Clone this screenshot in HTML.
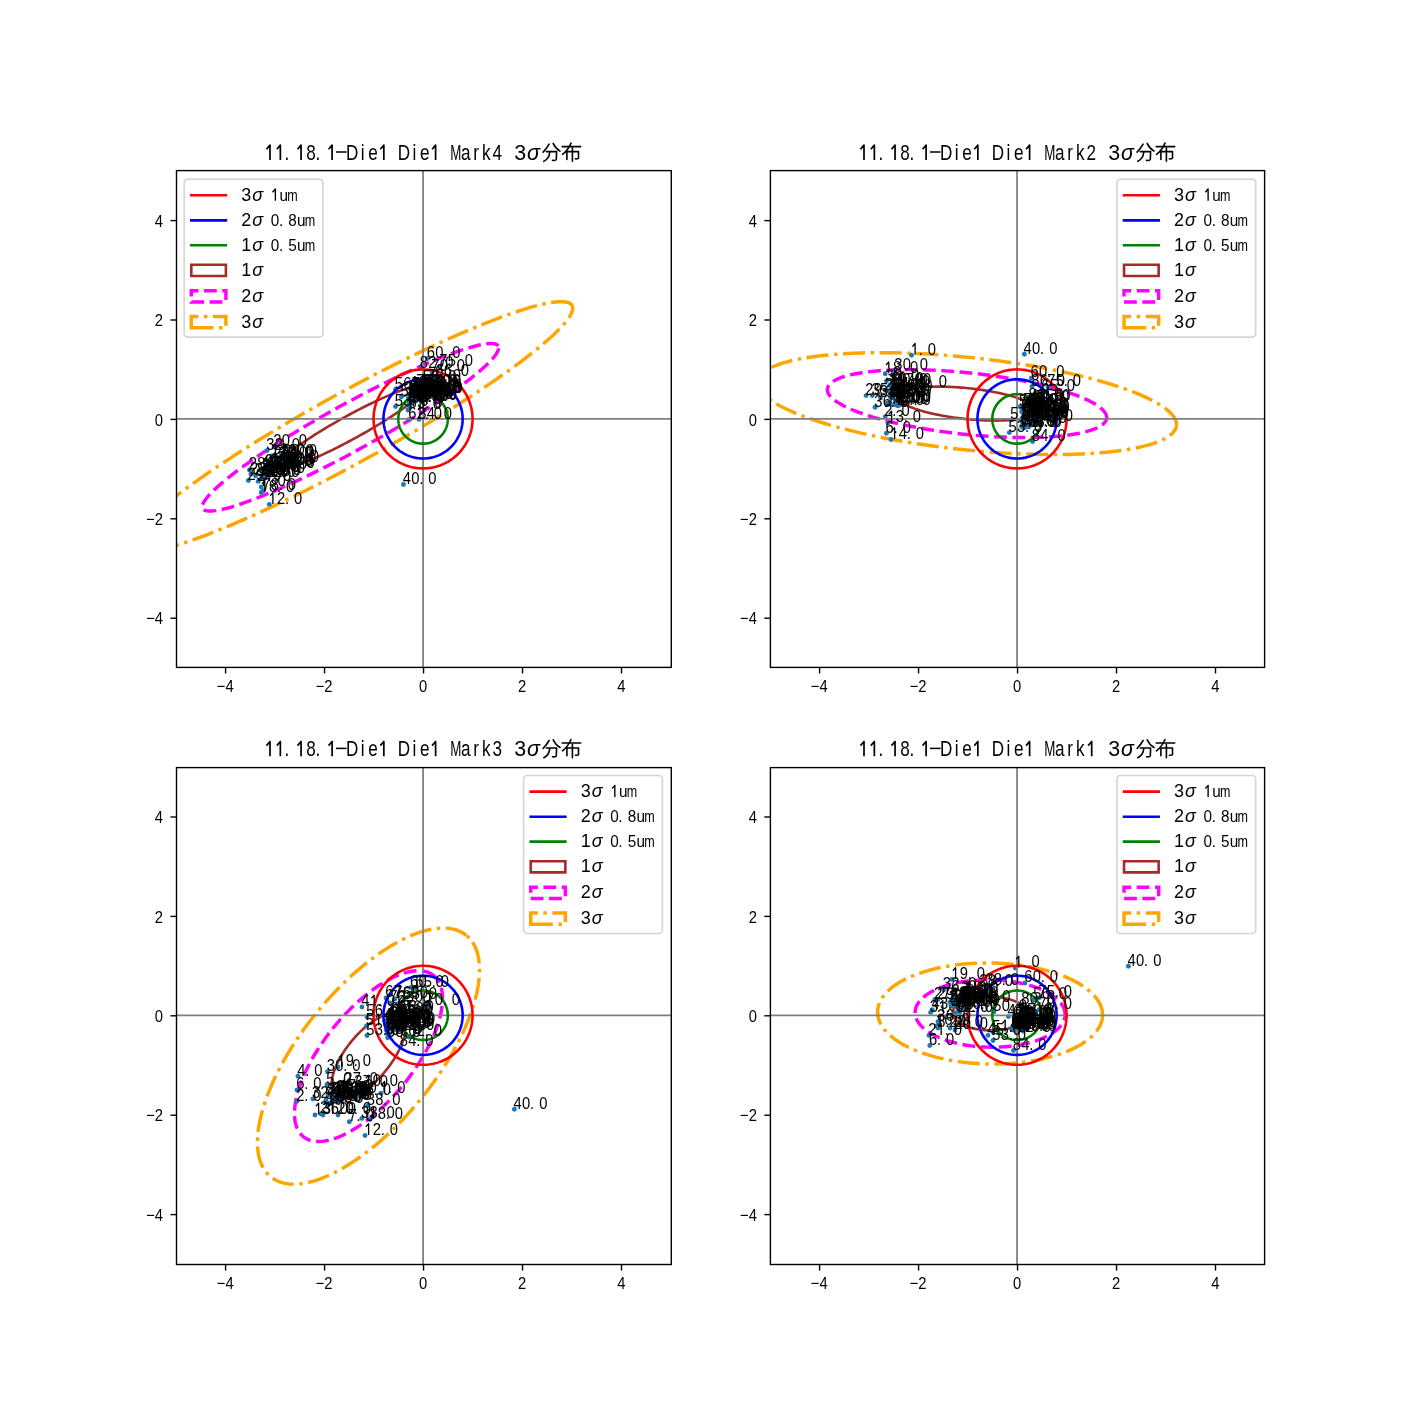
<!DOCTYPE html><html><head><meta charset="utf-8"><style>html,body{margin:0;padding:0;background:#fff;}svg{display:block;will-change:transform}</style></head><body>
<svg width="1405" height="1420" viewBox="0 0 1405 1420">
<rect width="1405" height="1420" fill="#fff"/>
<defs>
<clipPath id="c0"><rect x="176.5" y="170.6" width="494.8" height="496.8"/></clipPath>
<clipPath id="c1"><rect x="770.4" y="170.6" width="494.2" height="496.8"/></clipPath>
<clipPath id="c2"><rect x="176.5" y="767.6" width="494.8" height="496.9"/></clipPath>
<clipPath id="c3"><rect x="770.4" y="767.6" width="494.2" height="496.9"/></clipPath>
</defs>
<g clip-path="url(#c0)">
<path d="M424.37 386.69 L424.13 386.36 L423.8 386.07 L423.38 385.84 L422.87 385.66 L422.27 385.52 L421.59 385.44 L420.81 385.41 L419.96 385.44 L419.02 385.51 L417.99 385.63 L416.88 385.8 L415.69 386.03 L414.43 386.3 L413.08 386.63 L411.66 387 L410.16 387.43 L408.59 387.9 L406.95 388.42 L405.24 388.99 L403.47 389.6 L401.63 390.26 L399.72 390.96 L397.76 391.71 L395.74 392.51 L393.67 393.34 L391.54 394.22 L389.36 395.13 L387.14 396.09 L384.87 397.08 L382.55 398.11 L380.2 399.18 L377.82 400.28 L375.4 401.42 L372.95 402.58 L370.47 403.78 L367.97 405 L365.44 406.25 L362.9 407.53 L360.35 408.83 L357.78 410.15 L355.2 411.49 L352.62 412.86 L350.03 414.24 L347.45 415.64 L344.86 417.05 L342.29 418.47 L339.72 419.91 L337.17 421.35 L334.64 422.8 L332.12 424.26 L329.63 425.71 L327.16 427.18 L324.72 428.64 L322.31 430.1 L319.94 431.56 L317.6 433.01 L315.3 434.45 L313.05 435.89 L310.84 437.31 L308.68 438.73 L306.57 440.13 L304.52 441.51 L302.52 442.88 L300.58 444.22 L298.7 445.55 L296.88 446.86 L295.13 448.14 L293.45 449.39 L291.83 450.62 L290.29 451.82 L288.82 452.99 L287.42 454.13 L286.1 455.24 L284.87 456.31 L283.71 457.34 L282.63 458.34 L281.63 459.31 L280.72 460.23 L279.89 461.11 L279.15 461.96 L278.5 462.76 L277.94 463.51 L277.46 464.23 L277.07 464.89 L276.77 465.51 L276.56 466.09 L276.44 466.62 L276.41 467.1 L276.48 467.53 L276.63 467.91 L276.87 468.24 L277.2 468.53 L277.62 468.76 L278.13 468.94 L278.73 469.08 L279.41 469.16 L280.19 469.19 L281.04 469.16 L281.98 469.09 L283.01 468.97 L284.12 468.8 L285.31 468.57 L286.57 468.3 L287.92 467.97 L289.34 467.6 L290.84 467.17 L292.41 466.7 L294.05 466.18 L295.76 465.61 L297.53 465 L299.37 464.34 L301.28 463.64 L303.24 462.89 L305.26 462.09 L307.33 461.26 L309.46 460.38 L311.64 459.47 L313.86 458.51 L316.13 457.52 L318.45 456.49 L320.8 455.42 L323.18 454.32 L325.6 453.18 L328.05 452.02 L330.53 450.82 L333.03 449.6 L335.56 448.35 L338.1 447.07 L340.65 445.77 L343.22 444.45 L345.8 443.11 L348.38 441.74 L350.97 440.36 L353.55 438.96 L356.14 437.55 L358.71 436.13 L361.28 434.69 L363.83 433.25 L366.36 431.8 L368.88 430.34 L371.37 428.89 L373.84 427.42 L376.28 425.96 L378.69 424.5 L381.06 423.04 L383.4 421.59 L385.7 420.15 L387.95 418.71 L390.16 417.29 L392.32 415.87 L394.43 414.47 L396.48 413.09 L398.48 411.72 L400.42 410.38 L402.3 409.05 L404.12 407.74 L405.87 406.46 L407.55 405.21 L409.17 403.98 L410.71 402.78 L412.18 401.61 L413.58 400.47 L414.9 399.36 L416.13 398.29 L417.29 397.26 L418.37 396.26 L419.37 395.29 L420.28 394.37 L421.11 393.49 L421.85 392.64 L422.5 391.84 L423.06 391.09 L423.54 390.37 L423.93 389.71 L424.23 389.09 L424.44 388.51 L424.56 387.98 L424.59 387.5 L424.52 387.07 L424.37 386.69Z" fill="none" stroke="#a52a2a" stroke-width="2.59"/>
<path d="M498.25 346.08 L497.76 345.41 L497.1 344.84 L496.26 344.38 L495.24 344.01 L494.04 343.75 L492.67 343.59 L491.13 343.53 L489.41 343.57 L487.53 343.72 L485.48 343.96 L483.26 344.31 L480.89 344.76 L478.35 345.31 L475.66 345.96 L472.81 346.71 L469.82 347.55 L466.68 348.5 L463.4 349.54 L459.98 350.67 L456.43 351.9 L452.75 353.22 L448.95 354.63 L445.02 356.13 L440.98 357.71 L436.83 359.38 L432.58 361.14 L428.22 362.97 L423.77 364.88 L419.23 366.87 L414.61 368.93 L409.91 371.06 L405.14 373.26 L400.29 375.53 L395.39 377.86 L390.44 380.25 L385.43 382.7 L380.39 385.2 L375.3 387.75 L370.19 390.36 L365.05 393 L359.9 395.69 L354.73 398.42 L349.56 401.18 L344.39 403.97 L339.23 406.79 L334.08 409.64 L328.95 412.51 L323.85 415.4 L318.77 418.3 L313.74 421.21 L308.76 424.13 L303.82 427.05 L298.94 429.98 L294.12 432.9 L289.37 435.81 L284.7 438.71 L280.11 441.6 L275.6 444.48 L271.18 447.33 L266.86 450.15 L262.65 452.95 L258.54 455.72 L254.54 458.45 L250.66 461.15 L246.9 463.8 L243.26 466.41 L239.76 468.97 L236.39 471.48 L233.16 473.94 L230.07 476.34 L227.13 478.68 L224.35 480.96 L221.71 483.17 L219.23 485.32 L216.91 487.39 L214.76 489.39 L212.77 491.31 L210.94 493.16 L209.29 494.93 L207.81 496.61 L206.5 498.21 L205.37 499.73 L204.42 501.15 L203.64 502.49 L203.04 503.73 L202.62 504.88 L202.39 505.94 L202.33 506.9 L202.45 507.76 L202.75 508.52 L203.24 509.19 L203.9 509.76 L204.74 510.22 L205.76 510.59 L206.96 510.85 L208.33 511.01 L209.87 511.07 L211.59 511.03 L213.47 510.88 L215.52 510.64 L217.74 510.29 L220.11 509.84 L222.65 509.29 L225.34 508.64 L228.19 507.89 L231.18 507.05 L234.32 506.1 L237.6 505.06 L241.02 503.93 L244.57 502.7 L248.25 501.38 L252.05 499.97 L255.98 498.47 L260.02 496.89 L264.17 495.22 L268.42 493.46 L272.78 491.63 L277.23 489.72 L281.77 487.73 L286.39 485.67 L291.09 483.54 L295.86 481.34 L300.71 479.07 L305.61 476.74 L310.56 474.35 L315.57 471.9 L320.61 469.4 L325.7 466.85 L330.81 464.24 L335.95 461.6 L341.1 458.91 L346.27 456.18 L351.44 453.42 L356.61 450.63 L361.77 447.81 L366.92 444.96 L372.05 442.09 L377.15 439.2 L382.23 436.3 L387.26 433.39 L392.24 430.47 L397.18 427.55 L402.06 424.62 L406.88 421.7 L411.63 418.79 L416.3 415.89 L420.89 413 L425.4 410.12 L429.82 407.27 L434.14 404.45 L438.35 401.65 L442.46 398.88 L446.46 396.15 L450.34 393.45 L454.1 390.8 L457.74 388.19 L461.24 385.63 L464.61 383.12 L467.84 380.66 L470.93 378.26 L473.87 375.92 L476.65 373.64 L479.29 371.43 L481.77 369.28 L484.09 367.21 L486.24 365.21 L488.23 363.29 L490.06 361.44 L491.71 359.67 L493.19 357.99 L494.5 356.39 L495.63 354.87 L496.58 353.45 L497.36 352.11 L497.96 350.87 L498.38 349.72 L498.61 348.66 L498.67 347.7 L498.55 346.84 L498.25 346.08Z" fill="none" stroke="#ff00ff" stroke-width="3.46" stroke-dasharray="12.79 5.53"/>
<path d="M572.12 305.46 L571.39 304.47 L570.4 303.62 L569.14 302.92 L567.61 302.37 L565.81 301.97 L563.76 301.73 L561.44 301.64 L558.87 301.71 L556.05 301.92 L552.97 302.29 L549.65 302.81 L546.08 303.49 L542.28 304.31 L538.24 305.29 L533.97 306.41 L529.48 307.68 L524.77 309.09 L519.85 310.65 L514.73 312.36 L509.4 314.2 L503.88 316.18 L498.17 318.29 L492.29 320.54 L486.23 322.92 L480 325.42 L473.62 328.05 L467.08 330.8 L460.41 333.67 L453.6 336.65 L446.66 339.74 L439.61 342.94 L432.45 346.25 L425.19 349.65 L417.84 353.14 L410.41 356.73 L402.9 360.4 L395.33 364.15 L387.71 367.98 L380.04 371.88 L372.33 375.85 L364.6 379.88 L356.85 383.97 L349.09 388.12 L341.34 392.31 L333.59 396.54 L325.87 400.81 L318.17 405.12 L310.52 409.45 L302.91 413.8 L295.36 418.17 L287.88 422.54 L280.48 426.93 L273.16 431.32 L265.93 435.7 L258.81 440.07 L251.8 444.42 L244.91 448.76 L238.15 453.06 L231.53 457.34 L225.05 461.58 L218.72 465.78 L212.55 469.93 L206.56 474.03 L200.73 478.07 L195.09 482.05 L189.64 485.97 L184.39 489.81 L179.34 493.57 L174.49 497.26 L169.86 500.86 L165.45 504.37 L161.27 507.79 L157.31 511.11 L153.6 514.32 L150.12 517.43 L146.88 520.43 L143.9 523.32 L141.16 526.09 L138.68 528.74 L136.46 531.27 L134.5 533.67 L132.81 535.94 L131.37 538.08 L130.21 540.08 L129.31 541.94 L128.69 543.67 L128.33 545.25 L128.24 546.69 L128.43 547.99 L128.88 549.14 L129.61 550.13 L130.6 550.98 L131.86 551.68 L133.39 552.23 L135.19 552.63 L137.24 552.87 L139.56 552.96 L142.13 552.89 L144.95 552.68 L148.03 552.31 L151.35 551.79 L154.92 551.11 L158.72 550.29 L162.76 549.31 L167.03 548.19 L171.52 546.92 L176.23 545.51 L181.15 543.95 L186.27 542.24 L191.6 540.4 L197.12 538.42 L202.83 536.31 L208.71 534.06 L214.77 531.68 L221 529.18 L227.38 526.55 L233.92 523.8 L240.59 520.93 L247.4 517.95 L254.34 514.86 L261.39 511.66 L268.55 508.35 L275.81 504.95 L283.16 501.46 L290.59 497.87 L298.1 494.2 L305.67 490.45 L313.29 486.62 L320.96 482.72 L328.67 478.75 L336.4 474.72 L344.15 470.63 L351.91 466.48 L359.66 462.29 L367.41 458.06 L375.13 453.79 L382.83 449.48 L390.48 445.15 L398.09 440.8 L405.64 436.43 L413.12 432.06 L420.52 427.67 L427.84 423.28 L435.07 418.9 L442.19 414.53 L449.2 410.18 L456.09 405.84 L462.85 401.54 L469.47 397.26 L475.95 393.02 L482.28 388.82 L488.45 384.67 L494.44 380.57 L500.27 376.53 L505.91 372.55 L511.36 368.63 L516.61 364.79 L521.66 361.03 L526.51 357.34 L531.14 353.74 L535.55 350.23 L539.73 346.81 L543.69 343.49 L547.4 340.28 L550.88 337.17 L554.12 334.17 L557.1 331.28 L559.84 328.51 L562.32 325.86 L564.54 323.33 L566.5 320.93 L568.19 318.66 L569.63 316.52 L570.79 314.52 L571.69 312.66 L572.31 310.93 L572.67 309.35 L572.76 307.91 L572.57 306.61 L572.12 305.46Z" fill="none" stroke="#ffa500" stroke-width="3.46" stroke-dasharray="22.13 5.53 3.46 5.53"/>
<circle cx="403.45" cy="484.55" r="2.45" fill="#1f77b4"/>
<circle cx="417.95" cy="394.3" r="2.45" fill="#1f77b4"/>
<circle cx="418.65" cy="395.65" r="2.45" fill="#1f77b4"/>
<circle cx="421.56" cy="397.18" r="2.45" fill="#1f77b4"/>
<circle cx="408.89" cy="404.46" r="2.45" fill="#1f77b4"/>
<circle cx="427.82" cy="393.8" r="2.45" fill="#1f77b4"/>
<circle cx="410.12" cy="388.62" r="2.45" fill="#1f77b4"/>
<circle cx="412.28" cy="392.74" r="2.45" fill="#1f77b4"/>
<circle cx="415.27" cy="400.19" r="2.45" fill="#1f77b4"/>
<circle cx="417.22" cy="396.3" r="2.45" fill="#1f77b4"/>
<circle cx="429.79" cy="393.98" r="2.45" fill="#1f77b4"/>
<circle cx="413.84" cy="390.88" r="2.45" fill="#1f77b4"/>
<circle cx="424.42" cy="386.49" r="2.45" fill="#1f77b4"/>
<circle cx="428.76" cy="393.05" r="2.45" fill="#1f77b4"/>
<circle cx="428.02" cy="386.44" r="2.45" fill="#1f77b4"/>
<circle cx="408.75" cy="400.78" r="2.45" fill="#1f77b4"/>
<circle cx="410.56" cy="395.35" r="2.45" fill="#1f77b4"/>
<circle cx="409.88" cy="393.85" r="2.45" fill="#1f77b4"/>
<circle cx="423.52" cy="382.23" r="2.45" fill="#1f77b4"/>
<circle cx="412.17" cy="402.88" r="2.45" fill="#1f77b4"/>
<circle cx="409.75" cy="397.75" r="2.45" fill="#1f77b4"/>
<circle cx="427.67" cy="393.99" r="2.45" fill="#1f77b4"/>
<circle cx="412.51" cy="393.99" r="2.45" fill="#1f77b4"/>
<circle cx="409.38" cy="408.76" r="2.45" fill="#1f77b4"/>
<circle cx="423.89" cy="386.22" r="2.45" fill="#1f77b4"/>
<circle cx="409.04" cy="401.79" r="2.45" fill="#1f77b4"/>
<circle cx="416.29" cy="393.65" r="2.45" fill="#1f77b4"/>
<circle cx="419.88" cy="399.43" r="2.45" fill="#1f77b4"/>
<circle cx="426.99" cy="393.85" r="2.45" fill="#1f77b4"/>
<circle cx="424.07" cy="400.26" r="2.45" fill="#1f77b4"/>
<circle cx="426" cy="389.72" r="2.45" fill="#1f77b4"/>
<circle cx="407.96" cy="409.95" r="2.45" fill="#1f77b4"/>
<circle cx="411.97" cy="402.15" r="2.45" fill="#1f77b4"/>
<circle cx="411.51" cy="402.13" r="2.45" fill="#1f77b4"/>
<circle cx="418.7" cy="398.31" r="2.45" fill="#1f77b4"/>
<circle cx="427.97" cy="381.49" r="2.45" fill="#1f77b4"/>
<circle cx="417.23" cy="386.28" r="2.45" fill="#1f77b4"/>
<circle cx="418.22" cy="386.57" r="2.45" fill="#1f77b4"/>
<circle cx="428.09" cy="387.87" r="2.45" fill="#1f77b4"/>
<circle cx="412.27" cy="389.56" r="2.45" fill="#1f77b4"/>
<circle cx="423.83" cy="399.11" r="2.45" fill="#1f77b4"/>
<circle cx="416" cy="401.11" r="2.45" fill="#1f77b4"/>
<circle cx="408.48" cy="397.81" r="2.45" fill="#1f77b4"/>
<circle cx="423.81" cy="391.34" r="2.45" fill="#1f77b4"/>
<circle cx="416.38" cy="397.46" r="2.45" fill="#1f77b4"/>
<circle cx="427.5" cy="358.5" r="2.45" fill="#1f77b4"/>
<circle cx="395.5" cy="389.5" r="2.45" fill="#1f77b4"/>
<circle cx="395.5" cy="406.5" r="2.45" fill="#1f77b4"/>
<circle cx="401.4" cy="396.9" r="2.45" fill="#1f77b4"/>
<circle cx="409" cy="419.4" r="2.45" fill="#1f77b4"/>
<circle cx="419" cy="419.4" r="2.45" fill="#1f77b4"/>
<circle cx="440" cy="366.3" r="2.45" fill="#1f77b4"/>
<circle cx="420.5" cy="368.5" r="2.45" fill="#1f77b4"/>
<circle cx="432" cy="372" r="2.45" fill="#1f77b4"/>
<circle cx="436" cy="376" r="2.45" fill="#1f77b4"/>
<circle cx="274.11" cy="467.53" r="2.45" fill="#1f77b4"/>
<circle cx="262.99" cy="471.13" r="2.45" fill="#1f77b4"/>
<circle cx="278.2" cy="463.68" r="2.45" fill="#1f77b4"/>
<circle cx="267.63" cy="470.52" r="2.45" fill="#1f77b4"/>
<circle cx="265.77" cy="476.93" r="2.45" fill="#1f77b4"/>
<circle cx="271.19" cy="465.37" r="2.45" fill="#1f77b4"/>
<circle cx="264.02" cy="477.83" r="2.45" fill="#1f77b4"/>
<circle cx="287.49" cy="466.85" r="2.45" fill="#1f77b4"/>
<circle cx="265.81" cy="466.22" r="2.45" fill="#1f77b4"/>
<circle cx="280.6" cy="456.39" r="2.45" fill="#1f77b4"/>
<circle cx="271.67" cy="464.29" r="2.45" fill="#1f77b4"/>
<circle cx="271.84" cy="455.95" r="2.45" fill="#1f77b4"/>
<circle cx="285.84" cy="462.24" r="2.45" fill="#1f77b4"/>
<circle cx="280.12" cy="465.92" r="2.45" fill="#1f77b4"/>
<circle cx="272.15" cy="465.9" r="2.45" fill="#1f77b4"/>
<circle cx="262.58" cy="477.23" r="2.45" fill="#1f77b4"/>
<circle cx="267.02" cy="468.54" r="2.45" fill="#1f77b4"/>
<circle cx="266.14" cy="472.48" r="2.45" fill="#1f77b4"/>
<circle cx="263.09" cy="468.5" r="2.45" fill="#1f77b4"/>
<circle cx="264.46" cy="471.01" r="2.45" fill="#1f77b4"/>
<circle cx="271.95" cy="473.41" r="2.45" fill="#1f77b4"/>
<circle cx="266.6" cy="477.09" r="2.45" fill="#1f77b4"/>
<circle cx="281.75" cy="468.76" r="2.45" fill="#1f77b4"/>
<circle cx="281.5" cy="458.87" r="2.45" fill="#1f77b4"/>
<circle cx="267.55" cy="472.73" r="2.45" fill="#1f77b4"/>
<circle cx="274.31" cy="458.44" r="2.45" fill="#1f77b4"/>
<circle cx="283.12" cy="464.2" r="2.45" fill="#1f77b4"/>
<circle cx="274.26" cy="469.87" r="2.45" fill="#1f77b4"/>
<circle cx="283.94" cy="456.02" r="2.45" fill="#1f77b4"/>
<circle cx="268.14" cy="475.33" r="2.45" fill="#1f77b4"/>
<circle cx="279.75" cy="458.19" r="2.45" fill="#1f77b4"/>
<circle cx="280.81" cy="467.42" r="2.45" fill="#1f77b4"/>
<circle cx="269.3" cy="504.4" r="2.45" fill="#1f77b4"/>
<circle cx="248.4" cy="480.5" r="2.45" fill="#1f77b4"/>
<circle cx="250.9" cy="474.1" r="2.45" fill="#1f77b4"/>
<circle cx="255.6" cy="475.8" r="2.45" fill="#1f77b4"/>
<circle cx="258.2" cy="481.4" r="2.45" fill="#1f77b4"/>
<circle cx="261.2" cy="486.9" r="2.45" fill="#1f77b4"/>
<circle cx="261.2" cy="492.5" r="2.45" fill="#1f77b4"/>
<circle cx="267" cy="450.6" r="2.45" fill="#1f77b4"/>
<circle cx="274" cy="447" r="2.45" fill="#1f77b4"/>
<circle cx="249.5" cy="470" r="2.45" fill="#1f77b4"/>
<circle cx="263" cy="490.8" r="2.45" fill="#1f77b4"/>
<line x1="176.5" y1="418.9" x2="671.3" y2="418.9" stroke="#808080" stroke-width="1.8"/>
<line x1="423.05" y1="170.6" x2="423.05" y2="667.4" stroke="#808080" stroke-width="1.8"/>
<path d="M472.55 418.9 L472.52 417.17 L472.43 415.45 L472.28 413.73 L472.07 412.01 L471.8 410.3 L471.47 408.61 L471.08 406.92 L470.63 405.26 L470.13 403.6 L469.56 401.97 L468.95 400.36 L468.27 398.77 L467.54 397.2 L466.76 395.66 L465.92 394.15 L465.03 392.67 L464.09 391.22 L463.1 389.8 L462.06 388.42 L460.97 387.08 L459.84 385.78 L458.66 384.51 L457.44 383.29 L456.17 382.11 L454.87 380.98 L453.53 379.89 L452.15 378.85 L450.73 377.86 L449.28 376.92 L447.8 376.03 L446.29 375.19 L444.75 374.41 L443.18 373.68 L441.59 373 L439.98 372.39 L438.35 371.82 L436.69 371.32 L435.03 370.87 L433.34 370.48 L431.65 370.15 L429.94 369.88 L428.22 369.67 L426.5 369.52 L424.78 369.43 L423.05 369.4 L421.32 369.43 L419.6 369.52 L417.88 369.67 L416.16 369.88 L414.45 370.15 L412.76 370.48 L411.07 370.87 L409.41 371.32 L407.75 371.82 L406.12 372.39 L404.51 373 L402.92 373.68 L401.35 374.41 L399.81 375.19 L398.3 376.03 L396.82 376.92 L395.37 377.86 L393.95 378.85 L392.57 379.89 L391.23 380.98 L389.93 382.11 L388.66 383.29 L387.44 384.51 L386.26 385.78 L385.13 387.08 L384.04 388.42 L383 389.8 L382.01 391.22 L381.07 392.67 L380.18 394.15 L379.34 395.66 L378.56 397.2 L377.83 398.77 L377.15 400.36 L376.54 401.97 L375.97 403.6 L375.47 405.26 L375.02 406.92 L374.63 408.61 L374.3 410.3 L374.03 412.01 L373.82 413.73 L373.67 415.45 L373.58 417.17 L373.55 418.9 L373.58 420.63 L373.67 422.35 L373.82 424.07 L374.03 425.79 L374.3 427.5 L374.63 429.19 L375.02 430.88 L375.47 432.54 L375.97 434.2 L376.54 435.83 L377.15 437.44 L377.83 439.03 L378.56 440.6 L379.34 442.14 L380.18 443.65 L381.07 445.13 L382.01 446.58 L383 448 L384.04 449.38 L385.13 450.72 L386.26 452.02 L387.44 453.29 L388.66 454.51 L389.93 455.69 L391.23 456.82 L392.57 457.91 L393.95 458.95 L395.37 459.94 L396.82 460.88 L398.3 461.77 L399.81 462.61 L401.35 463.39 L402.92 464.12 L404.51 464.8 L406.12 465.41 L407.75 465.98 L409.41 466.48 L411.07 466.93 L412.76 467.32 L414.45 467.65 L416.16 467.92 L417.88 468.13 L419.6 468.28 L421.32 468.37 L423.05 468.4 L424.78 468.37 L426.5 468.28 L428.22 468.13 L429.94 467.92 L431.65 467.65 L433.34 467.32 L435.03 466.93 L436.69 466.48 L438.35 465.98 L439.98 465.41 L441.59 464.8 L443.18 464.12 L444.75 463.39 L446.29 462.61 L447.8 461.77 L449.28 460.88 L450.73 459.94 L452.15 458.95 L453.53 457.91 L454.87 456.82 L456.17 455.69 L457.44 454.51 L458.66 453.29 L459.84 452.02 L460.97 450.72 L462.06 449.38 L463.1 448 L464.09 446.58 L465.03 445.13 L465.92 443.65 L466.76 442.14 L467.54 440.6 L468.27 439.03 L468.95 437.44 L469.56 435.83 L470.13 434.2 L470.63 432.54 L471.08 430.88 L471.47 429.19 L471.8 427.5 L472.07 425.79 L472.28 424.07 L472.43 422.35 L472.52 420.63 L472.55 418.9" fill="none" stroke="#ff0000" stroke-width="2.59"/>
<path d="M462.65 418.9 L462.63 417.52 L462.55 416.14 L462.43 414.76 L462.26 413.39 L462.05 412.02 L461.78 410.67 L461.47 409.32 L461.12 407.98 L460.71 406.66 L460.26 405.36 L459.77 404.07 L459.23 402.79 L458.64 401.54 L458.01 400.31 L457.34 399.1 L456.63 397.92 L455.88 396.76 L455.09 395.62 L454.26 394.52 L453.39 393.45 L452.48 392.4 L451.54 391.39 L450.56 390.41 L449.55 389.47 L448.5 388.56 L447.43 387.69 L446.33 386.86 L445.19 386.07 L444.03 385.32 L442.85 384.61 L441.64 383.94 L440.41 383.31 L439.16 382.72 L437.88 382.18 L436.59 381.69 L435.29 381.24 L433.97 380.83 L432.63 380.48 L431.28 380.17 L429.93 379.9 L428.56 379.69 L427.19 379.52 L425.81 379.4 L424.43 379.32 L423.05 379.3 L421.67 379.32 L420.29 379.4 L418.91 379.52 L417.54 379.69 L416.17 379.9 L414.82 380.17 L413.47 380.48 L412.13 380.83 L410.81 381.24 L409.51 381.69 L408.22 382.18 L406.94 382.72 L405.69 383.31 L404.46 383.94 L403.25 384.61 L402.07 385.32 L400.91 386.07 L399.77 386.86 L398.67 387.69 L397.6 388.56 L396.55 389.47 L395.54 390.41 L394.56 391.39 L393.62 392.4 L392.71 393.45 L391.84 394.52 L391.01 395.62 L390.22 396.76 L389.47 397.92 L388.76 399.1 L388.09 400.31 L387.46 401.54 L386.87 402.79 L386.33 404.07 L385.84 405.36 L385.39 406.66 L384.98 407.98 L384.63 409.32 L384.32 410.67 L384.05 412.02 L383.84 413.39 L383.67 414.76 L383.55 416.14 L383.47 417.52 L383.45 418.9 L383.47 420.28 L383.55 421.66 L383.67 423.04 L383.84 424.41 L384.05 425.78 L384.32 427.13 L384.63 428.48 L384.98 429.82 L385.39 431.14 L385.84 432.44 L386.33 433.73 L386.87 435.01 L387.46 436.26 L388.09 437.49 L388.76 438.7 L389.47 439.88 L390.22 441.04 L391.01 442.18 L391.84 443.28 L392.71 444.35 L393.62 445.4 L394.56 446.41 L395.54 447.39 L396.55 448.33 L397.6 449.24 L398.67 450.11 L399.77 450.94 L400.91 451.73 L402.07 452.48 L403.25 453.19 L404.46 453.86 L405.69 454.49 L406.94 455.08 L408.22 455.62 L409.51 456.11 L410.81 456.56 L412.13 456.97 L413.47 457.32 L414.82 457.63 L416.17 457.9 L417.54 458.11 L418.91 458.28 L420.29 458.4 L421.67 458.48 L423.05 458.5 L424.43 458.48 L425.81 458.4 L427.19 458.28 L428.56 458.11 L429.93 457.9 L431.28 457.63 L432.63 457.32 L433.97 456.97 L435.29 456.56 L436.59 456.11 L437.88 455.62 L439.16 455.08 L440.41 454.49 L441.64 453.86 L442.85 453.19 L444.03 452.48 L445.19 451.73 L446.33 450.94 L447.43 450.11 L448.5 449.24 L449.55 448.33 L450.56 447.39 L451.54 446.41 L452.48 445.4 L453.39 444.35 L454.26 443.28 L455.09 442.18 L455.88 441.04 L456.63 439.88 L457.34 438.7 L458.01 437.49 L458.64 436.26 L459.23 435.01 L459.77 433.73 L460.26 432.44 L460.71 431.14 L461.12 429.82 L461.47 428.48 L461.78 427.13 L462.05 425.78 L462.26 424.41 L462.43 423.04 L462.55 421.66 L462.63 420.28 L462.65 418.9" fill="none" stroke="#0000ff" stroke-width="2.59"/>
<path d="M447.8 418.9 L447.78 418.04 L447.74 417.17 L447.66 416.31 L447.56 415.46 L447.42 414.6 L447.26 413.75 L447.06 412.91 L446.84 412.08 L446.59 411.25 L446.31 410.44 L446 409.63 L445.66 408.83 L445.3 408.05 L444.9 407.28 L444.48 406.52 L444.04 405.78 L443.57 405.06 L443.07 404.35 L442.55 403.66 L442.01 402.99 L441.44 402.34 L440.85 401.71 L440.24 401.1 L439.61 400.51 L438.96 399.94 L438.29 399.4 L437.6 398.88 L436.89 398.38 L436.17 397.91 L435.42 397.47 L434.67 397.05 L433.9 396.65 L433.12 396.29 L432.32 395.95 L431.51 395.64 L430.7 395.36 L429.87 395.11 L429.04 394.89 L428.2 394.69 L427.35 394.53 L426.49 394.39 L425.64 394.29 L424.78 394.21 L423.91 394.17 L423.05 394.15 L422.19 394.17 L421.32 394.21 L420.46 394.29 L419.61 394.39 L418.75 394.53 L417.9 394.69 L417.06 394.89 L416.23 395.11 L415.4 395.36 L414.59 395.64 L413.78 395.95 L412.98 396.29 L412.2 396.65 L411.43 397.05 L410.67 397.47 L409.93 397.91 L409.21 398.38 L408.5 398.88 L407.81 399.4 L407.14 399.94 L406.49 400.51 L405.86 401.1 L405.25 401.71 L404.66 402.34 L404.09 402.99 L403.55 403.66 L403.03 404.35 L402.53 405.06 L402.06 405.78 L401.62 406.52 L401.2 407.28 L400.8 408.05 L400.44 408.83 L400.1 409.63 L399.79 410.44 L399.51 411.25 L399.26 412.08 L399.04 412.91 L398.84 413.75 L398.68 414.6 L398.54 415.46 L398.44 416.31 L398.36 417.17 L398.32 418.04 L398.3 418.9 L398.32 419.76 L398.36 420.63 L398.44 421.49 L398.54 422.34 L398.68 423.2 L398.84 424.05 L399.04 424.89 L399.26 425.72 L399.51 426.55 L399.79 427.36 L400.1 428.17 L400.44 428.97 L400.8 429.75 L401.2 430.52 L401.62 431.27 L402.06 432.02 L402.53 432.74 L403.03 433.45 L403.55 434.14 L404.09 434.81 L404.66 435.46 L405.25 436.09 L405.86 436.7 L406.49 437.29 L407.14 437.86 L407.81 438.4 L408.5 438.92 L409.21 439.42 L409.93 439.89 L410.67 440.33 L411.43 440.75 L412.2 441.15 L412.98 441.51 L413.78 441.85 L414.59 442.16 L415.4 442.44 L416.23 442.69 L417.06 442.91 L417.9 443.11 L418.75 443.27 L419.61 443.41 L420.46 443.51 L421.32 443.59 L422.19 443.63 L423.05 443.65 L423.91 443.63 L424.78 443.59 L425.64 443.51 L426.49 443.41 L427.35 443.27 L428.2 443.11 L429.04 442.91 L429.87 442.69 L430.7 442.44 L431.51 442.16 L432.32 441.85 L433.12 441.51 L433.9 441.15 L434.67 440.75 L435.42 440.33 L436.17 439.89 L436.89 439.42 L437.6 438.92 L438.29 438.4 L438.96 437.86 L439.61 437.29 L440.24 436.7 L440.85 436.09 L441.44 435.46 L442.01 434.81 L442.55 434.14 L443.07 433.45 L443.57 432.74 L444.04 432.02 L444.48 431.27 L444.9 430.52 L445.3 429.75 L445.66 428.97 L446 428.17 L446.31 427.36 L446.59 426.55 L446.84 425.72 L447.06 424.89 L447.26 424.05 L447.42 423.2 L447.56 422.34 L447.66 421.49 L447.74 420.63 L447.78 419.76 L447.8 418.9" fill="none" stroke="#008000" stroke-width="2.59"/>
<text x="447.41 456.82 465.71 475.82" y="484.05" transform="scale(0.9,1)" font-family='"Liberation Sans", sans-serif' font-size="16.4" fill="#000">40.0</text>
<text x="463.51 481.81 491.93" y="393.8" transform="scale(0.9,1)" font-family='"Liberation Sans", sans-serif' font-size="16.4" fill="#000">4.0</text>
<path d="M427.39 385.6 L430.1 382.49 L430.1 393.8" fill="none" stroke="#000" stroke-width="1.31" stroke-linejoin="round"/>
<text x="464.3 473.71 482.59 492.71" y="395.15" transform="scale(0.9,1)" font-family='"Liberation Sans", sans-serif' font-size="16.4" fill="#000">42.0</text>
<text x="467.53 477.03 485.83 495.95" y="396.68" transform="scale(0.9,1)" font-family='"Liberation Sans", sans-serif' font-size="16.4" fill="#000">43.0</text>
<text x="453.45 462.95 471.75 481.87" y="403.96" transform="scale(0.9,1)" font-family='"Liberation Sans", sans-serif' font-size="16.4" fill="#000">44.0</text>
<text x="474.49 483.99 492.79 502.91" y="393.3" transform="scale(0.9,1)" font-family='"Liberation Sans", sans-serif' font-size="16.4" fill="#000">45.0</text>
<text x="454.82 464.24 473.12 483.24" y="388.12" transform="scale(0.9,1)" font-family='"Liberation Sans", sans-serif' font-size="16.4" fill="#000">46.0</text>
<text x="457.22 466.64 475.52 485.64" y="392.24" transform="scale(0.9,1)" font-family='"Liberation Sans", sans-serif' font-size="16.4" fill="#000">47.0</text>
<text x="460.54 470.04 478.84 488.96" y="399.69" transform="scale(0.9,1)" font-family='"Liberation Sans", sans-serif' font-size="16.4" fill="#000">48.0</text>
<text x="462.7 472.12 481 491.12" y="395.8" transform="scale(0.9,1)" font-family='"Liberation Sans", sans-serif' font-size="16.4" fill="#000">49.0</text>
<text x="476.67 486.09 494.97 505.09" y="393.48" transform="scale(0.9,1)" font-family='"Liberation Sans", sans-serif' font-size="16.4" fill="#000">50.0</text>
<text x="458.95 477.25 487.37" y="390.38" transform="scale(0.9,1)" font-family='"Liberation Sans", sans-serif' font-size="16.4" fill="#000">5.0</text>
<path d="M423.29 382.18 L426 379.06 L426 390.38" fill="none" stroke="#000" stroke-width="1.31" stroke-linejoin="round"/>
<text x="470.71 480.13 489.01 499.13" y="385.99" transform="scale(0.9,1)" font-family='"Liberation Sans", sans-serif' font-size="16.4" fill="#000">52.0</text>
<text x="475.53 485.03 493.83 503.95" y="392.55" transform="scale(0.9,1)" font-family='"Liberation Sans", sans-serif' font-size="16.4" fill="#000">53.0</text>
<text x="474.71 484.21 493.01 503.13" y="385.94" transform="scale(0.9,1)" font-family='"Liberation Sans", sans-serif' font-size="16.4" fill="#000">54.0</text>
<text x="453.29 462.79 471.59 481.71" y="400.28" transform="scale(0.9,1)" font-family='"Liberation Sans", sans-serif' font-size="16.4" fill="#000">55.0</text>
<text x="455.31 464.72 473.6 483.72" y="394.85" transform="scale(0.9,1)" font-family='"Liberation Sans", sans-serif' font-size="16.4" fill="#000">56.0</text>
<text x="454.55 463.97 472.85 482.97" y="393.35" transform="scale(0.9,1)" font-family='"Liberation Sans", sans-serif' font-size="16.4" fill="#000">57.0</text>
<text x="469.71 479.21 488.01 498.12" y="381.73" transform="scale(0.9,1)" font-family='"Liberation Sans", sans-serif' font-size="16.4" fill="#000">58.0</text>
<text x="457.1 466.52 475.4 485.52" y="402.38" transform="scale(0.9,1)" font-family='"Liberation Sans", sans-serif' font-size="16.4" fill="#000">59.0</text>
<text x="454.32 463.82 472.7 482.82" y="397.25" transform="scale(0.9,1)" font-family='"Liberation Sans", sans-serif' font-size="16.4" fill="#000">60.0</text>
<text x="474.23 492.61 502.73" y="393.49" transform="scale(0.9,1)" font-family='"Liberation Sans", sans-serif' font-size="16.4" fill="#000">6.0</text>
<path d="M437.11 385.29 L439.82 382.17 L439.82 393.49" fill="none" stroke="#000" stroke-width="1.31" stroke-linejoin="round"/>
<text x="457.39 466.89 475.77 485.89" y="393.49" transform="scale(0.9,1)" font-family='"Liberation Sans", sans-serif' font-size="16.4" fill="#000">62.0</text>
<text x="453.92 463.5 472.3 482.42" y="408.26" transform="scale(0.9,1)" font-family='"Liberation Sans", sans-serif' font-size="16.4" fill="#000">63.0</text>
<text x="470.03 479.61 488.41 498.53" y="385.72" transform="scale(0.9,1)" font-family='"Liberation Sans", sans-serif' font-size="16.4" fill="#000">64.0</text>
<text x="453.54 463.12 471.92 482.04" y="401.29" transform="scale(0.9,1)" font-family='"Liberation Sans", sans-serif' font-size="16.4" fill="#000">65.0</text>
<text x="461.59 471.09 479.97 490.09" y="393.15" transform="scale(0.9,1)" font-family='"Liberation Sans", sans-serif' font-size="16.4" fill="#000">66.0</text>
<text x="465.58 475.08 483.96 494.08" y="398.93" transform="scale(0.9,1)" font-family='"Liberation Sans", sans-serif' font-size="16.4" fill="#000">67.0</text>
<text x="473.48 483.06 491.86 501.98" y="393.35" transform="scale(0.9,1)" font-family='"Liberation Sans", sans-serif' font-size="16.4" fill="#000">68.0</text>
<text x="470.24 479.74 488.62 498.74" y="399.76" transform="scale(0.9,1)" font-family='"Liberation Sans", sans-serif' font-size="16.4" fill="#000">69.0</text>
<text x="472.38 481.88 490.76 500.88" y="389.22" transform="scale(0.9,1)" font-family='"Liberation Sans", sans-serif' font-size="16.4" fill="#000">70.0</text>
<text x="452.34 470.72 480.84" y="409.45" transform="scale(0.9,1)" font-family='"Liberation Sans", sans-serif' font-size="16.4" fill="#000">7.0</text>
<path d="M417.41 401.25 L420.12 398.13 L420.12 409.45" fill="none" stroke="#000" stroke-width="1.31" stroke-linejoin="round"/>
<text x="456.79 466.29 475.17 485.29" y="401.65" transform="scale(0.9,1)" font-family='"Liberation Sans", sans-serif' font-size="16.4" fill="#000">72.0</text>
<text x="456.28 465.87 474.66 484.78" y="401.63" transform="scale(0.9,1)" font-family='"Liberation Sans", sans-serif' font-size="16.4" fill="#000">73.0</text>
<text x="464.26 473.85 482.64 492.76" y="397.81" transform="scale(0.9,1)" font-family='"Liberation Sans", sans-serif' font-size="16.4" fill="#000">74.0</text>
<text x="474.57 484.15 492.95 503.07" y="380.99" transform="scale(0.9,1)" font-family='"Liberation Sans", sans-serif' font-size="16.4" fill="#000">75.0</text>
<text x="462.64 472.14 481.02 491.14" y="385.78" transform="scale(0.9,1)" font-family='"Liberation Sans", sans-serif' font-size="16.4" fill="#000">76.0</text>
<text x="463.74 473.24 482.12 492.24" y="386.07" transform="scale(0.9,1)" font-family='"Liberation Sans", sans-serif' font-size="16.4" fill="#000">77.0</text>
<text x="474.71 484.29 493.09 503.21" y="387.37" transform="scale(0.9,1)" font-family='"Liberation Sans", sans-serif' font-size="16.4" fill="#000">78.0</text>
<text x="457.12 466.62 475.5 485.62" y="389.06" transform="scale(0.9,1)" font-family='"Liberation Sans", sans-serif' font-size="16.4" fill="#000">79.0</text>
<text x="470.05 479.47 488.35 498.47" y="398.61" transform="scale(0.9,1)" font-family='"Liberation Sans", sans-serif' font-size="16.4" fill="#000">80.0</text>
<text x="461.35 479.65 489.77" y="400.61" transform="scale(0.9,1)" font-family='"Liberation Sans", sans-serif' font-size="16.4" fill="#000">8.0</text>
<path d="M425.45 392.41 L428.15 389.3 L428.15 400.61" fill="none" stroke="#000" stroke-width="1.31" stroke-linejoin="round"/>
<text x="453 462.41 471.29 481.41" y="397.31" transform="scale(0.9,1)" font-family='"Liberation Sans", sans-serif' font-size="16.4" fill="#000">82.0</text>
<text x="470.03 479.53 488.33 498.45" y="390.84" transform="scale(0.9,1)" font-family='"Liberation Sans", sans-serif' font-size="16.4" fill="#000">83.0</text>
<text x="461.78 471.28 480.08 490.2" y="396.96" transform="scale(0.9,1)" font-family='"Liberation Sans", sans-serif' font-size="16.4" fill="#000">84.0</text>
<text x="474.05 483.55 492.43 502.55" y="358" transform="scale(0.9,1)" font-family='"Liberation Sans", sans-serif' font-size="16.4" fill="#000">60.0</text>
<text x="438.57 447.99 456.87 466.99" y="389" transform="scale(0.9,1)" font-family='"Liberation Sans", sans-serif' font-size="16.4" fill="#000">56.0</text>
<text x="438.57 448.07 456.87 466.99" y="406" transform="scale(0.9,1)" font-family='"Liberation Sans", sans-serif' font-size="16.4" fill="#000">53.0</text>
<text x="445.13 454.63 463.43 473.55" y="396.4" transform="scale(0.9,1)" font-family='"Liberation Sans", sans-serif' font-size="16.4" fill="#000">58.0</text>
<text x="453.49 462.99 471.87 481.99" y="418.9" transform="scale(0.9,1)" font-family='"Liberation Sans", sans-serif' font-size="16.4" fill="#000">62.0</text>
<text x="464.68 474.18 482.98 493.1" y="418.9" transform="scale(0.9,1)" font-family='"Liberation Sans", sans-serif' font-size="16.4" fill="#000">84.0</text>
<text x="487.94 497.52 506.32 516.44" y="365.8" transform="scale(0.9,1)" font-family='"Liberation Sans", sans-serif' font-size="16.4" fill="#000">75.0</text>
<text x="466.35 475.77 484.65 494.77" y="368" transform="scale(0.9,1)" font-family='"Liberation Sans", sans-serif' font-size="16.4" fill="#000">82.0</text>
<text x="479.05 488.55 497.43 507.55" y="371.5" transform="scale(0.9,1)" font-family='"Liberation Sans", sans-serif' font-size="16.4" fill="#000">70.0</text>
<text x="483.49 492.99 501.87 511.99" y="375.5" transform="scale(0.9,1)" font-family='"Liberation Sans", sans-serif' font-size="16.4" fill="#000">66.0</text>
<text x="312.5 322.62" y="467.03" transform="scale(0.9,1)" font-family='"Liberation Sans", sans-serif' font-size="16.4" fill="#000">.0</text>
<path d="M275.01 458.83 L277.71 455.72 L277.71 467.03" fill="none" stroke="#000" stroke-width="1.31" stroke-linejoin="round"/>
<text x="291.25 300.13 310.25" y="470.63" transform="scale(0.9,1)" font-family='"Liberation Sans", sans-serif' font-size="16.4" fill="#000">2.0</text>
<text x="308.24 317.04 327.16" y="463.18" transform="scale(0.9,1)" font-family='"Liberation Sans", sans-serif' font-size="16.4" fill="#000">3.0</text>
<text x="296.49 305.29 315.41" y="470.02" transform="scale(0.9,1)" font-family='"Liberation Sans", sans-serif' font-size="16.4" fill="#000">4.0</text>
<text x="294.43 303.23 313.35" y="476.43" transform="scale(0.9,1)" font-family='"Liberation Sans", sans-serif' font-size="16.4" fill="#000">5.0</text>
<text x="300.37 309.25 319.37" y="464.87" transform="scale(0.9,1)" font-family='"Liberation Sans", sans-serif' font-size="16.4" fill="#000">6.0</text>
<text x="292.41 301.29 311.41" y="477.33" transform="scale(0.9,1)" font-family='"Liberation Sans", sans-serif' font-size="16.4" fill="#000">7.0</text>
<text x="318.56 327.36 337.48" y="466.35" transform="scale(0.9,1)" font-family='"Liberation Sans", sans-serif' font-size="16.4" fill="#000">8.0</text>
<text x="294.39 303.27 313.39" y="465.72" transform="scale(0.9,1)" font-family='"Liberation Sans", sans-serif' font-size="16.4" fill="#000">9.0</text>
<text x="320.32 329.2 339.32" y="455.89" transform="scale(0.9,1)" font-family='"Liberation Sans", sans-serif' font-size="16.4" fill="#000">0.0</text>
<path d="M281.49 447.69 L284.2 444.58 L284.2 455.89" fill="none" stroke="#000" stroke-width="1.31" stroke-linejoin="round"/>
<text x="319.29 329.41" y="463.79" transform="scale(0.9,1)" font-family='"Liberation Sans", sans-serif' font-size="16.4" fill="#000">.0</text>
<path d="M272.57 455.59 L275.28 452.47 L275.28 463.79M281.12 455.59 L283.83 452.47 L283.83 463.79" fill="none" stroke="#000" stroke-width="1.31" stroke-linejoin="round"/>
<text x="310.59 319.47 329.59" y="455.45" transform="scale(0.9,1)" font-family='"Liberation Sans", sans-serif' font-size="16.4" fill="#000">2.0</text>
<path d="M272.74 447.25 L275.45 444.14 L275.45 455.45" fill="none" stroke="#000" stroke-width="1.31" stroke-linejoin="round"/>
<text x="326.23 335.03 345.15" y="461.74" transform="scale(0.9,1)" font-family='"Liberation Sans", sans-serif' font-size="16.4" fill="#000">3.0</text>
<path d="M286.74 453.54 L289.45 450.42 L289.45 461.74" fill="none" stroke="#000" stroke-width="1.31" stroke-linejoin="round"/>
<text x="319.87 328.67 338.79" y="465.42" transform="scale(0.9,1)" font-family='"Liberation Sans", sans-serif' font-size="16.4" fill="#000">4.0</text>
<path d="M281.01 457.22 L283.72 454.11 L283.72 465.42" fill="none" stroke="#000" stroke-width="1.31" stroke-linejoin="round"/>
<text x="311.02 319.82 329.94" y="465.4" transform="scale(0.9,1)" font-family='"Liberation Sans", sans-serif' font-size="16.4" fill="#000">5.0</text>
<path d="M273.05 457.2 L275.76 454.09 L275.76 465.4" fill="none" stroke="#000" stroke-width="1.31" stroke-linejoin="round"/>
<text x="300.3 309.18 319.3" y="476.73" transform="scale(0.9,1)" font-family='"Liberation Sans", sans-serif' font-size="16.4" fill="#000">6.0</text>
<path d="M263.48 468.53 L266.18 465.41 L266.18 476.73" fill="none" stroke="#000" stroke-width="1.31" stroke-linejoin="round"/>
<text x="305.24 314.12 324.24" y="468.04" transform="scale(0.9,1)" font-family='"Liberation Sans", sans-serif' font-size="16.4" fill="#000">7.0</text>
<path d="M267.92 459.84 L270.62 456.72 L270.62 468.04" fill="none" stroke="#000" stroke-width="1.31" stroke-linejoin="round"/>
<text x="304.34 313.13 323.25" y="471.98" transform="scale(0.9,1)" font-family='"Liberation Sans", sans-serif' font-size="16.4" fill="#000">8.0</text>
<path d="M267.03 463.78 L269.74 460.67 L269.74 471.98" fill="none" stroke="#000" stroke-width="1.31" stroke-linejoin="round"/>
<text x="300.87 309.75 319.87" y="468" transform="scale(0.9,1)" font-family='"Liberation Sans", sans-serif' font-size="16.4" fill="#000">9.0</text>
<path d="M263.99 459.8 L266.69 456.68 L266.69 468" fill="none" stroke="#000" stroke-width="1.31" stroke-linejoin="round"/>
<text x="292.89 302.39 311.27 321.39" y="470.51" transform="scale(0.9,1)" font-family='"Liberation Sans", sans-serif' font-size="16.4" fill="#000">20.0</text>
<text x="301.21 319.59 329.71" y="472.91" transform="scale(0.9,1)" font-family='"Liberation Sans", sans-serif' font-size="16.4" fill="#000">2.0</text>
<path d="M281.4 464.71 L284.1 461.59 L284.1 472.91" fill="none" stroke="#000" stroke-width="1.31" stroke-linejoin="round"/>
<text x="295.26 304.76 313.64 323.76" y="476.59" transform="scale(0.9,1)" font-family='"Liberation Sans", sans-serif' font-size="16.4" fill="#000">22.0</text>
<text x="312.11 321.69 330.49 340.61" y="468.26" transform="scale(0.9,1)" font-family='"Liberation Sans", sans-serif' font-size="16.4" fill="#000">23.0</text>
<text x="311.83 321.41 330.21 340.33" y="458.37" transform="scale(0.9,1)" font-family='"Liberation Sans", sans-serif' font-size="16.4" fill="#000">24.0</text>
<text x="296.32 305.9 314.7 324.82" y="472.23" transform="scale(0.9,1)" font-family='"Liberation Sans", sans-serif' font-size="16.4" fill="#000">25.0</text>
<text x="303.84 313.34 322.22 332.34" y="457.94" transform="scale(0.9,1)" font-family='"Liberation Sans", sans-serif' font-size="16.4" fill="#000">26.0</text>
<text x="313.63 323.13 332.01 342.13" y="463.7" transform="scale(0.9,1)" font-family='"Liberation Sans", sans-serif' font-size="16.4" fill="#000">27.0</text>
<text x="303.79 313.37 322.17 332.29" y="469.37" transform="scale(0.9,1)" font-family='"Liberation Sans", sans-serif' font-size="16.4" fill="#000">28.0</text>
<text x="314.54 324.04 332.92 343.04" y="455.52" transform="scale(0.9,1)" font-family='"Liberation Sans", sans-serif' font-size="16.4" fill="#000">29.0</text>
<text x="297.07 306.48 315.36 325.48" y="474.83" transform="scale(0.9,1)" font-family='"Liberation Sans", sans-serif' font-size="16.4" fill="#000">30.0</text>
<text x="309.96 328.26 338.37" y="457.69" transform="scale(0.9,1)" font-family='"Liberation Sans", sans-serif' font-size="16.4" fill="#000">3.0</text>
<path d="M289.19 449.49 L291.9 446.37 L291.9 457.69" fill="none" stroke="#000" stroke-width="1.31" stroke-linejoin="round"/>
<text x="311.14 320.56 329.44 339.56" y="466.92" transform="scale(0.9,1)" font-family='"Liberation Sans", sans-serif' font-size="16.4" fill="#000">32.0</text>
<text x="307.77 316.65 326.77" y="503.9" transform="scale(0.9,1)" font-family='"Liberation Sans", sans-serif' font-size="16.4" fill="#000">2.0</text>
<path d="M270.2 495.7 L272.9 492.58 L272.9 503.9" fill="none" stroke="#000" stroke-width="1.31" stroke-linejoin="round"/>
<text x="275.05 284.55 293.43 303.55" y="480" transform="scale(0.9,1)" font-family='"Liberation Sans", sans-serif' font-size="16.4" fill="#000">29.0</text>
<text x="277.82 287.41 296.21 306.32" y="473.6" transform="scale(0.9,1)" font-family='"Liberation Sans", sans-serif' font-size="16.4" fill="#000">23.0</text>
<text x="283.05 292.63 301.43 311.55" y="475.3" transform="scale(0.9,1)" font-family='"Liberation Sans", sans-serif' font-size="16.4" fill="#000">25.0</text>
<text x="285.94 295.44 304.32 314.44" y="480.9" transform="scale(0.9,1)" font-family='"Liberation Sans", sans-serif' font-size="16.4" fill="#000">27.0</text>
<text x="289.27 298.15 308.27" y="486.4" transform="scale(0.9,1)" font-family='"Liberation Sans", sans-serif' font-size="16.4" fill="#000">7.0</text>
<text x="298.85 307.65 317.77" y="492" transform="scale(0.9,1)" font-family='"Liberation Sans", sans-serif' font-size="16.4" fill="#000">8.0</text>
<path d="M262.1 483.8 L264.8 480.68 L264.8 492" fill="none" stroke="#000" stroke-width="1.31" stroke-linejoin="round"/>
<text x="295.8 305.21 314.09 324.21" y="450.1" transform="scale(0.9,1)" font-family='"Liberation Sans", sans-serif' font-size="16.4" fill="#000">32.0</text>
<text x="303.49 312.99 321.87 331.99" y="446.5" transform="scale(0.9,1)" font-family='"Liberation Sans", sans-serif' font-size="16.4" fill="#000">20.0</text>
<text x="276.27 285.85 294.65 304.77" y="469.5" transform="scale(0.9,1)" font-family='"Liberation Sans", sans-serif' font-size="16.4" fill="#000">28.0</text>
<text x="291.27 300.85 309.65 319.77" y="490.3" transform="scale(0.9,1)" font-family='"Liberation Sans", sans-serif' font-size="16.4" fill="#000">78.0</text>
</g>
<rect x="176.5" y="170.6" width="494.8" height="496.8" fill="none" stroke="#000" stroke-width="1.4"/>
<line x1="225.59" y1="667.4" x2="225.59" y2="673.45" stroke="#000" stroke-width="1.4"/>
<text x="246.31 256.14" y="692" transform="scale(0.88,1)" font-family='"Liberation Sans", sans-serif' font-size="16.8" fill="#000">−4</text>
<line x1="170.45" y1="618.2" x2="176.5" y2="618.2" stroke="#000" stroke-width="1.4"/>
<text x="166.15 175.98" y="624.4" transform="scale(0.88,1)" font-family='"Liberation Sans", sans-serif' font-size="16.8" fill="#000">−4</text>
<line x1="324.57" y1="667.4" x2="324.57" y2="673.45" stroke="#000" stroke-width="1.4"/>
<text x="358.79 368.53" y="692" transform="scale(0.88,1)" font-family='"Liberation Sans", sans-serif' font-size="16.8" fill="#000">−2</text>
<line x1="170.45" y1="518.8" x2="176.5" y2="518.8" stroke="#000" stroke-width="1.4"/>
<text x="166.15 175.89" y="525" transform="scale(0.88,1)" font-family='"Liberation Sans", sans-serif' font-size="16.8" fill="#000">−2</text>
<line x1="423.55" y1="667.4" x2="423.55" y2="673.45" stroke="#000" stroke-width="1.4"/>
<text x="476.26" y="692" transform="scale(0.88,1)" font-family='"Liberation Sans", sans-serif' font-size="16.8" fill="#000">0</text>
<line x1="170.45" y1="419.4" x2="176.5" y2="419.4" stroke="#000" stroke-width="1.4"/>
<text x="175.89" y="425.6" transform="scale(0.88,1)" font-family='"Liberation Sans", sans-serif' font-size="16.8" fill="#000">0</text>
<line x1="522.53" y1="667.4" x2="522.53" y2="673.45" stroke="#000" stroke-width="1.4"/>
<text x="588.74" y="692" transform="scale(0.88,1)" font-family='"Liberation Sans", sans-serif' font-size="16.8" fill="#000">2</text>
<line x1="170.45" y1="320" x2="176.5" y2="320" stroke="#000" stroke-width="1.4"/>
<text x="175.89" y="326.2" transform="scale(0.88,1)" font-family='"Liberation Sans", sans-serif' font-size="16.8" fill="#000">2</text>
<line x1="621.51" y1="667.4" x2="621.51" y2="673.45" stroke="#000" stroke-width="1.4"/>
<text x="701.3" y="692" transform="scale(0.88,1)" font-family='"Liberation Sans", sans-serif' font-size="16.8" fill="#000">4</text>
<line x1="170.45" y1="220.6" x2="176.5" y2="220.6" stroke="#000" stroke-width="1.4"/>
<text x="175.98" y="226.8" transform="scale(0.88,1)" font-family='"Liberation Sans", sans-serif' font-size="16.8" fill="#000">4</text>
<text x="355.57 382.83 394.38 432.44 451.05 460.46 497.13 515.74 525.15 576.36 591.55 602.56 615.71" y="159.9" transform="scale(0.8,1)" font-family='"Liberation Sans", sans-serif' font-size="21.4" fill="#000">.8.DieDieark4</text>
<text x="721.69" y="159.9" transform="scale(0.624,1)" font-family='"Liberation Sans", sans-serif' font-size="21.4" fill="#000">M</text>
<path d="M266.47 149.2 L270 145.13 L270 159.9M276.82 149.2 L280.35 145.13 L280.35 159.9M297.52 149.2 L301.05 145.13 L301.05 159.9M328.57 149.2 L332.1 145.13 L332.1 159.9M380.32 149.2 L383.85 145.13 L383.85 159.9M432.07 149.2 L435.6 145.13 L435.6 159.9" fill="none" stroke="#000" stroke-width="1.71" stroke-linejoin="round"/>
<line x1="336" y1="152" x2="346.6" y2="152" stroke="#000" stroke-width="1.5"/>
<text x="514.3" y="159.9" transform="scale(1,1)" font-family='"Liberation Sans", sans-serif' font-size="21.4" fill="#000">3</text>
<text x="526.9" y="159.9" transform="scale(1,1)" font-family='"Liberation Sans", sans-serif' font-size="21.4" font-style="italic" fill="#000">σ</text>
<g transform="translate(0,0)" fill="none" stroke="#000" stroke-width="1.6" stroke-linecap="round" stroke-linejoin="round">
<path d="M549.1 144.1 Q546.5 148.6 543.1 152.1"/>
<path d="M553.2 143.4 Q555.2 148.2 560.0 151.1"/>
<path d="M546.3 151.6 L556.6 151.6 L556.3 159.4 Q556 160.8 552.5 160.4"/>
<path d="M549.7 152.5 Q549.2 158.6 543.8 161.3"/>
<path d="M562.2 146.6 L580.7 146.6"/>
<path d="M571.0 143.1 Q567.8 150.5 562.5 154.4"/>
<path d="M566.9 151.6 L566.9 159.4"/>
<path d="M566.9 151.6 L578.5 151.6 L578.5 158.2 Q578 159.2 575.4 158.8"/>
<path d="M572.4 148.1 L572.4 161.3"/>
</g>
<rect x="184.2" y="179.1" width="138.7" height="158" rx="3.5" ry="3.5" fill="#fff" fill-opacity="0.8" stroke="#cccccc" stroke-opacity="0.8" stroke-width="1.73"/>
<line x1="191.3" y1="195.2" x2="225.9" y2="195.2" stroke="#ff0000" stroke-width="2.59" stroke-linecap="square"/>
<line x1="191.3" y1="220.4" x2="225.9" y2="220.4" stroke="#0000ff" stroke-width="2.59" stroke-linecap="square"/>
<line x1="191.3" y1="245.2" x2="225.9" y2="245.2" stroke="#008000" stroke-width="2.59" stroke-linecap="square"/>
<path d="M191.3 276 L225.9 276 L225.9 264.8 L191.3 264.8 Z" fill="none" stroke="#a52a2a" stroke-width="2.59"/>
<path d="M191.3 302 L225.9 302 L225.9 290.8 L191.3 290.8 Z" fill="none" stroke="#ff00ff" stroke-width="3.46" stroke-dasharray="12.79 5.53"/>
<path d="M191.3 327.75 L225.9 327.75 L225.9 316.55 L191.3 316.55 Z" fill="none" stroke="#ffa500" stroke-width="3.46" stroke-dasharray="22.13 5.53 3.46 5.53"/>
<text x="241.2" y="200.7" transform="scale(1,1)" font-family='"Liberation Sans", sans-serif' font-size="18" fill="#000">3</text>
<text x="252.2" y="200.7" transform="scale(1,1)" font-family='"Liberation Sans", sans-serif' font-size="18" font-style="italic" fill="#000">σ</text>
<text x="310.55" y="200.7" transform="scale(0.9,1)" font-family='"Liberation Sans", sans-serif' font-size="17" fill="#000">u</text>
<text x="389.24" y="200.7" transform="scale(0.738,1)" font-family='"Liberation Sans", sans-serif' font-size="17" fill="#000">m</text>
<path d="M272.56 192.2 L275.36 188.97 L275.36 200.7" fill="none" stroke="#000" stroke-width="1.36" stroke-linejoin="round"/>
<text x="241.2" y="225.9" transform="scale(1,1)" font-family='"Liberation Sans", sans-serif' font-size="18" fill="#000">2</text>
<text x="252.2" y="225.9" transform="scale(1,1)" font-family='"Liberation Sans", sans-serif' font-size="18" font-style="italic" fill="#000">σ</text>
<text x="300.82 309.9 320.35 329.99" y="225.9" transform="scale(0.9,1)" font-family='"Liberation Sans", sans-serif' font-size="17" fill="#000">0.8u</text>
<text x="412.95" y="225.9" transform="scale(0.738,1)" font-family='"Liberation Sans", sans-serif' font-size="17" fill="#000">m</text>
<text x="241.2" y="250.7" transform="scale(1,1)" font-family='"Liberation Sans", sans-serif' font-size="18" fill="#000">1</text>
<text x="252.2" y="250.7" transform="scale(1,1)" font-family='"Liberation Sans", sans-serif' font-size="18" font-style="italic" fill="#000">σ</text>
<text x="300.82 309.9 320.35 329.99" y="250.7" transform="scale(0.9,1)" font-family='"Liberation Sans", sans-serif' font-size="17" fill="#000">0.5u</text>
<text x="412.95" y="250.7" transform="scale(0.738,1)" font-family='"Liberation Sans", sans-serif' font-size="17" fill="#000">m</text>
<text x="241.2" y="275.9" transform="scale(1,1)" font-family='"Liberation Sans", sans-serif' font-size="18" fill="#000">1</text>
<text x="252.2" y="275.9" transform="scale(1,1)" font-family='"Liberation Sans", sans-serif' font-size="18" font-style="italic" fill="#000">σ</text>
<text x="241.2" y="301.9" transform="scale(1,1)" font-family='"Liberation Sans", sans-serif' font-size="18" fill="#000">2</text>
<text x="252.2" y="301.9" transform="scale(1,1)" font-family='"Liberation Sans", sans-serif' font-size="18" font-style="italic" fill="#000">σ</text>
<text x="241.2" y="327.65" transform="scale(1,1)" font-family='"Liberation Sans", sans-serif' font-size="18" fill="#000">3</text>
<text x="252.2" y="327.65" transform="scale(1,1)" font-family='"Liberation Sans", sans-serif' font-size="18" font-style="italic" fill="#000">σ</text>
<g clip-path="url(#c1)">
<path d="M1036.82 410.94 L1036.83 410.4 L1036.76 409.85 L1036.6 409.3 L1036.36 408.73 L1036.03 408.17 L1035.62 407.59 L1035.13 407.01 L1034.55 406.43 L1033.9 405.85 L1033.16 405.26 L1032.33 404.67 L1031.43 404.07 L1030.46 403.48 L1029.4 402.89 L1028.27 402.3 L1027.06 401.71 L1025.78 401.12 L1024.43 400.53 L1023.01 399.95 L1021.52 399.38 L1019.96 398.8 L1018.34 398.24 L1016.66 397.68 L1014.91 397.13 L1013.11 396.58 L1011.25 396.05 L1009.34 395.52 L1007.37 395.01 L1005.36 394.5 L1003.3 394.01 L1001.2 393.52 L999.05 393.05 L996.87 392.59 L994.65 392.15 L992.39 391.72 L990.11 391.3 L987.79 390.9 L985.45 390.51 L983.09 390.14 L980.71 389.79 L978.31 389.45 L975.9 389.14 L973.48 388.83 L971.05 388.55 L968.61 388.28 L966.17 388.04 L963.74 387.81 L961.3 387.6 L958.88 387.41 L956.46 387.24 L954.06 387.09 L951.67 386.96 L949.3 386.86 L946.96 386.77 L944.63 386.7 L942.34 386.65 L940.07 386.62 L937.84 386.62 L935.64 386.63 L933.49 386.67 L931.37 386.72 L929.29 386.8 L927.27 386.9 L925.29 387.01 L923.36 387.15 L921.48 387.31 L919.66 387.49 L917.9 387.68 L916.19 387.9 L914.55 388.13 L912.98 388.39 L911.46 388.66 L910.02 388.95 L908.65 389.26 L907.34 389.59 L906.11 389.93 L904.96 390.29 L903.88 390.67 L902.87 391.06 L901.95 391.47 L901.1 391.89 L900.33 392.32 L899.65 392.77 L899.04 393.24 L898.52 393.71 L898.09 394.2 L897.74 394.7 L897.47 395.21 L897.28 395.73 L897.18 396.26 L897.17 396.8 L897.24 397.35 L897.4 397.9 L897.64 398.47 L897.97 399.03 L898.38 399.61 L898.87 400.19 L899.45 400.77 L900.1 401.35 L900.84 401.94 L901.67 402.53 L902.57 403.13 L903.54 403.72 L904.6 404.31 L905.73 404.9 L906.94 405.49 L908.22 406.08 L909.57 406.67 L910.99 407.25 L912.48 407.82 L914.04 408.4 L915.66 408.96 L917.34 409.52 L919.09 410.07 L920.89 410.62 L922.75 411.15 L924.66 411.68 L926.63 412.19 L928.64 412.7 L930.7 413.19 L932.8 413.68 L934.95 414.15 L937.13 414.61 L939.35 415.05 L941.61 415.48 L943.89 415.9 L946.21 416.3 L948.55 416.69 L950.91 417.06 L953.29 417.41 L955.69 417.75 L958.1 418.06 L960.52 418.37 L962.95 418.65 L965.39 418.92 L967.83 419.16 L970.26 419.39 L972.7 419.6 L975.12 419.79 L977.54 419.96 L979.94 420.11 L982.33 420.24 L984.7 420.34 L987.04 420.43 L989.37 420.5 L991.66 420.55 L993.93 420.58 L996.16 420.58 L998.36 420.57 L1000.51 420.53 L1002.63 420.48 L1004.71 420.4 L1006.73 420.3 L1008.71 420.19 L1010.64 420.05 L1012.52 419.89 L1014.34 419.71 L1016.1 419.52 L1017.81 419.3 L1019.45 419.07 L1021.02 418.81 L1022.54 418.54 L1023.98 418.25 L1025.35 417.94 L1026.66 417.61 L1027.89 417.27 L1029.04 416.91 L1030.12 416.53 L1031.13 416.14 L1032.05 415.73 L1032.9 415.31 L1033.67 414.88 L1034.35 414.43 L1034.96 413.96 L1035.48 413.49 L1035.91 413 L1036.26 412.5 L1036.53 411.99 L1036.72 411.47 L1036.82 410.94Z" fill="none" stroke="#a52a2a" stroke-width="2.59"/>
<path d="M1106.63 418.28 L1106.66 417.2 L1106.52 416.1 L1106.2 414.99 L1105.72 413.87 L1105.07 412.73 L1104.25 411.59 L1103.26 410.43 L1102.11 409.26 L1100.79 408.09 L1099.31 406.91 L1097.67 405.73 L1095.87 404.55 L1093.91 403.36 L1091.8 402.18 L1089.53 400.99 L1087.12 399.81 L1084.56 398.64 L1081.86 397.47 L1079.01 396.31 L1076.03 395.15 L1072.92 394.01 L1069.68 392.88 L1066.31 391.76 L1062.82 390.66 L1059.22 389.57 L1055.5 388.5 L1051.68 387.44 L1047.75 386.41 L1043.72 385.4 L1039.6 384.41 L1035.4 383.44 L1031.1 382.5 L1026.73 381.59 L1022.29 380.7 L1017.78 379.84 L1013.21 379 L1008.58 378.2 L1003.9 377.43 L999.18 376.69 L994.42 375.98 L989.62 375.31 L984.8 374.67 L979.95 374.07 L975.09 373.5 L970.22 372.97 L965.34 372.48 L960.47 372.02 L955.61 371.6 L950.76 371.22 L945.92 370.89 L941.12 370.59 L936.34 370.33 L931.61 370.11 L926.91 369.93 L922.27 369.8 L917.68 369.7 L913.15 369.65 L908.68 369.64 L904.29 369.66 L899.97 369.73 L895.74 369.85 L891.59 370 L887.53 370.19 L883.57 370.43 L879.71 370.7 L875.96 371.02 L872.32 371.37 L868.79 371.76 L865.39 372.2 L862.11 372.67 L858.95 373.18 L855.93 373.72 L853.04 374.3 L850.29 374.92 L847.69 375.57 L845.22 376.26 L842.91 376.98 L840.75 377.73 L838.74 378.52 L836.89 379.33 L835.2 380.18 L833.67 381.05 L832.3 381.95 L831.09 382.88 L830.05 383.83 L829.18 384.8 L828.47 385.8 L827.93 386.82 L827.57 387.86 L827.37 388.92 L827.34 390 L827.48 391.1 L827.8 392.21 L828.28 393.33 L828.93 394.47 L829.75 395.61 L830.74 396.77 L831.89 397.94 L833.21 399.11 L834.69 400.29 L836.33 401.47 L838.13 402.65 L840.09 403.84 L842.2 405.02 L844.47 406.21 L846.88 407.39 L849.44 408.56 L852.14 409.73 L854.99 410.89 L857.97 412.05 L861.08 413.19 L864.32 414.32 L867.69 415.44 L871.18 416.54 L874.78 417.63 L878.5 418.7 L882.32 419.76 L886.25 420.79 L890.28 421.8 L894.4 422.79 L898.6 423.76 L902.9 424.7 L907.27 425.61 L911.71 426.5 L916.22 427.36 L920.79 428.2 L925.42 429 L930.1 429.77 L934.82 430.51 L939.58 431.22 L944.38 431.89 L949.2 432.53 L954.05 433.13 L958.91 433.7 L963.78 434.23 L968.66 434.72 L973.53 435.18 L978.39 435.6 L983.24 435.98 L988.08 436.31 L992.88 436.61 L997.66 436.87 L1002.39 437.09 L1007.09 437.27 L1011.73 437.4 L1016.32 437.5 L1020.85 437.55 L1025.32 437.56 L1029.71 437.54 L1034.03 437.47 L1038.26 437.35 L1042.41 437.2 L1046.47 437.01 L1050.43 436.77 L1054.29 436.5 L1058.04 436.18 L1061.68 435.83 L1065.21 435.44 L1068.61 435 L1071.89 434.53 L1075.05 434.02 L1078.07 433.48 L1080.96 432.9 L1083.71 432.28 L1086.31 431.63 L1088.78 430.94 L1091.09 430.22 L1093.25 429.47 L1095.26 428.68 L1097.11 427.87 L1098.8 427.02 L1100.33 426.15 L1101.7 425.25 L1102.91 424.32 L1103.95 423.37 L1104.82 422.4 L1105.53 421.4 L1106.07 420.38 L1106.43 419.34 L1106.63 418.28Z" fill="none" stroke="#ff00ff" stroke-width="3.46" stroke-dasharray="12.79 5.53"/>
<path d="M1176.45 425.61 L1176.49 424 L1176.27 422.35 L1175.8 420.69 L1175.08 419 L1174.1 417.3 L1172.87 415.58 L1171.39 413.84 L1169.66 412.1 L1167.69 410.34 L1165.47 408.57 L1163 406.8 L1160.3 405.02 L1157.37 403.24 L1154.2 401.47 L1150.8 399.69 L1147.18 397.92 L1143.34 396.16 L1139.28 394.4 L1135.02 392.66 L1130.55 390.93 L1125.88 389.21 L1121.02 387.52 L1115.97 385.84 L1110.74 384.18 L1105.33 382.55 L1099.75 380.95 L1094.02 379.37 L1088.12 377.82 L1082.09 376.3 L1075.91 374.82 L1069.59 373.37 L1063.16 371.95 L1056.6 370.58 L1049.94 369.25 L1043.17 367.95 L1036.32 366.7 L1029.37 365.5 L1022.36 364.34 L1015.27 363.23 L1008.13 362.17 L1000.93 361.16 L993.7 360.21 L986.43 359.3 L979.14 358.45 L971.83 357.65 L964.52 356.91 L957.21 356.23 L949.91 355.6 L942.63 355.04 L935.39 354.53 L928.18 354.08 L921.02 353.69 L913.91 353.37 L906.87 353.1 L899.9 352.89 L893.02 352.75 L886.22 352.67 L879.53 352.65 L872.93 352.7 L866.46 352.8 L860.11 352.97 L853.88 353.2 L847.8 353.49 L841.86 353.84 L836.07 354.25 L830.44 354.72 L824.98 355.26 L819.69 355.85 L814.58 356.5 L809.66 357.2 L804.93 357.97 L800.39 358.78 L796.06 359.66 L791.94 360.58 L788.03 361.56 L784.34 362.59 L780.87 363.67 L777.63 364.8 L774.61 365.98 L771.84 367.2 L769.3 368.47 L767 369.77 L764.94 371.12 L763.13 372.51 L761.57 373.94 L760.26 375.41 L759.21 376.9 L758.4 378.43 L757.85 380 L757.55 381.59 L757.51 383.2 L757.73 384.85 L758.2 386.51 L758.92 388.2 L759.9 389.9 L761.13 391.62 L762.61 393.36 L764.34 395.1 L766.31 396.86 L768.53 398.63 L771 400.4 L773.7 402.18 L776.63 403.96 L779.8 405.73 L783.2 407.51 L786.82 409.28 L790.66 411.04 L794.72 412.8 L798.98 414.54 L803.45 416.27 L808.12 417.99 L812.98 419.68 L818.03 421.36 L823.26 423.02 L828.67 424.65 L834.25 426.25 L839.98 427.83 L845.88 429.38 L851.91 430.9 L858.09 432.38 L864.41 433.83 L870.84 435.25 L877.4 436.62 L884.06 437.95 L890.83 439.25 L897.68 440.5 L904.63 441.7 L911.64 442.86 L918.73 443.97 L925.87 445.03 L933.07 446.04 L940.3 446.99 L947.57 447.9 L954.86 448.75 L962.17 449.55 L969.48 450.29 L976.79 450.97 L984.09 451.6 L991.37 452.16 L998.61 452.67 L1005.82 453.12 L1012.98 453.51 L1020.09 453.83 L1027.13 454.1 L1034.1 454.31 L1040.98 454.45 L1047.78 454.53 L1054.47 454.55 L1061.07 454.5 L1067.54 454.4 L1073.89 454.23 L1080.12 454 L1086.2 453.71 L1092.14 453.36 L1097.93 452.95 L1103.56 452.48 L1109.02 451.94 L1114.31 451.35 L1119.42 450.7 L1124.34 450 L1129.07 449.23 L1133.61 448.42 L1137.94 447.54 L1142.06 446.62 L1145.97 445.64 L1149.66 444.61 L1153.13 443.53 L1156.37 442.4 L1159.39 441.22 L1162.16 440 L1164.7 438.73 L1167 437.43 L1169.06 436.08 L1170.87 434.69 L1172.43 433.26 L1173.74 431.79 L1174.79 430.3 L1175.6 428.77 L1176.15 427.2 L1176.45 425.61Z" fill="none" stroke="#ffa500" stroke-width="3.46" stroke-dasharray="22.13 5.53 3.46 5.53"/>
<circle cx="1024.4" cy="354.3" r="2.45" fill="#1f77b4"/>
<circle cx="1022.21" cy="422.11" r="2.45" fill="#1f77b4"/>
<circle cx="1024.31" cy="423.77" r="2.45" fill="#1f77b4"/>
<circle cx="1030.05" cy="407.36" r="2.45" fill="#1f77b4"/>
<circle cx="1030.73" cy="401.46" r="2.45" fill="#1f77b4"/>
<circle cx="1025.83" cy="405.9" r="2.45" fill="#1f77b4"/>
<circle cx="1036.62" cy="412.36" r="2.45" fill="#1f77b4"/>
<circle cx="1029.87" cy="404.14" r="2.45" fill="#1f77b4"/>
<circle cx="1024.41" cy="427.91" r="2.45" fill="#1f77b4"/>
<circle cx="1027.52" cy="416.85" r="2.45" fill="#1f77b4"/>
<circle cx="1023.85" cy="405.83" r="2.45" fill="#1f77b4"/>
<circle cx="1036.12" cy="402.77" r="2.45" fill="#1f77b4"/>
<circle cx="1032.17" cy="416.57" r="2.45" fill="#1f77b4"/>
<circle cx="1022.52" cy="417.57" r="2.45" fill="#1f77b4"/>
<circle cx="1035.81" cy="418.87" r="2.45" fill="#1f77b4"/>
<circle cx="1029.11" cy="411.73" r="2.45" fill="#1f77b4"/>
<circle cx="1019.86" cy="406.71" r="2.45" fill="#1f77b4"/>
<circle cx="1027.35" cy="413.32" r="2.45" fill="#1f77b4"/>
<circle cx="1022.69" cy="419.74" r="2.45" fill="#1f77b4"/>
<circle cx="1021.93" cy="411.64" r="2.45" fill="#1f77b4"/>
<circle cx="1026.08" cy="418.8" r="2.45" fill="#1f77b4"/>
<circle cx="1021.35" cy="426.36" r="2.45" fill="#1f77b4"/>
<circle cx="1034.33" cy="414.59" r="2.45" fill="#1f77b4"/>
<circle cx="1028.62" cy="427.08" r="2.45" fill="#1f77b4"/>
<circle cx="1035.36" cy="409.48" r="2.45" fill="#1f77b4"/>
<circle cx="1037.41" cy="401.58" r="2.45" fill="#1f77b4"/>
<circle cx="1034.1" cy="409.85" r="2.45" fill="#1f77b4"/>
<circle cx="1024.11" cy="412.09" r="2.45" fill="#1f77b4"/>
<circle cx="1023.56" cy="413.68" r="2.45" fill="#1f77b4"/>
<circle cx="1033.39" cy="412.9" r="2.45" fill="#1f77b4"/>
<circle cx="1030.14" cy="419.51" r="2.45" fill="#1f77b4"/>
<circle cx="1036.09" cy="416.2" r="2.45" fill="#1f77b4"/>
<circle cx="1028.17" cy="416.26" r="2.45" fill="#1f77b4"/>
<circle cx="1029.63" cy="407.82" r="2.45" fill="#1f77b4"/>
<circle cx="1033.66" cy="423.21" r="2.45" fill="#1f77b4"/>
<circle cx="1030.92" cy="420.59" r="2.45" fill="#1f77b4"/>
<circle cx="1027.74" cy="426.36" r="2.45" fill="#1f77b4"/>
<circle cx="1022.78" cy="409.13" r="2.45" fill="#1f77b4"/>
<circle cx="1022.24" cy="427.28" r="2.45" fill="#1f77b4"/>
<circle cx="1028.99" cy="409.15" r="2.45" fill="#1f77b4"/>
<circle cx="1021.86" cy="411.4" r="2.45" fill="#1f77b4"/>
<circle cx="1029.41" cy="400.05" r="2.45" fill="#1f77b4"/>
<circle cx="1035.05" cy="417.87" r="2.45" fill="#1f77b4"/>
<circle cx="1031.4" cy="378" r="2.45" fill="#1f77b4"/>
<circle cx="1032" cy="386.5" r="2.45" fill="#1f77b4"/>
<circle cx="1032.6" cy="441.5" r="2.45" fill="#1f77b4"/>
<circle cx="1009.3" cy="432.6" r="2.45" fill="#1f77b4"/>
<circle cx="1011" cy="420" r="2.45" fill="#1f77b4"/>
<circle cx="1048" cy="387" r="2.45" fill="#1f77b4"/>
<circle cx="1042" cy="392" r="2.45" fill="#1f77b4"/>
<circle cx="1040" cy="422" r="2.45" fill="#1f77b4"/>
<circle cx="899.62" cy="405.17" r="2.45" fill="#1f77b4"/>
<circle cx="890.66" cy="391.8" r="2.45" fill="#1f77b4"/>
<circle cx="898.91" cy="393.05" r="2.45" fill="#1f77b4"/>
<circle cx="896.48" cy="402.57" r="2.45" fill="#1f77b4"/>
<circle cx="898.57" cy="396.71" r="2.45" fill="#1f77b4"/>
<circle cx="891.9" cy="398" r="2.45" fill="#1f77b4"/>
<circle cx="899.65" cy="392.43" r="2.45" fill="#1f77b4"/>
<circle cx="895.37" cy="403.45" r="2.45" fill="#1f77b4"/>
<circle cx="891.64" cy="394.39" r="2.45" fill="#1f77b4"/>
<circle cx="889.66" cy="385.49" r="2.45" fill="#1f77b4"/>
<circle cx="887.34" cy="403.29" r="2.45" fill="#1f77b4"/>
<circle cx="892.36" cy="397.41" r="2.45" fill="#1f77b4"/>
<circle cx="898.5" cy="396.9" r="2.45" fill="#1f77b4"/>
<circle cx="889.63" cy="391.69" r="2.45" fill="#1f77b4"/>
<circle cx="895.24" cy="404.83" r="2.45" fill="#1f77b4"/>
<circle cx="890.52" cy="403.96" r="2.45" fill="#1f77b4"/>
<circle cx="898.17" cy="385.03" r="2.45" fill="#1f77b4"/>
<circle cx="899.36" cy="392.01" r="2.45" fill="#1f77b4"/>
<circle cx="890.78" cy="384.42" r="2.45" fill="#1f77b4"/>
<circle cx="894.45" cy="385.77" r="2.45" fill="#1f77b4"/>
<circle cx="897.19" cy="401.61" r="2.45" fill="#1f77b4"/>
<circle cx="896.72" cy="394.54" r="2.45" fill="#1f77b4"/>
<circle cx="890.62" cy="397.49" r="2.45" fill="#1f77b4"/>
<circle cx="892.9" cy="389.08" r="2.45" fill="#1f77b4"/>
<circle cx="897.89" cy="402.25" r="2.45" fill="#1f77b4"/>
<circle cx="885.53" cy="390.49" r="2.45" fill="#1f77b4"/>
<circle cx="911.5" cy="355.3" r="2.45" fill="#1f77b4"/>
<circle cx="885.2" cy="373.7" r="2.45" fill="#1f77b4"/>
<circle cx="886.4" cy="381.1" r="2.45" fill="#1f77b4"/>
<circle cx="866.1" cy="395.6" r="2.45" fill="#1f77b4"/>
<circle cx="872.3" cy="395.6" r="2.45" fill="#1f77b4"/>
<circle cx="875.1" cy="407.3" r="2.45" fill="#1f77b4"/>
<circle cx="880.5" cy="397.9" r="2.45" fill="#1f77b4"/>
<circle cx="885.2" cy="416.7" r="2.45" fill="#1f77b4"/>
<circle cx="888" cy="423" r="2.45" fill="#1f77b4"/>
<circle cx="886.4" cy="433.2" r="2.45" fill="#1f77b4"/>
<circle cx="891" cy="439.5" r="2.45" fill="#1f77b4"/>
<circle cx="897.8" cy="405.8" r="2.45" fill="#1f77b4"/>
<circle cx="914" cy="387.8" r="2.45" fill="#1f77b4"/>
<circle cx="895" cy="370.5" r="2.45" fill="#1f77b4"/>
<line x1="770.4" y1="418.9" x2="1264.6" y2="418.9" stroke="#808080" stroke-width="1.8"/>
<line x1="1017.05" y1="170.6" x2="1017.05" y2="667.4" stroke="#808080" stroke-width="1.8"/>
<path d="M1066.55 418.9 L1066.52 417.17 L1066.43 415.45 L1066.28 413.73 L1066.07 412.01 L1065.8 410.3 L1065.47 408.61 L1065.08 406.92 L1064.63 405.26 L1064.13 403.6 L1063.56 401.97 L1062.95 400.36 L1062.27 398.77 L1061.54 397.2 L1060.76 395.66 L1059.92 394.15 L1059.03 392.67 L1058.09 391.22 L1057.1 389.8 L1056.06 388.42 L1054.97 387.08 L1053.84 385.78 L1052.66 384.51 L1051.44 383.29 L1050.17 382.11 L1048.87 380.98 L1047.53 379.89 L1046.15 378.85 L1044.73 377.86 L1043.28 376.92 L1041.8 376.03 L1040.29 375.19 L1038.75 374.41 L1037.18 373.68 L1035.59 373 L1033.98 372.39 L1032.35 371.82 L1030.69 371.32 L1029.03 370.87 L1027.34 370.48 L1025.65 370.15 L1023.94 369.88 L1022.22 369.67 L1020.5 369.52 L1018.78 369.43 L1017.05 369.4 L1015.32 369.43 L1013.6 369.52 L1011.88 369.67 L1010.16 369.88 L1008.45 370.15 L1006.76 370.48 L1005.07 370.87 L1003.41 371.32 L1001.75 371.82 L1000.12 372.39 L998.51 373 L996.92 373.68 L995.35 374.41 L993.81 375.19 L992.3 376.03 L990.82 376.92 L989.37 377.86 L987.95 378.85 L986.57 379.89 L985.23 380.98 L983.93 382.11 L982.66 383.29 L981.44 384.51 L980.26 385.78 L979.13 387.08 L978.04 388.42 L977 389.8 L976.01 391.22 L975.07 392.67 L974.18 394.15 L973.34 395.66 L972.56 397.2 L971.83 398.77 L971.15 400.36 L970.54 401.97 L969.97 403.6 L969.47 405.26 L969.02 406.92 L968.63 408.61 L968.3 410.3 L968.03 412.01 L967.82 413.73 L967.67 415.45 L967.58 417.17 L967.55 418.9 L967.58 420.63 L967.67 422.35 L967.82 424.07 L968.03 425.79 L968.3 427.5 L968.63 429.19 L969.02 430.88 L969.47 432.54 L969.97 434.2 L970.54 435.83 L971.15 437.44 L971.83 439.03 L972.56 440.6 L973.34 442.14 L974.18 443.65 L975.07 445.13 L976.01 446.58 L977 448 L978.04 449.38 L979.13 450.72 L980.26 452.02 L981.44 453.29 L982.66 454.51 L983.93 455.69 L985.23 456.82 L986.57 457.91 L987.95 458.95 L989.37 459.94 L990.82 460.88 L992.3 461.77 L993.81 462.61 L995.35 463.39 L996.92 464.12 L998.51 464.8 L1000.12 465.41 L1001.75 465.98 L1003.41 466.48 L1005.07 466.93 L1006.76 467.32 L1008.45 467.65 L1010.16 467.92 L1011.88 468.13 L1013.6 468.28 L1015.32 468.37 L1017.05 468.4 L1018.78 468.37 L1020.5 468.28 L1022.22 468.13 L1023.94 467.92 L1025.65 467.65 L1027.34 467.32 L1029.03 466.93 L1030.69 466.48 L1032.35 465.98 L1033.98 465.41 L1035.59 464.8 L1037.18 464.12 L1038.75 463.39 L1040.29 462.61 L1041.8 461.77 L1043.28 460.88 L1044.73 459.94 L1046.15 458.95 L1047.53 457.91 L1048.87 456.82 L1050.17 455.69 L1051.44 454.51 L1052.66 453.29 L1053.84 452.02 L1054.97 450.72 L1056.06 449.38 L1057.1 448 L1058.09 446.58 L1059.03 445.13 L1059.92 443.65 L1060.76 442.14 L1061.54 440.6 L1062.27 439.03 L1062.95 437.44 L1063.56 435.83 L1064.13 434.2 L1064.63 432.54 L1065.08 430.88 L1065.47 429.19 L1065.8 427.5 L1066.07 425.79 L1066.28 424.07 L1066.43 422.35 L1066.52 420.63 L1066.55 418.9" fill="none" stroke="#ff0000" stroke-width="2.59"/>
<path d="M1056.65 418.9 L1056.63 417.52 L1056.55 416.14 L1056.43 414.76 L1056.26 413.39 L1056.05 412.02 L1055.78 410.67 L1055.47 409.32 L1055.12 407.98 L1054.71 406.66 L1054.26 405.36 L1053.77 404.07 L1053.23 402.79 L1052.64 401.54 L1052.01 400.31 L1051.34 399.1 L1050.63 397.92 L1049.88 396.76 L1049.09 395.62 L1048.26 394.52 L1047.39 393.45 L1046.48 392.4 L1045.54 391.39 L1044.56 390.41 L1043.55 389.47 L1042.5 388.56 L1041.43 387.69 L1040.33 386.86 L1039.19 386.07 L1038.03 385.32 L1036.85 384.61 L1035.64 383.94 L1034.41 383.31 L1033.16 382.72 L1031.88 382.18 L1030.59 381.69 L1029.29 381.24 L1027.97 380.83 L1026.63 380.48 L1025.28 380.17 L1023.93 379.9 L1022.56 379.69 L1021.19 379.52 L1019.81 379.4 L1018.43 379.32 L1017.05 379.3 L1015.67 379.32 L1014.29 379.4 L1012.91 379.52 L1011.54 379.69 L1010.17 379.9 L1008.82 380.17 L1007.47 380.48 L1006.13 380.83 L1004.81 381.24 L1003.51 381.69 L1002.22 382.18 L1000.94 382.72 L999.69 383.31 L998.46 383.94 L997.25 384.61 L996.07 385.32 L994.91 386.07 L993.77 386.86 L992.67 387.69 L991.6 388.56 L990.55 389.47 L989.54 390.41 L988.56 391.39 L987.62 392.4 L986.71 393.45 L985.84 394.52 L985.01 395.62 L984.22 396.76 L983.47 397.92 L982.76 399.1 L982.09 400.31 L981.46 401.54 L980.87 402.79 L980.33 404.07 L979.84 405.36 L979.39 406.66 L978.98 407.98 L978.63 409.32 L978.32 410.67 L978.05 412.02 L977.84 413.39 L977.67 414.76 L977.55 416.14 L977.47 417.52 L977.45 418.9 L977.47 420.28 L977.55 421.66 L977.67 423.04 L977.84 424.41 L978.05 425.78 L978.32 427.13 L978.63 428.48 L978.98 429.82 L979.39 431.14 L979.84 432.44 L980.33 433.73 L980.87 435.01 L981.46 436.26 L982.09 437.49 L982.76 438.7 L983.47 439.88 L984.22 441.04 L985.01 442.18 L985.84 443.28 L986.71 444.35 L987.62 445.4 L988.56 446.41 L989.54 447.39 L990.55 448.33 L991.6 449.24 L992.67 450.11 L993.77 450.94 L994.91 451.73 L996.07 452.48 L997.25 453.19 L998.46 453.86 L999.69 454.49 L1000.94 455.08 L1002.22 455.62 L1003.51 456.11 L1004.81 456.56 L1006.13 456.97 L1007.47 457.32 L1008.82 457.63 L1010.17 457.9 L1011.54 458.11 L1012.91 458.28 L1014.29 458.4 L1015.67 458.48 L1017.05 458.5 L1018.43 458.48 L1019.81 458.4 L1021.19 458.28 L1022.56 458.11 L1023.93 457.9 L1025.28 457.63 L1026.63 457.32 L1027.97 456.97 L1029.29 456.56 L1030.59 456.11 L1031.88 455.62 L1033.16 455.08 L1034.41 454.49 L1035.64 453.86 L1036.85 453.19 L1038.03 452.48 L1039.19 451.73 L1040.33 450.94 L1041.43 450.11 L1042.5 449.24 L1043.55 448.33 L1044.56 447.39 L1045.54 446.41 L1046.48 445.4 L1047.39 444.35 L1048.26 443.28 L1049.09 442.18 L1049.88 441.04 L1050.63 439.88 L1051.34 438.7 L1052.01 437.49 L1052.64 436.26 L1053.23 435.01 L1053.77 433.73 L1054.26 432.44 L1054.71 431.14 L1055.12 429.82 L1055.47 428.48 L1055.78 427.13 L1056.05 425.78 L1056.26 424.41 L1056.43 423.04 L1056.55 421.66 L1056.63 420.28 L1056.65 418.9" fill="none" stroke="#0000ff" stroke-width="2.59"/>
<path d="M1041.8 418.9 L1041.78 418.04 L1041.74 417.17 L1041.66 416.31 L1041.56 415.46 L1041.42 414.6 L1041.26 413.75 L1041.06 412.91 L1040.84 412.08 L1040.59 411.25 L1040.31 410.44 L1040 409.63 L1039.66 408.83 L1039.3 408.05 L1038.9 407.28 L1038.48 406.52 L1038.04 405.78 L1037.57 405.06 L1037.07 404.35 L1036.55 403.66 L1036.01 402.99 L1035.44 402.34 L1034.85 401.71 L1034.24 401.1 L1033.61 400.51 L1032.96 399.94 L1032.29 399.4 L1031.6 398.88 L1030.89 398.38 L1030.17 397.91 L1029.42 397.47 L1028.67 397.05 L1027.9 396.65 L1027.12 396.29 L1026.32 395.95 L1025.51 395.64 L1024.7 395.36 L1023.87 395.11 L1023.04 394.89 L1022.2 394.69 L1021.35 394.53 L1020.49 394.39 L1019.64 394.29 L1018.78 394.21 L1017.91 394.17 L1017.05 394.15 L1016.19 394.17 L1015.32 394.21 L1014.46 394.29 L1013.61 394.39 L1012.75 394.53 L1011.9 394.69 L1011.06 394.89 L1010.23 395.11 L1009.4 395.36 L1008.59 395.64 L1007.78 395.95 L1006.98 396.29 L1006.2 396.65 L1005.43 397.05 L1004.67 397.47 L1003.93 397.91 L1003.21 398.38 L1002.5 398.88 L1001.81 399.4 L1001.14 399.94 L1000.49 400.51 L999.86 401.1 L999.25 401.71 L998.66 402.34 L998.09 402.99 L997.55 403.66 L997.03 404.35 L996.53 405.06 L996.06 405.78 L995.62 406.52 L995.2 407.28 L994.8 408.05 L994.44 408.83 L994.1 409.63 L993.79 410.44 L993.51 411.25 L993.26 412.08 L993.04 412.91 L992.84 413.75 L992.68 414.6 L992.54 415.46 L992.44 416.31 L992.36 417.17 L992.32 418.04 L992.3 418.9 L992.32 419.76 L992.36 420.63 L992.44 421.49 L992.54 422.34 L992.68 423.2 L992.84 424.05 L993.04 424.89 L993.26 425.72 L993.51 426.55 L993.79 427.36 L994.1 428.17 L994.44 428.97 L994.8 429.75 L995.2 430.52 L995.62 431.27 L996.06 432.02 L996.53 432.74 L997.03 433.45 L997.55 434.14 L998.09 434.81 L998.66 435.46 L999.25 436.09 L999.86 436.7 L1000.49 437.29 L1001.14 437.86 L1001.81 438.4 L1002.5 438.92 L1003.21 439.42 L1003.93 439.89 L1004.67 440.33 L1005.43 440.75 L1006.2 441.15 L1006.98 441.51 L1007.78 441.85 L1008.59 442.16 L1009.4 442.44 L1010.23 442.69 L1011.06 442.91 L1011.9 443.11 L1012.75 443.27 L1013.61 443.41 L1014.46 443.51 L1015.32 443.59 L1016.19 443.63 L1017.05 443.65 L1017.91 443.63 L1018.78 443.59 L1019.64 443.51 L1020.49 443.41 L1021.35 443.27 L1022.2 443.11 L1023.04 442.91 L1023.87 442.69 L1024.7 442.44 L1025.51 442.16 L1026.32 441.85 L1027.12 441.51 L1027.9 441.15 L1028.67 440.75 L1029.42 440.33 L1030.17 439.89 L1030.89 439.42 L1031.6 438.92 L1032.29 438.4 L1032.96 437.86 L1033.61 437.29 L1034.24 436.7 L1034.85 436.09 L1035.44 435.46 L1036.01 434.81 L1036.55 434.14 L1037.07 433.45 L1037.57 432.74 L1038.04 432.02 L1038.48 431.27 L1038.9 430.52 L1039.3 429.75 L1039.66 428.97 L1040 428.17 L1040.31 427.36 L1040.59 426.55 L1040.84 425.72 L1041.06 424.89 L1041.26 424.05 L1041.42 423.2 L1041.56 422.34 L1041.66 421.49 L1041.74 420.63 L1041.78 419.76 L1041.8 418.9" fill="none" stroke="#008000" stroke-width="2.59"/>
<text x="1137.35 1146.77 1155.65 1165.77" y="353.8" transform="scale(0.9,1)" font-family='"Liberation Sans", sans-serif' font-size="16.4" fill="#000">40.0</text>
<text x="1134.92 1153.22 1163.34" y="421.61" transform="scale(0.9,1)" font-family='"Liberation Sans", sans-serif' font-size="16.4" fill="#000">4.0</text>
<path d="M1031.66 413.41 L1034.37 410.29 L1034.37 421.61" fill="none" stroke="#000" stroke-width="1.31" stroke-linejoin="round"/>
<text x="1137.26 1146.67 1155.55 1165.67" y="423.27" transform="scale(0.9,1)" font-family='"Liberation Sans", sans-serif' font-size="16.4" fill="#000">42.0</text>
<text x="1143.63 1153.13 1161.93 1172.05" y="406.86" transform="scale(0.9,1)" font-family='"Liberation Sans", sans-serif' font-size="16.4" fill="#000">43.0</text>
<text x="1144.39 1153.89 1162.69 1172.81" y="400.96" transform="scale(0.9,1)" font-family='"Liberation Sans", sans-serif' font-size="16.4" fill="#000">44.0</text>
<text x="1138.94 1148.44 1157.23 1167.35" y="405.4" transform="scale(0.9,1)" font-family='"Liberation Sans", sans-serif' font-size="16.4" fill="#000">45.0</text>
<text x="1150.93 1160.35 1169.23 1179.35" y="411.86" transform="scale(0.9,1)" font-family='"Liberation Sans", sans-serif' font-size="16.4" fill="#000">46.0</text>
<text x="1143.43 1152.85 1161.73 1171.85" y="403.64" transform="scale(0.9,1)" font-family='"Liberation Sans", sans-serif' font-size="16.4" fill="#000">47.0</text>
<text x="1137.36 1146.86 1155.66 1165.78" y="427.41" transform="scale(0.9,1)" font-family='"Liberation Sans", sans-serif' font-size="16.4" fill="#000">48.0</text>
<text x="1140.82 1150.24 1159.12 1169.24" y="416.35" transform="scale(0.9,1)" font-family='"Liberation Sans", sans-serif' font-size="16.4" fill="#000">49.0</text>
<text x="1136.74 1146.16 1155.04 1165.16" y="405.33" transform="scale(0.9,1)" font-family='"Liberation Sans", sans-serif' font-size="16.4" fill="#000">50.0</text>
<text x="1150.38 1168.67 1178.79" y="402.27" transform="scale(0.9,1)" font-family='"Liberation Sans", sans-serif' font-size="16.4" fill="#000">5.0</text>
<path d="M1045.57 394.07 L1048.28 390.95 L1048.28 402.27" fill="none" stroke="#000" stroke-width="1.31" stroke-linejoin="round"/>
<text x="1145.99 1155.41 1164.29 1174.41" y="416.07" transform="scale(0.9,1)" font-family='"Liberation Sans", sans-serif' font-size="16.4" fill="#000">52.0</text>
<text x="1135.26 1144.76 1153.56 1163.68" y="417.07" transform="scale(0.9,1)" font-family='"Liberation Sans", sans-serif' font-size="16.4" fill="#000">53.0</text>
<text x="1150.03 1159.53 1168.33 1178.45" y="418.37" transform="scale(0.9,1)" font-family='"Liberation Sans", sans-serif' font-size="16.4" fill="#000">54.0</text>
<text x="1142.59 1152.09 1160.89 1171" y="411.23" transform="scale(0.9,1)" font-family='"Liberation Sans", sans-serif' font-size="16.4" fill="#000">55.0</text>
<text x="1132.3 1141.72 1150.6 1160.72" y="406.21" transform="scale(0.9,1)" font-family='"Liberation Sans", sans-serif' font-size="16.4" fill="#000">56.0</text>
<text x="1140.63 1150.05 1158.93 1169.05" y="412.82" transform="scale(0.9,1)" font-family='"Liberation Sans", sans-serif' font-size="16.4" fill="#000">57.0</text>
<text x="1135.45 1144.95 1153.75 1163.87" y="419.24" transform="scale(0.9,1)" font-family='"Liberation Sans", sans-serif' font-size="16.4" fill="#000">58.0</text>
<text x="1134.6 1144.02 1152.9 1163.02" y="411.14" transform="scale(0.9,1)" font-family='"Liberation Sans", sans-serif' font-size="16.4" fill="#000">59.0</text>
<text x="1139.13 1148.63 1157.51 1167.63" y="418.3" transform="scale(0.9,1)" font-family='"Liberation Sans", sans-serif' font-size="16.4" fill="#000">60.0</text>
<text x="1133.88 1152.26 1162.38" y="425.86" transform="scale(0.9,1)" font-family='"Liberation Sans", sans-serif' font-size="16.4" fill="#000">6.0</text>
<path d="M1030.79 417.66 L1033.5 414.54 L1033.5 425.86" fill="none" stroke="#000" stroke-width="1.31" stroke-linejoin="round"/>
<text x="1148.3 1157.8 1166.68 1176.8" y="414.09" transform="scale(0.9,1)" font-family='"Liberation Sans", sans-serif' font-size="16.4" fill="#000">62.0</text>
<text x="1141.96 1151.54 1160.34 1170.46" y="426.58" transform="scale(0.9,1)" font-family='"Liberation Sans", sans-serif' font-size="16.4" fill="#000">63.0</text>
<text x="1149.45 1159.03 1167.83 1177.95" y="408.98" transform="scale(0.9,1)" font-family='"Liberation Sans", sans-serif' font-size="16.4" fill="#000">64.0</text>
<text x="1151.73 1161.31 1170.11 1180.23" y="401.08" transform="scale(0.9,1)" font-family='"Liberation Sans", sans-serif' font-size="16.4" fill="#000">65.0</text>
<text x="1148.05 1157.55 1166.43 1176.55" y="409.35" transform="scale(0.9,1)" font-family='"Liberation Sans", sans-serif' font-size="16.4" fill="#000">66.0</text>
<text x="1136.95 1146.45 1155.33 1165.45" y="411.59" transform="scale(0.9,1)" font-family='"Liberation Sans", sans-serif' font-size="16.4" fill="#000">67.0</text>
<text x="1136.33 1145.92 1154.71 1164.83" y="413.18" transform="scale(0.9,1)" font-family='"Liberation Sans", sans-serif' font-size="16.4" fill="#000">68.0</text>
<text x="1147.26 1156.76 1165.64 1175.76" y="412.4" transform="scale(0.9,1)" font-family='"Liberation Sans", sans-serif' font-size="16.4" fill="#000">69.0</text>
<text x="1143.65 1153.15 1162.03 1172.15" y="419.01" transform="scale(0.9,1)" font-family='"Liberation Sans", sans-serif' font-size="16.4" fill="#000">70.0</text>
<text x="1150.25 1168.63 1178.75" y="415.7" transform="scale(0.9,1)" font-family='"Liberation Sans", sans-serif' font-size="16.4" fill="#000">7.0</text>
<path d="M1045.53 407.5 L1048.24 404.38 L1048.24 415.7" fill="none" stroke="#000" stroke-width="1.31" stroke-linejoin="round"/>
<text x="1141.46 1150.96 1159.84 1169.96" y="415.76" transform="scale(0.9,1)" font-family='"Liberation Sans", sans-serif' font-size="16.4" fill="#000">72.0</text>
<text x="1143.09 1152.67 1161.47 1171.59" y="407.32" transform="scale(0.9,1)" font-family='"Liberation Sans", sans-serif' font-size="16.4" fill="#000">73.0</text>
<text x="1147.56 1157.14 1165.94 1176.06" y="422.71" transform="scale(0.9,1)" font-family='"Liberation Sans", sans-serif' font-size="16.4" fill="#000">74.0</text>
<text x="1144.52 1154.1 1162.9 1173.02" y="420.09" transform="scale(0.9,1)" font-family='"Liberation Sans", sans-serif' font-size="16.4" fill="#000">75.0</text>
<text x="1140.99 1150.49 1159.37 1169.49" y="425.86" transform="scale(0.9,1)" font-family='"Liberation Sans", sans-serif' font-size="16.4" fill="#000">76.0</text>
<text x="1135.47 1144.97 1153.85 1163.97" y="408.63" transform="scale(0.9,1)" font-family='"Liberation Sans", sans-serif' font-size="16.4" fill="#000">77.0</text>
<text x="1134.87 1144.45 1153.25 1163.37" y="426.78" transform="scale(0.9,1)" font-family='"Liberation Sans", sans-serif' font-size="16.4" fill="#000">78.0</text>
<text x="1142.37 1151.87 1160.75 1170.87" y="408.65" transform="scale(0.9,1)" font-family='"Liberation Sans", sans-serif' font-size="16.4" fill="#000">79.0</text>
<text x="1134.53 1143.94 1152.82 1162.94" y="410.9" transform="scale(0.9,1)" font-family='"Liberation Sans", sans-serif' font-size="16.4" fill="#000">80.0</text>
<text x="1142.91 1161.21 1171.33" y="399.55" transform="scale(0.9,1)" font-family='"Liberation Sans", sans-serif' font-size="16.4" fill="#000">8.0</text>
<path d="M1038.85 391.35 L1041.56 388.23 L1041.56 399.55" fill="none" stroke="#000" stroke-width="1.31" stroke-linejoin="round"/>
<text x="1149.19 1158.6 1167.48 1177.6" y="417.37" transform="scale(0.9,1)" font-family='"Liberation Sans", sans-serif' font-size="16.4" fill="#000">82.0</text>
<text x="1145.05 1154.55 1163.43 1173.55" y="377.5" transform="scale(0.9,1)" font-family='"Liberation Sans", sans-serif' font-size="16.4" fill="#000">60.0</text>
<text x="1145.8 1155.21 1164.09 1174.21" y="386" transform="scale(0.9,1)" font-family='"Liberation Sans", sans-serif' font-size="16.4" fill="#000">86.0</text>
<text x="1146.46 1155.96 1164.76 1174.88" y="441" transform="scale(0.9,1)" font-family='"Liberation Sans", sans-serif' font-size="16.4" fill="#000">84.0</text>
<text x="1120.57 1130.07 1138.87 1148.99" y="432.1" transform="scale(0.9,1)" font-family='"Liberation Sans", sans-serif' font-size="16.4" fill="#000">53.0</text>
<text x="1122.46 1131.88 1140.76 1150.88" y="419.5" transform="scale(0.9,1)" font-family='"Liberation Sans", sans-serif' font-size="16.4" fill="#000">57.0</text>
<text x="1163.49 1173.07 1181.87 1191.99" y="386.5" transform="scale(0.9,1)" font-family='"Liberation Sans", sans-serif' font-size="16.4" fill="#000">75.0</text>
<text x="1156.82 1166.41 1175.21 1185.32" y="391.5" transform="scale(0.9,1)" font-family='"Liberation Sans", sans-serif' font-size="16.4" fill="#000">65.0</text>
<text x="1154.68 1164.1 1172.98 1183.1" y="421.5" transform="scale(0.9,1)" font-family='"Liberation Sans", sans-serif' font-size="16.4" fill="#000">49.0</text>
<text x="1007.51 1017.63" y="404.67" transform="scale(0.9,1)" font-family='"Liberation Sans", sans-serif' font-size="16.4" fill="#000">.0</text>
<path d="M900.52 396.47 L903.23 393.36 L903.23 404.67" fill="none" stroke="#000" stroke-width="1.31" stroke-linejoin="round"/>
<text x="988.67 997.55 1007.67" y="391.3" transform="scale(0.9,1)" font-family='"Liberation Sans", sans-serif' font-size="16.4" fill="#000">2.0</text>
<text x="997.92 1006.72 1016.84" y="392.55" transform="scale(0.9,1)" font-family='"Liberation Sans", sans-serif' font-size="16.4" fill="#000">3.0</text>
<text x="995.21 1004.01 1014.13" y="402.07" transform="scale(0.9,1)" font-family='"Liberation Sans", sans-serif' font-size="16.4" fill="#000">4.0</text>
<text x="997.54 1006.34 1016.46" y="396.21" transform="scale(0.9,1)" font-family='"Liberation Sans", sans-serif' font-size="16.4" fill="#000">5.0</text>
<text x="990.04 998.92 1009.04" y="397.5" transform="scale(0.9,1)" font-family='"Liberation Sans", sans-serif' font-size="16.4" fill="#000">6.0</text>
<text x="998.66 1007.54 1017.66" y="391.93" transform="scale(0.9,1)" font-family='"Liberation Sans", sans-serif' font-size="16.4" fill="#000">7.0</text>
<text x="993.99 1002.79 1012.91" y="402.95" transform="scale(0.9,1)" font-family='"Liberation Sans", sans-serif' font-size="16.4" fill="#000">8.0</text>
<text x="989.76 998.64 1008.76" y="393.89" transform="scale(0.9,1)" font-family='"Liberation Sans", sans-serif' font-size="16.4" fill="#000">9.0</text>
<text x="997.06 1005.94 1016.06" y="384.99" transform="scale(0.9,1)" font-family='"Liberation Sans", sans-serif' font-size="16.4" fill="#000">0.0</text>
<path d="M890.56 376.79 L893.26 373.67 L893.26 384.99" fill="none" stroke="#000" stroke-width="1.31" stroke-linejoin="round"/>
<text x="1003.36 1013.48" y="402.79" transform="scale(0.9,1)" font-family='"Liberation Sans", sans-serif' font-size="16.4" fill="#000">.0</text>
<path d="M888.23 394.59 L890.94 391.47 L890.94 402.79M896.78 394.59 L899.49 391.47 L899.49 402.79" fill="none" stroke="#000" stroke-width="1.31" stroke-linejoin="round"/>
<text x="1000.06 1008.94 1019.06" y="396.91" transform="scale(0.9,1)" font-family='"Liberation Sans", sans-serif' font-size="16.4" fill="#000">2.0</text>
<path d="M893.25 388.71 L895.96 385.59 L895.96 396.91" fill="none" stroke="#000" stroke-width="1.31" stroke-linejoin="round"/>
<text x="1006.97 1015.77 1025.89" y="396.4" transform="scale(0.9,1)" font-family='"Liberation Sans", sans-serif' font-size="16.4" fill="#000">3.0</text>
<path d="M899.4 388.2 L902.11 385.09 L902.11 396.4" fill="none" stroke="#000" stroke-width="1.31" stroke-linejoin="round"/>
<text x="997.1 1005.9 1016.02" y="391.19" transform="scale(0.9,1)" font-family='"Liberation Sans", sans-serif' font-size="16.4" fill="#000">4.0</text>
<path d="M890.52 382.99 L893.23 379.87 L893.23 391.19" fill="none" stroke="#000" stroke-width="1.31" stroke-linejoin="round"/>
<text x="1003.35 1012.14 1022.26" y="404.33" transform="scale(0.9,1)" font-family='"Liberation Sans", sans-serif' font-size="16.4" fill="#000">5.0</text>
<path d="M896.14 396.13 L898.85 393.02 L898.85 404.33" fill="none" stroke="#000" stroke-width="1.31" stroke-linejoin="round"/>
<text x="998.01 1006.89 1017.01" y="403.46" transform="scale(0.9,1)" font-family='"Liberation Sans", sans-serif' font-size="16.4" fill="#000">6.0</text>
<path d="M891.41 395.26 L894.12 392.14 L894.12 403.46" fill="none" stroke="#000" stroke-width="1.31" stroke-linejoin="round"/>
<text x="1006.51 1015.39 1025.51" y="384.53" transform="scale(0.9,1)" font-family='"Liberation Sans", sans-serif' font-size="16.4" fill="#000">7.0</text>
<path d="M899.06 376.33 L901.77 373.22 L901.77 384.53" fill="none" stroke="#000" stroke-width="1.31" stroke-linejoin="round"/>
<text x="1007.91 1016.71 1026.83" y="391.51" transform="scale(0.9,1)" font-family='"Liberation Sans", sans-serif' font-size="16.4" fill="#000">8.0</text>
<path d="M900.25 383.31 L902.96 380.19 L902.96 391.51" fill="none" stroke="#000" stroke-width="1.31" stroke-linejoin="round"/>
<text x="998.3 1007.18 1017.3" y="383.92" transform="scale(0.9,1)" font-family='"Liberation Sans", sans-serif' font-size="16.4" fill="#000">9.0</text>
<path d="M891.68 375.72 L894.38 372.61 L894.38 383.92" fill="none" stroke="#000" stroke-width="1.31" stroke-linejoin="round"/>
<text x="992.88 1002.38 1011.26 1021.38" y="385.27" transform="scale(0.9,1)" font-family='"Liberation Sans", sans-serif' font-size="16.4" fill="#000">20.0</text>
<text x="995.92 1014.3 1024.42" y="401.11" transform="scale(0.9,1)" font-family='"Liberation Sans", sans-serif' font-size="16.4" fill="#000">2.0</text>
<path d="M906.63 392.91 L909.34 389.8 L909.34 401.11" fill="none" stroke="#000" stroke-width="1.31" stroke-linejoin="round"/>
<text x="995.4 1004.9 1013.78 1023.9" y="394.04" transform="scale(0.9,1)" font-family='"Liberation Sans", sans-serif' font-size="16.4" fill="#000">22.0</text>
<text x="988.63 998.21 1007.01 1017.13" y="396.99" transform="scale(0.9,1)" font-family='"Liberation Sans", sans-serif' font-size="16.4" fill="#000">23.0</text>
<text x="991.16 1000.74 1009.54 1019.66" y="388.58" transform="scale(0.9,1)" font-family='"Liberation Sans", sans-serif' font-size="16.4" fill="#000">24.0</text>
<text x="996.7 1006.29 1015.09 1025.2" y="401.75" transform="scale(0.9,1)" font-family='"Liberation Sans", sans-serif' font-size="16.4" fill="#000">25.0</text>
<text x="982.97 992.47 1001.35 1011.47" y="389.99" transform="scale(0.9,1)" font-family='"Liberation Sans", sans-serif' font-size="16.4" fill="#000">26.0</text>
<text x="1020.71 1030.82" y="354.8" transform="scale(0.9,1)" font-family='"Liberation Sans", sans-serif' font-size="16.4" fill="#000">.0</text>
<path d="M912.4 346.6 L915.1 343.48 L915.1 354.8" fill="none" stroke="#000" stroke-width="1.31" stroke-linejoin="round"/>
<text x="992.18 1000.98 1011.1" y="373.2" transform="scale(0.9,1)" font-family='"Liberation Sans", sans-serif' font-size="16.4" fill="#000">8.0</text>
<path d="M886.1 365 L888.8 361.88 L888.8 373.2" fill="none" stroke="#000" stroke-width="1.31" stroke-linejoin="round"/>
<text x="984.02 993.52 1002.32 1012.44" y="380.6" transform="scale(0.9,1)" font-family='"Liberation Sans", sans-serif' font-size="16.4" fill="#000">38.0</text>
<text x="961.38 970.88 979.76 989.88" y="395.1" transform="scale(0.9,1)" font-family='"Liberation Sans", sans-serif' font-size="16.4" fill="#000">29.0</text>
<text x="968.35 977.85 986.65 996.77" y="395.1" transform="scale(0.9,1)" font-family='"Liberation Sans", sans-serif' font-size="16.4" fill="#000">35.0</text>
<text x="971.46 980.88 989.76 999.88" y="406.8" transform="scale(0.9,1)" font-family='"Liberation Sans", sans-serif' font-size="16.4" fill="#000">36.0</text>
<text x="977.46 995.76 1005.88" y="397.4" transform="scale(0.9,1)" font-family='"Liberation Sans", sans-serif' font-size="16.4" fill="#000">3.0</text>
<path d="M889.95 389.2 L892.65 386.08 L892.65 397.4" fill="none" stroke="#000" stroke-width="1.31" stroke-linejoin="round"/>
<text x="982.6 991.48 1001.6" y="416.2" transform="scale(0.9,1)" font-family='"Liberation Sans", sans-serif' font-size="16.4" fill="#000">2.0</text>
<text x="995.3 1004.09 1014.21" y="422.5" transform="scale(0.9,1)" font-family='"Liberation Sans", sans-serif' font-size="16.4" fill="#000">3.0</text>
<path d="M888.9 414.3 L891.6 411.18 L891.6 422.5" fill="none" stroke="#000" stroke-width="1.31" stroke-linejoin="round"/>
<text x="983.94 992.82 1002.94" y="432.7" transform="scale(0.9,1)" font-family='"Liberation Sans", sans-serif' font-size="16.4" fill="#000">6.0</text>
<text x="998.63 1007.43 1017.55" y="439" transform="scale(0.9,1)" font-family='"Liberation Sans", sans-serif' font-size="16.4" fill="#000">4.0</text>
<path d="M891.9 430.8 L894.6 427.68 L894.6 439" fill="none" stroke="#000" stroke-width="1.31" stroke-linejoin="round"/>
<text x="996.6 1006.18 1014.98 1025.1" y="405.3" transform="scale(0.9,1)" font-family='"Liberation Sans", sans-serif' font-size="16.4" fill="#000">24.0</text>
<text x="1024.1 1032.98 1043.1" y="387.3" transform="scale(0.9,1)" font-family='"Liberation Sans", sans-serif' font-size="16.4" fill="#000">0.0</text>
<path d="M914.9 379.1 L917.6 375.98 L917.6 387.3" fill="none" stroke="#000" stroke-width="1.31" stroke-linejoin="round"/>
<text x="993.57 1002.99 1011.87 1021.99" y="370" transform="scale(0.9,1)" font-family='"Liberation Sans", sans-serif' font-size="16.4" fill="#000">30.0</text>
</g>
<rect x="770.4" y="170.6" width="494.2" height="496.8" fill="none" stroke="#000" stroke-width="1.4"/>
<line x1="819.59" y1="667.4" x2="819.59" y2="673.45" stroke="#000" stroke-width="1.4"/>
<text x="921.31 931.14" y="692" transform="scale(0.88,1)" font-family='"Liberation Sans", sans-serif' font-size="16.8" fill="#000">−4</text>
<line x1="764.35" y1="618.2" x2="770.4" y2="618.2" stroke="#000" stroke-width="1.4"/>
<text x="841.04 850.86" y="624.4" transform="scale(0.88,1)" font-family='"Liberation Sans", sans-serif' font-size="16.8" fill="#000">−4</text>
<line x1="918.57" y1="667.4" x2="918.57" y2="673.45" stroke="#000" stroke-width="1.4"/>
<text x="1033.79 1043.53" y="692" transform="scale(0.88,1)" font-family='"Liberation Sans", sans-serif' font-size="16.8" fill="#000">−2</text>
<line x1="764.35" y1="518.8" x2="770.4" y2="518.8" stroke="#000" stroke-width="1.4"/>
<text x="841.04 850.78" y="525" transform="scale(0.88,1)" font-family='"Liberation Sans", sans-serif' font-size="16.8" fill="#000">−2</text>
<line x1="1017.55" y1="667.4" x2="1017.55" y2="673.45" stroke="#000" stroke-width="1.4"/>
<text x="1151.26" y="692" transform="scale(0.88,1)" font-family='"Liberation Sans", sans-serif' font-size="16.8" fill="#000">0</text>
<line x1="764.35" y1="419.4" x2="770.4" y2="419.4" stroke="#000" stroke-width="1.4"/>
<text x="850.78" y="425.6" transform="scale(0.88,1)" font-family='"Liberation Sans", sans-serif' font-size="16.8" fill="#000">0</text>
<line x1="1116.53" y1="667.4" x2="1116.53" y2="673.45" stroke="#000" stroke-width="1.4"/>
<text x="1263.74" y="692" transform="scale(0.88,1)" font-family='"Liberation Sans", sans-serif' font-size="16.8" fill="#000">2</text>
<line x1="764.35" y1="320" x2="770.4" y2="320" stroke="#000" stroke-width="1.4"/>
<text x="850.78" y="326.2" transform="scale(0.88,1)" font-family='"Liberation Sans", sans-serif' font-size="16.8" fill="#000">2</text>
<line x1="1215.51" y1="667.4" x2="1215.51" y2="673.45" stroke="#000" stroke-width="1.4"/>
<text x="1376.3" y="692" transform="scale(0.88,1)" font-family='"Liberation Sans", sans-serif' font-size="16.8" fill="#000">4</text>
<line x1="764.35" y1="220.6" x2="770.4" y2="220.6" stroke="#000" stroke-width="1.4"/>
<text x="850.86" y="226.8" transform="scale(0.88,1)" font-family='"Liberation Sans", sans-serif' font-size="16.8" fill="#000">4</text>
<text x="1098.07 1125.33 1136.88 1174.94 1193.55 1202.96 1239.63 1258.24 1267.65 1318.86 1334.05 1345.06 1358.1" y="159.9" transform="scale(0.8,1)" font-family='"Liberation Sans", sans-serif' font-size="21.4" fill="#000">.8.DieDieark2</text>
<text x="1673.61" y="159.9" transform="scale(0.624,1)" font-family='"Liberation Sans", sans-serif' font-size="21.4" fill="#000">M</text>
<path d="M860.47 149.2 L864 145.13 L864 159.9M870.82 149.2 L874.35 145.13 L874.35 159.9M891.52 149.2 L895.05 145.13 L895.05 159.9M922.57 149.2 L926.1 145.13 L926.1 159.9M974.32 149.2 L977.85 145.13 L977.85 159.9M1026.07 149.2 L1029.6 145.13 L1029.6 159.9" fill="none" stroke="#000" stroke-width="1.71" stroke-linejoin="round"/>
<line x1="930" y1="152" x2="940.6" y2="152" stroke="#000" stroke-width="1.5"/>
<text x="1108.3" y="159.9" transform="scale(1,1)" font-family='"Liberation Sans", sans-serif' font-size="21.4" fill="#000">3</text>
<text x="1120.9" y="159.9" transform="scale(1,1)" font-family='"Liberation Sans", sans-serif' font-size="21.4" font-style="italic" fill="#000">σ</text>
<g transform="translate(594,0)" fill="none" stroke="#000" stroke-width="1.6" stroke-linecap="round" stroke-linejoin="round">
<path d="M549.1 144.1 Q546.5 148.6 543.1 152.1"/>
<path d="M553.2 143.4 Q555.2 148.2 560.0 151.1"/>
<path d="M546.3 151.6 L556.6 151.6 L556.3 159.4 Q556 160.8 552.5 160.4"/>
<path d="M549.7 152.5 Q549.2 158.6 543.8 161.3"/>
<path d="M562.2 146.6 L580.7 146.6"/>
<path d="M571.0 143.1 Q567.8 150.5 562.5 154.4"/>
<path d="M566.9 151.6 L566.9 159.4"/>
<path d="M566.9 151.6 L578.5 151.6 L578.5 158.2 Q578 159.2 575.4 158.8"/>
<path d="M572.4 148.1 L572.4 161.3"/>
</g>
<rect x="1116.95" y="179.1" width="138.7" height="158" rx="3.5" ry="3.5" fill="#fff" fill-opacity="0.8" stroke="#cccccc" stroke-opacity="0.8" stroke-width="1.73"/>
<line x1="1124.05" y1="195.2" x2="1158.65" y2="195.2" stroke="#ff0000" stroke-width="2.59" stroke-linecap="square"/>
<line x1="1124.05" y1="220.4" x2="1158.65" y2="220.4" stroke="#0000ff" stroke-width="2.59" stroke-linecap="square"/>
<line x1="1124.05" y1="245.2" x2="1158.65" y2="245.2" stroke="#008000" stroke-width="2.59" stroke-linecap="square"/>
<path d="M1124.05 276 L1158.65 276 L1158.65 264.8 L1124.05 264.8 Z" fill="none" stroke="#a52a2a" stroke-width="2.59"/>
<path d="M1124.05 302 L1158.65 302 L1158.65 290.8 L1124.05 290.8 Z" fill="none" stroke="#ff00ff" stroke-width="3.46" stroke-dasharray="12.79 5.53"/>
<path d="M1124.05 327.75 L1158.65 327.75 L1158.65 316.55 L1124.05 316.55 Z" fill="none" stroke="#ffa500" stroke-width="3.46" stroke-dasharray="22.13 5.53 3.46 5.53"/>
<text x="1173.95" y="200.7" transform="scale(1,1)" font-family='"Liberation Sans", sans-serif' font-size="18" fill="#000">3</text>
<text x="1184.95" y="200.7" transform="scale(1,1)" font-family='"Liberation Sans", sans-serif' font-size="18" font-style="italic" fill="#000">σ</text>
<text x="1346.93" y="200.7" transform="scale(0.9,1)" font-family='"Liberation Sans", sans-serif' font-size="17" fill="#000">u</text>
<text x="1653.12" y="200.7" transform="scale(0.738,1)" font-family='"Liberation Sans", sans-serif' font-size="17" fill="#000">m</text>
<path d="M1205.31 192.2 L1208.11 188.97 L1208.11 200.7" fill="none" stroke="#000" stroke-width="1.36" stroke-linejoin="round"/>
<text x="1173.95" y="225.9" transform="scale(1,1)" font-family='"Liberation Sans", sans-serif' font-size="18" fill="#000">2</text>
<text x="1184.95" y="225.9" transform="scale(1,1)" font-family='"Liberation Sans", sans-serif' font-size="18" font-style="italic" fill="#000">σ</text>
<text x="1337.21 1346.29 1356.74 1366.38" y="225.9" transform="scale(0.9,1)" font-family='"Liberation Sans", sans-serif' font-size="17" fill="#000">0.8u</text>
<text x="1676.84" y="225.9" transform="scale(0.738,1)" font-family='"Liberation Sans", sans-serif' font-size="17" fill="#000">m</text>
<text x="1173.95" y="250.7" transform="scale(1,1)" font-family='"Liberation Sans", sans-serif' font-size="18" fill="#000">1</text>
<text x="1184.95" y="250.7" transform="scale(1,1)" font-family='"Liberation Sans", sans-serif' font-size="18" font-style="italic" fill="#000">σ</text>
<text x="1337.21 1346.29 1356.74 1366.38" y="250.7" transform="scale(0.9,1)" font-family='"Liberation Sans", sans-serif' font-size="17" fill="#000">0.5u</text>
<text x="1676.84" y="250.7" transform="scale(0.738,1)" font-family='"Liberation Sans", sans-serif' font-size="17" fill="#000">m</text>
<text x="1173.95" y="275.9" transform="scale(1,1)" font-family='"Liberation Sans", sans-serif' font-size="18" fill="#000">1</text>
<text x="1184.95" y="275.9" transform="scale(1,1)" font-family='"Liberation Sans", sans-serif' font-size="18" font-style="italic" fill="#000">σ</text>
<text x="1173.95" y="301.9" transform="scale(1,1)" font-family='"Liberation Sans", sans-serif' font-size="18" fill="#000">2</text>
<text x="1184.95" y="301.9" transform="scale(1,1)" font-family='"Liberation Sans", sans-serif' font-size="18" font-style="italic" fill="#000">σ</text>
<text x="1173.95" y="327.65" transform="scale(1,1)" font-family='"Liberation Sans", sans-serif' font-size="18" fill="#000">3</text>
<text x="1184.95" y="327.65" transform="scale(1,1)" font-family='"Liberation Sans", sans-serif' font-size="18" font-style="italic" fill="#000">σ</text>
<g clip-path="url(#c2)">
<path d="M401.1 1015.84 L400.47 1015.37 L399.8 1014.95 L399.09 1014.58 L398.34 1014.26 L397.56 1013.99 L396.74 1013.77 L395.89 1013.61 L395.01 1013.49 L394.09 1013.43 L393.14 1013.42 L392.16 1013.46 L391.15 1013.55 L390.12 1013.7 L389.06 1013.89 L387.97 1014.14 L386.86 1014.44 L385.73 1014.79 L384.57 1015.19 L383.4 1015.64 L382.21 1016.14 L381 1016.69 L379.78 1017.28 L378.54 1017.93 L377.29 1018.62 L376.03 1019.35 L374.76 1020.13 L373.48 1020.96 L372.2 1021.82 L370.91 1022.73 L369.62 1023.68 L368.33 1024.67 L367.04 1025.7 L365.75 1026.76 L364.46 1027.86 L363.18 1029 L361.91 1030.16 L360.64 1031.36 L359.38 1032.59 L358.14 1033.85 L356.9 1035.13 L355.68 1036.44 L354.48 1037.78 L353.29 1039.14 L352.12 1040.51 L350.98 1041.91 L349.85 1043.32 L348.74 1044.75 L347.66 1046.19 L346.61 1047.65 L345.58 1049.11 L344.58 1050.59 L343.61 1052.07 L342.67 1053.55 L341.76 1055.04 L340.88 1056.53 L340.04 1058.02 L339.23 1059.51 L338.46 1060.99 L337.72 1062.47 L337.02 1063.94 L336.36 1065.4 L335.74 1066.85 L335.16 1068.28 L334.62 1069.7 L334.12 1071.11 L333.66 1072.49 L333.25 1073.86 L332.88 1075.2 L332.55 1076.52 L332.26 1077.82 L332.02 1079.09 L331.83 1080.33 L331.67 1081.54 L331.57 1082.72 L331.51 1083.87 L331.49 1084.98 L331.52 1086.06 L331.59 1087.1 L331.71 1088.11 L331.87 1089.07 L332.08 1090 L332.33 1090.89 L332.63 1091.73 L332.97 1092.53 L333.35 1093.28 L333.78 1093.99 L334.25 1094.65 L334.76 1095.27 L335.31 1095.84 L335.9 1096.36 L336.53 1096.83 L337.2 1097.25 L337.91 1097.62 L338.66 1097.94 L339.44 1098.21 L340.26 1098.43 L341.11 1098.59 L341.99 1098.71 L342.91 1098.77 L343.86 1098.78 L344.84 1098.74 L345.85 1098.65 L346.88 1098.5 L347.94 1098.31 L349.03 1098.06 L350.14 1097.76 L351.27 1097.41 L352.43 1097.01 L353.6 1096.56 L354.79 1096.06 L356 1095.51 L357.22 1094.92 L358.46 1094.27 L359.71 1093.58 L360.97 1092.85 L362.24 1092.07 L363.52 1091.24 L364.8 1090.38 L366.09 1089.47 L367.38 1088.52 L368.67 1087.53 L369.96 1086.5 L371.25 1085.44 L372.54 1084.34 L373.82 1083.2 L375.09 1082.04 L376.36 1080.84 L377.62 1079.61 L378.86 1078.35 L380.1 1077.07 L381.32 1075.76 L382.52 1074.42 L383.71 1073.06 L384.88 1071.69 L386.02 1070.29 L387.15 1068.88 L388.26 1067.45 L389.34 1066.01 L390.39 1064.55 L391.42 1063.09 L392.42 1061.61 L393.39 1060.13 L394.33 1058.65 L395.24 1057.16 L396.12 1055.67 L396.96 1054.18 L397.77 1052.69 L398.54 1051.21 L399.28 1049.73 L399.98 1048.26 L400.64 1046.8 L401.26 1045.35 L401.84 1043.92 L402.38 1042.5 L402.88 1041.09 L403.34 1039.71 L403.75 1038.34 L404.12 1037 L404.45 1035.68 L404.74 1034.38 L404.98 1033.11 L405.17 1031.87 L405.33 1030.66 L405.43 1029.48 L405.49 1028.33 L405.51 1027.22 L405.48 1026.14 L405.41 1025.1 L405.29 1024.09 L405.13 1023.13 L404.92 1022.2 L404.67 1021.31 L404.37 1020.47 L404.03 1019.67 L403.65 1018.92 L403.22 1018.21 L402.75 1017.55 L402.24 1016.93 L401.69 1016.36 L401.1 1015.84Z" fill="none" stroke="#a52a2a" stroke-width="2.59"/>
<path d="M433.7 975.59 L432.43 974.65 L431.09 973.8 L429.68 973.06 L428.19 972.42 L426.62 971.88 L424.99 971.45 L423.28 971.11 L421.51 970.88 L419.68 970.76 L417.78 970.74 L415.82 970.82 L413.81 971 L411.73 971.29 L409.61 971.69 L407.44 972.18 L405.22 972.78 L402.95 973.48 L400.64 974.28 L398.3 975.18 L395.92 976.18 L393.5 977.28 L391.05 978.47 L388.58 979.75 L386.08 981.13 L383.56 982.61 L381.02 984.17 L378.47 985.81 L375.9 987.55 L373.33 989.37 L370.75 991.26 L368.16 993.24 L365.58 995.3 L363 997.42 L360.43 999.62 L357.86 1001.89 L355.31 1004.23 L352.78 1006.62 L350.26 1009.08 L347.77 1011.6 L345.3 1014.17 L342.87 1016.79 L340.46 1019.46 L338.08 1022.17 L335.75 1024.93 L333.45 1027.72 L331.2 1030.54 L328.99 1033.4 L326.83 1036.29 L324.72 1039.2 L322.66 1042.13 L320.66 1045.08 L318.72 1048.04 L316.84 1051.01 L315.02 1053.99 L313.27 1056.97 L311.58 1059.94 L309.96 1062.92 L308.42 1065.88 L306.94 1068.84 L305.55 1071.78 L304.23 1074.7 L302.98 1077.59 L301.82 1080.46 L300.74 1083.3 L299.74 1086.11 L298.83 1088.88 L298 1091.61 L297.25 1094.3 L296.6 1096.94 L296.03 1099.53 L295.55 1102.07 L295.15 1104.55 L294.85 1106.98 L294.64 1109.34 L294.51 1111.63 L294.48 1113.86 L294.54 1116.02 L294.68 1118.11 L294.92 1120.12 L295.25 1122.05 L295.66 1123.9 L296.17 1125.67 L296.76 1127.35 L297.44 1128.95 L298.21 1130.46 L299.06 1131.88 L300 1133.2 L301.02 1134.44 L302.12 1135.57 L303.3 1136.61 L304.57 1137.55 L305.91 1138.4 L307.32 1139.14 L308.81 1139.78 L310.38 1140.32 L312.01 1140.75 L313.72 1141.09 L315.49 1141.32 L317.32 1141.44 L319.22 1141.46 L321.18 1141.38 L323.19 1141.2 L325.27 1140.91 L327.39 1140.51 L329.56 1140.02 L331.78 1139.42 L334.05 1138.72 L336.36 1137.92 L338.7 1137.02 L341.08 1136.02 L343.5 1134.92 L345.95 1133.73 L348.42 1132.45 L350.92 1131.07 L353.44 1129.59 L355.98 1128.03 L358.53 1126.39 L361.1 1124.65 L363.67 1122.83 L366.25 1120.94 L368.84 1118.96 L371.42 1116.9 L374 1114.78 L376.57 1112.58 L379.14 1110.31 L381.69 1107.97 L384.22 1105.58 L386.74 1103.12 L389.23 1100.6 L391.7 1098.03 L394.13 1095.41 L396.54 1092.74 L398.92 1090.03 L401.25 1087.27 L403.55 1084.48 L405.8 1081.66 L408.01 1078.8 L410.17 1075.91 L412.28 1073 L414.34 1070.07 L416.34 1067.12 L418.28 1064.16 L420.16 1061.19 L421.98 1058.21 L423.73 1055.23 L425.42 1052.26 L427.04 1049.28 L428.58 1046.32 L430.06 1043.36 L431.45 1040.42 L432.77 1037.5 L434.02 1034.61 L435.18 1031.74 L436.26 1028.9 L437.26 1026.09 L438.17 1023.32 L439 1020.59 L439.75 1017.9 L440.4 1015.26 L440.97 1012.67 L441.45 1010.13 L441.85 1007.65 L442.15 1005.22 L442.36 1002.86 L442.49 1000.57 L442.52 998.34 L442.46 996.18 L442.32 994.09 L442.08 992.08 L441.75 990.15 L441.34 988.3 L440.83 986.53 L440.24 984.85 L439.56 983.25 L438.79 981.74 L437.94 980.32 L437 979 L435.98 977.76 L434.88 976.63 L433.7 975.59Z" fill="none" stroke="#ff00ff" stroke-width="3.46" stroke-dasharray="12.79 5.53"/>
<path d="M466.3 935.33 L464.4 933.92 L462.39 932.66 L460.27 931.54 L458.03 930.58 L455.68 929.77 L453.23 929.12 L450.67 928.62 L448.02 928.28 L445.26 928.09 L442.42 928.05 L439.48 928.18 L436.46 928.46 L433.35 928.89 L430.17 929.48 L426.91 930.22 L423.58 931.12 L420.18 932.17 L416.72 933.37 L413.2 934.72 L409.62 936.22 L406 937.86 L402.33 939.65 L398.62 941.58 L394.87 943.65 L391.09 945.86 L387.28 948.2 L383.45 950.67 L379.6 953.27 L375.74 956 L371.87 958.85 L367.99 961.81 L364.12 964.89 L360.25 968.09 L356.39 971.39 L352.55 974.79 L348.72 978.29 L344.92 981.89 L341.15 985.57 L337.41 989.35 L333.71 993.2 L330.05 997.13 L326.44 1001.14 L322.88 1005.21 L319.37 1009.34 L315.93 1013.53 L312.55 1017.77 L309.23 1022.05 L305.99 1026.38 L302.83 1030.75 L299.74 1035.14 L296.74 1039.57 L293.83 1044.01 L291.01 1048.46 L288.28 1052.93 L285.65 1057.4 L283.12 1061.87 L280.69 1066.33 L278.38 1070.78 L276.17 1075.21 L274.07 1079.61 L272.09 1083.99 L270.23 1088.34 L268.48 1092.64 L266.86 1096.9 L265.36 1101.12 L263.99 1105.27 L262.75 1109.37 L261.63 1113.4 L260.64 1117.36 L259.79 1121.25 L259.07 1125.06 L258.48 1128.78 L258.02 1132.41 L257.7 1135.96 L257.52 1139.4 L257.47 1142.75 L257.55 1145.98 L257.77 1149.11 L258.13 1152.13 L258.62 1155.02 L259.24 1157.8 L260 1160.46 L260.89 1162.98 L261.91 1165.38 L263.06 1167.64 L264.34 1169.77 L265.74 1171.76 L267.27 1173.6 L268.93 1175.31 L270.7 1176.87 L272.6 1178.28 L274.61 1179.54 L276.73 1180.66 L278.97 1181.62 L281.32 1182.43 L283.77 1183.08 L286.33 1183.58 L288.98 1183.92 L291.74 1184.11 L294.58 1184.15 L297.52 1184.02 L300.54 1183.74 L303.65 1183.31 L306.83 1182.72 L310.09 1181.98 L313.42 1181.08 L316.82 1180.03 L320.28 1178.83 L323.8 1177.48 L327.38 1175.98 L331 1174.34 L334.67 1172.55 L338.38 1170.62 L342.13 1168.55 L345.91 1166.34 L349.72 1164 L353.55 1161.53 L357.4 1158.93 L361.26 1156.2 L365.13 1153.35 L369.01 1150.39 L372.88 1147.31 L376.75 1144.11 L380.61 1140.81 L384.45 1137.41 L388.28 1133.91 L392.08 1130.31 L395.85 1126.63 L399.59 1122.85 L403.29 1119 L406.95 1115.07 L410.56 1111.06 L414.12 1106.99 L417.63 1102.86 L421.07 1098.67 L424.45 1094.43 L427.77 1090.15 L431.01 1085.82 L434.17 1081.45 L437.26 1077.06 L440.26 1072.63 L443.17 1068.19 L445.99 1063.74 L448.72 1059.27 L451.35 1054.8 L453.88 1050.33 L456.31 1045.87 L458.62 1041.42 L460.83 1036.99 L462.93 1032.59 L464.91 1028.21 L466.77 1023.86 L468.52 1019.56 L470.14 1015.3 L471.64 1011.08 L473.01 1006.93 L474.25 1002.83 L475.37 998.8 L476.36 994.84 L477.21 990.95 L477.93 987.14 L478.52 983.42 L478.98 979.79 L479.3 976.24 L479.48 972.8 L479.53 969.45 L479.45 966.22 L479.23 963.09 L478.87 960.07 L478.38 957.18 L477.76 954.4 L477 951.74 L476.11 949.22 L475.09 946.82 L473.94 944.56 L472.66 942.43 L471.26 940.44 L469.73 938.6 L468.07 936.89 L466.3 935.33Z" fill="none" stroke="#ffa500" stroke-width="3.46" stroke-dasharray="22.13 5.53 3.46 5.53"/>
<circle cx="514.4" cy="1109.3" r="2.45" fill="#1f77b4"/>
<circle cx="384.52" cy="1020.78" r="2.45" fill="#1f77b4"/>
<circle cx="388.05" cy="1020.22" r="2.45" fill="#1f77b4"/>
<circle cx="387.72" cy="1031.19" r="2.45" fill="#1f77b4"/>
<circle cx="391.75" cy="1023.29" r="2.45" fill="#1f77b4"/>
<circle cx="388.03" cy="1016.7" r="2.45" fill="#1f77b4"/>
<circle cx="387.23" cy="1024.38" r="2.45" fill="#1f77b4"/>
<circle cx="387.99" cy="1019.37" r="2.45" fill="#1f77b4"/>
<circle cx="401.3" cy="1026.02" r="2.45" fill="#1f77b4"/>
<circle cx="401.32" cy="1030.15" r="2.45" fill="#1f77b4"/>
<circle cx="400.61" cy="1024.17" r="2.45" fill="#1f77b4"/>
<circle cx="397.46" cy="1013.68" r="2.45" fill="#1f77b4"/>
<circle cx="385.7" cy="1025.1" r="2.45" fill="#1f77b4"/>
<circle cx="399.15" cy="1027.9" r="2.45" fill="#1f77b4"/>
<circle cx="402.17" cy="1024.64" r="2.45" fill="#1f77b4"/>
<circle cx="395.9" cy="1022.31" r="2.45" fill="#1f77b4"/>
<circle cx="387.54" cy="1034.06" r="2.45" fill="#1f77b4"/>
<circle cx="388.35" cy="1024.23" r="2.45" fill="#1f77b4"/>
<circle cx="400.63" cy="1012.12" r="2.45" fill="#1f77b4"/>
<circle cx="392.6" cy="1029.44" r="2.45" fill="#1f77b4"/>
<circle cx="387.66" cy="1037.68" r="2.45" fill="#1f77b4"/>
<circle cx="391.89" cy="1028.26" r="2.45" fill="#1f77b4"/>
<circle cx="393.8" cy="1030.03" r="2.45" fill="#1f77b4"/>
<circle cx="396.39" cy="1024.83" r="2.45" fill="#1f77b4"/>
<circle cx="386.9" cy="1028.9" r="2.45" fill="#1f77b4"/>
<circle cx="398.83" cy="1012.24" r="2.45" fill="#1f77b4"/>
<circle cx="390.85" cy="1014.85" r="2.45" fill="#1f77b4"/>
<circle cx="389.91" cy="1018.16" r="2.45" fill="#1f77b4"/>
<circle cx="386.53" cy="1030.61" r="2.45" fill="#1f77b4"/>
<circle cx="399.9" cy="1016.51" r="2.45" fill="#1f77b4"/>
<circle cx="397.96" cy="1020.74" r="2.45" fill="#1f77b4"/>
<circle cx="392.87" cy="1027.69" r="2.45" fill="#1f77b4"/>
<circle cx="394.69" cy="1016.87" r="2.45" fill="#1f77b4"/>
<circle cx="397.68" cy="1028.58" r="2.45" fill="#1f77b4"/>
<circle cx="389.1" cy="1034.54" r="2.45" fill="#1f77b4"/>
<circle cx="387.52" cy="1025.15" r="2.45" fill="#1f77b4"/>
<circle cx="397.67" cy="1023.45" r="2.45" fill="#1f77b4"/>
<circle cx="410.8" cy="987.4" r="2.45" fill="#1f77b4"/>
<circle cx="416" cy="988" r="2.45" fill="#1f77b4"/>
<circle cx="362" cy="1007" r="2.45" fill="#1f77b4"/>
<circle cx="367" cy="1017" r="2.45" fill="#1f77b4"/>
<circle cx="366.5" cy="1026" r="2.45" fill="#1f77b4"/>
<circle cx="367" cy="1035.5" r="2.45" fill="#1f77b4"/>
<circle cx="400.5" cy="1046.6" r="2.45" fill="#1f77b4"/>
<circle cx="427" cy="1005.6" r="2.45" fill="#1f77b4"/>
<circle cx="409" cy="1037" r="2.45" fill="#1f77b4"/>
<circle cx="386" cy="998" r="2.45" fill="#1f77b4"/>
<circle cx="395" cy="999" r="2.45" fill="#1f77b4"/>
<circle cx="404" cy="1000" r="2.45" fill="#1f77b4"/>
<circle cx="398" cy="1004" r="2.45" fill="#1f77b4"/>
<circle cx="390" cy="1003" r="2.45" fill="#1f77b4"/>
<circle cx="327.55" cy="1103.9" r="2.45" fill="#1f77b4"/>
<circle cx="334.33" cy="1098.06" r="2.45" fill="#1f77b4"/>
<circle cx="337.47" cy="1102.29" r="2.45" fill="#1f77b4"/>
<circle cx="334.32" cy="1094.4" r="2.45" fill="#1f77b4"/>
<circle cx="325.88" cy="1099.91" r="2.45" fill="#1f77b4"/>
<circle cx="342.36" cy="1094.8" r="2.45" fill="#1f77b4"/>
<circle cx="343.16" cy="1093.68" r="2.45" fill="#1f77b4"/>
<circle cx="327.93" cy="1095.06" r="2.45" fill="#1f77b4"/>
<circle cx="331.92" cy="1101.64" r="2.45" fill="#1f77b4"/>
<circle cx="337.12" cy="1100.82" r="2.45" fill="#1f77b4"/>
<circle cx="336.12" cy="1096.75" r="2.45" fill="#1f77b4"/>
<circle cx="334.07" cy="1093.66" r="2.45" fill="#1f77b4"/>
<circle cx="334.6" cy="1099.52" r="2.45" fill="#1f77b4"/>
<circle cx="329.18" cy="1094.21" r="2.45" fill="#1f77b4"/>
<circle cx="330.55" cy="1093.92" r="2.45" fill="#1f77b4"/>
<circle cx="327.86" cy="1102.92" r="2.45" fill="#1f77b4"/>
<circle cx="336.65" cy="1099.12" r="2.45" fill="#1f77b4"/>
<circle cx="334.07" cy="1097.09" r="2.45" fill="#1f77b4"/>
<circle cx="339.08" cy="1100.81" r="2.45" fill="#1f77b4"/>
<circle cx="337.03" cy="1092.96" r="2.45" fill="#1f77b4"/>
<circle cx="330.49" cy="1103.47" r="2.45" fill="#1f77b4"/>
<circle cx="338.13" cy="1096.07" r="2.45" fill="#1f77b4"/>
<circle cx="343.61" cy="1093.3" r="2.45" fill="#1f77b4"/>
<circle cx="331.99" cy="1094.9" r="2.45" fill="#1f77b4"/>
<circle cx="298" cy="1076.3" r="2.45" fill="#1f77b4"/>
<circle cx="327.5" cy="1071.7" r="2.45" fill="#1f77b4"/>
<circle cx="338" cy="1067" r="2.45" fill="#1f77b4"/>
<circle cx="297" cy="1090" r="2.45" fill="#1f77b4"/>
<circle cx="297" cy="1101.3" r="2.45" fill="#1f77b4"/>
<circle cx="381" cy="1093.3" r="2.45" fill="#1f77b4"/>
<circle cx="367.5" cy="1106" r="2.45" fill="#1f77b4"/>
<circle cx="349.3" cy="1121.8" r="2.45" fill="#1f77b4"/>
<circle cx="370" cy="1119.5" r="2.45" fill="#1f77b4"/>
<circle cx="365" cy="1135.5" r="2.45" fill="#1f77b4"/>
<circle cx="315" cy="1115" r="2.45" fill="#1f77b4"/>
<circle cx="323" cy="1115" r="2.45" fill="#1f77b4"/>
<circle cx="338" cy="1115" r="2.45" fill="#1f77b4"/>
<circle cx="312.9" cy="1099" r="2.45" fill="#1f77b4"/>
<circle cx="320.8" cy="1113.8" r="2.45" fill="#1f77b4"/>
<circle cx="361.8" cy="1118.4" r="2.45" fill="#1f77b4"/>
<circle cx="327" cy="1084.5" r="2.45" fill="#1f77b4"/>
<circle cx="345" cy="1085" r="2.45" fill="#1f77b4"/>
<circle cx="355" cy="1088" r="2.45" fill="#1f77b4"/>
<circle cx="365" cy="1087" r="2.45" fill="#1f77b4"/>
<circle cx="340" cy="1092" r="2.45" fill="#1f77b4"/>
<circle cx="358" cy="1096" r="2.45" fill="#1f77b4"/>
<line x1="176.5" y1="1015.3" x2="671.3" y2="1015.3" stroke="#808080" stroke-width="1.8"/>
<line x1="423.05" y1="767.6" x2="423.05" y2="1264.5" stroke="#808080" stroke-width="1.8"/>
<path d="M472.55 1015.3 L472.52 1013.57 L472.43 1011.85 L472.28 1010.13 L472.07 1008.41 L471.8 1006.7 L471.47 1005.01 L471.08 1003.32 L470.63 1001.66 L470.13 1000 L469.56 998.37 L468.95 996.76 L468.27 995.17 L467.54 993.6 L466.76 992.06 L465.92 990.55 L465.03 989.07 L464.09 987.62 L463.1 986.2 L462.06 984.82 L460.97 983.48 L459.84 982.18 L458.66 980.91 L457.44 979.69 L456.17 978.51 L454.87 977.38 L453.53 976.29 L452.15 975.25 L450.73 974.26 L449.28 973.32 L447.8 972.43 L446.29 971.59 L444.75 970.81 L443.18 970.08 L441.59 969.4 L439.98 968.79 L438.35 968.22 L436.69 967.72 L435.03 967.27 L433.34 966.88 L431.65 966.55 L429.94 966.28 L428.22 966.07 L426.5 965.92 L424.78 965.83 L423.05 965.8 L421.32 965.83 L419.6 965.92 L417.88 966.07 L416.16 966.28 L414.45 966.55 L412.76 966.88 L411.07 967.27 L409.41 967.72 L407.75 968.22 L406.12 968.79 L404.51 969.4 L402.92 970.08 L401.35 970.81 L399.81 971.59 L398.3 972.43 L396.82 973.32 L395.37 974.26 L393.95 975.25 L392.57 976.29 L391.23 977.38 L389.93 978.51 L388.66 979.69 L387.44 980.91 L386.26 982.18 L385.13 983.48 L384.04 984.82 L383 986.2 L382.01 987.62 L381.07 989.07 L380.18 990.55 L379.34 992.06 L378.56 993.6 L377.83 995.17 L377.15 996.76 L376.54 998.37 L375.97 1000 L375.47 1001.66 L375.02 1003.32 L374.63 1005.01 L374.3 1006.7 L374.03 1008.41 L373.82 1010.13 L373.67 1011.85 L373.58 1013.57 L373.55 1015.3 L373.58 1017.03 L373.67 1018.75 L373.82 1020.47 L374.03 1022.19 L374.3 1023.9 L374.63 1025.59 L375.02 1027.28 L375.47 1028.94 L375.97 1030.6 L376.54 1032.23 L377.15 1033.84 L377.83 1035.43 L378.56 1037 L379.34 1038.54 L380.18 1040.05 L381.07 1041.53 L382.01 1042.98 L383 1044.4 L384.04 1045.78 L385.13 1047.12 L386.26 1048.42 L387.44 1049.69 L388.66 1050.91 L389.93 1052.09 L391.23 1053.22 L392.57 1054.31 L393.95 1055.35 L395.37 1056.34 L396.82 1057.28 L398.3 1058.17 L399.81 1059.01 L401.35 1059.79 L402.92 1060.52 L404.51 1061.2 L406.12 1061.81 L407.75 1062.38 L409.41 1062.88 L411.07 1063.33 L412.76 1063.72 L414.45 1064.05 L416.16 1064.32 L417.88 1064.53 L419.6 1064.68 L421.32 1064.77 L423.05 1064.8 L424.78 1064.77 L426.5 1064.68 L428.22 1064.53 L429.94 1064.32 L431.65 1064.05 L433.34 1063.72 L435.03 1063.33 L436.69 1062.88 L438.35 1062.38 L439.98 1061.81 L441.59 1061.2 L443.18 1060.52 L444.75 1059.79 L446.29 1059.01 L447.8 1058.17 L449.28 1057.28 L450.73 1056.34 L452.15 1055.35 L453.53 1054.31 L454.87 1053.22 L456.17 1052.09 L457.44 1050.91 L458.66 1049.69 L459.84 1048.42 L460.97 1047.12 L462.06 1045.78 L463.1 1044.4 L464.09 1042.98 L465.03 1041.53 L465.92 1040.05 L466.76 1038.54 L467.54 1037 L468.27 1035.43 L468.95 1033.84 L469.56 1032.23 L470.13 1030.6 L470.63 1028.94 L471.08 1027.28 L471.47 1025.59 L471.8 1023.9 L472.07 1022.19 L472.28 1020.47 L472.43 1018.75 L472.52 1017.03 L472.55 1015.3" fill="none" stroke="#ff0000" stroke-width="2.59"/>
<path d="M462.65 1015.3 L462.63 1013.92 L462.55 1012.54 L462.43 1011.16 L462.26 1009.79 L462.05 1008.42 L461.78 1007.07 L461.47 1005.72 L461.12 1004.38 L460.71 1003.06 L460.26 1001.76 L459.77 1000.47 L459.23 999.19 L458.64 997.94 L458.01 996.71 L457.34 995.5 L456.63 994.32 L455.88 993.16 L455.09 992.02 L454.26 990.92 L453.39 989.85 L452.48 988.8 L451.54 987.79 L450.56 986.81 L449.55 985.87 L448.5 984.96 L447.43 984.09 L446.33 983.26 L445.19 982.47 L444.03 981.72 L442.85 981.01 L441.64 980.34 L440.41 979.71 L439.16 979.12 L437.88 978.58 L436.59 978.09 L435.29 977.64 L433.97 977.23 L432.63 976.88 L431.28 976.57 L429.93 976.3 L428.56 976.09 L427.19 975.92 L425.81 975.8 L424.43 975.72 L423.05 975.7 L421.67 975.72 L420.29 975.8 L418.91 975.92 L417.54 976.09 L416.17 976.3 L414.82 976.57 L413.47 976.88 L412.13 977.23 L410.81 977.64 L409.51 978.09 L408.22 978.58 L406.94 979.12 L405.69 979.71 L404.46 980.34 L403.25 981.01 L402.07 981.72 L400.91 982.47 L399.77 983.26 L398.67 984.09 L397.6 984.96 L396.55 985.87 L395.54 986.81 L394.56 987.79 L393.62 988.8 L392.71 989.85 L391.84 990.92 L391.01 992.02 L390.22 993.16 L389.47 994.32 L388.76 995.5 L388.09 996.71 L387.46 997.94 L386.87 999.19 L386.33 1000.47 L385.84 1001.76 L385.39 1003.06 L384.98 1004.38 L384.63 1005.72 L384.32 1007.07 L384.05 1008.42 L383.84 1009.79 L383.67 1011.16 L383.55 1012.54 L383.47 1013.92 L383.45 1015.3 L383.47 1016.68 L383.55 1018.06 L383.67 1019.44 L383.84 1020.81 L384.05 1022.18 L384.32 1023.53 L384.63 1024.88 L384.98 1026.22 L385.39 1027.54 L385.84 1028.84 L386.33 1030.13 L386.87 1031.41 L387.46 1032.66 L388.09 1033.89 L388.76 1035.1 L389.47 1036.28 L390.22 1037.44 L391.01 1038.58 L391.84 1039.68 L392.71 1040.75 L393.62 1041.8 L394.56 1042.81 L395.54 1043.79 L396.55 1044.73 L397.6 1045.64 L398.67 1046.51 L399.77 1047.34 L400.91 1048.13 L402.07 1048.88 L403.25 1049.59 L404.46 1050.26 L405.69 1050.89 L406.94 1051.48 L408.22 1052.02 L409.51 1052.51 L410.81 1052.96 L412.13 1053.37 L413.47 1053.72 L414.82 1054.03 L416.17 1054.3 L417.54 1054.51 L418.91 1054.68 L420.29 1054.8 L421.67 1054.88 L423.05 1054.9 L424.43 1054.88 L425.81 1054.8 L427.19 1054.68 L428.56 1054.51 L429.93 1054.3 L431.28 1054.03 L432.63 1053.72 L433.97 1053.37 L435.29 1052.96 L436.59 1052.51 L437.88 1052.02 L439.16 1051.48 L440.41 1050.89 L441.64 1050.26 L442.85 1049.59 L444.03 1048.88 L445.19 1048.13 L446.33 1047.34 L447.43 1046.51 L448.5 1045.64 L449.55 1044.73 L450.56 1043.79 L451.54 1042.81 L452.48 1041.8 L453.39 1040.75 L454.26 1039.68 L455.09 1038.58 L455.88 1037.44 L456.63 1036.28 L457.34 1035.1 L458.01 1033.89 L458.64 1032.66 L459.23 1031.41 L459.77 1030.13 L460.26 1028.84 L460.71 1027.54 L461.12 1026.22 L461.47 1024.88 L461.78 1023.53 L462.05 1022.18 L462.26 1020.81 L462.43 1019.44 L462.55 1018.06 L462.63 1016.68 L462.65 1015.3" fill="none" stroke="#0000ff" stroke-width="2.59"/>
<path d="M447.8 1015.3 L447.78 1014.44 L447.74 1013.57 L447.66 1012.71 L447.56 1011.86 L447.42 1011 L447.26 1010.15 L447.06 1009.31 L446.84 1008.48 L446.59 1007.65 L446.31 1006.84 L446 1006.03 L445.66 1005.23 L445.3 1004.45 L444.9 1003.68 L444.48 1002.92 L444.04 1002.18 L443.57 1001.46 L443.07 1000.75 L442.55 1000.06 L442.01 999.39 L441.44 998.74 L440.85 998.11 L440.24 997.5 L439.61 996.91 L438.96 996.34 L438.29 995.8 L437.6 995.28 L436.89 994.78 L436.17 994.31 L435.42 993.87 L434.67 993.45 L433.9 993.05 L433.12 992.69 L432.32 992.35 L431.51 992.04 L430.7 991.76 L429.87 991.51 L429.04 991.29 L428.2 991.09 L427.35 990.93 L426.49 990.79 L425.64 990.69 L424.78 990.61 L423.91 990.57 L423.05 990.55 L422.19 990.57 L421.32 990.61 L420.46 990.69 L419.61 990.79 L418.75 990.93 L417.9 991.09 L417.06 991.29 L416.23 991.51 L415.4 991.76 L414.59 992.04 L413.78 992.35 L412.98 992.69 L412.2 993.05 L411.43 993.45 L410.67 993.87 L409.93 994.31 L409.21 994.78 L408.5 995.28 L407.81 995.8 L407.14 996.34 L406.49 996.91 L405.86 997.5 L405.25 998.11 L404.66 998.74 L404.09 999.39 L403.55 1000.06 L403.03 1000.75 L402.53 1001.46 L402.06 1002.18 L401.62 1002.92 L401.2 1003.68 L400.8 1004.45 L400.44 1005.23 L400.1 1006.03 L399.79 1006.84 L399.51 1007.65 L399.26 1008.48 L399.04 1009.31 L398.84 1010.15 L398.68 1011 L398.54 1011.86 L398.44 1012.71 L398.36 1013.57 L398.32 1014.44 L398.3 1015.3 L398.32 1016.16 L398.36 1017.03 L398.44 1017.89 L398.54 1018.74 L398.68 1019.6 L398.84 1020.45 L399.04 1021.29 L399.26 1022.12 L399.51 1022.95 L399.79 1023.76 L400.1 1024.57 L400.44 1025.37 L400.8 1026.15 L401.2 1026.92 L401.62 1027.67 L402.06 1028.42 L402.53 1029.14 L403.03 1029.85 L403.55 1030.54 L404.09 1031.21 L404.66 1031.86 L405.25 1032.49 L405.86 1033.1 L406.49 1033.69 L407.14 1034.26 L407.81 1034.8 L408.5 1035.32 L409.21 1035.82 L409.93 1036.29 L410.67 1036.73 L411.43 1037.15 L412.2 1037.55 L412.98 1037.91 L413.78 1038.25 L414.59 1038.56 L415.4 1038.84 L416.23 1039.09 L417.06 1039.31 L417.9 1039.51 L418.75 1039.67 L419.61 1039.81 L420.46 1039.91 L421.32 1039.99 L422.19 1040.03 L423.05 1040.05 L423.91 1040.03 L424.78 1039.99 L425.64 1039.91 L426.49 1039.81 L427.35 1039.67 L428.2 1039.51 L429.04 1039.31 L429.87 1039.09 L430.7 1038.84 L431.51 1038.56 L432.32 1038.25 L433.12 1037.91 L433.9 1037.55 L434.67 1037.15 L435.42 1036.73 L436.17 1036.29 L436.89 1035.82 L437.6 1035.32 L438.29 1034.8 L438.96 1034.26 L439.61 1033.69 L440.24 1033.1 L440.85 1032.49 L441.44 1031.86 L442.01 1031.21 L442.55 1030.54 L443.07 1029.85 L443.57 1029.14 L444.04 1028.42 L444.48 1027.67 L444.9 1026.92 L445.3 1026.15 L445.66 1025.37 L446 1024.57 L446.31 1023.76 L446.59 1022.95 L446.84 1022.12 L447.06 1021.29 L447.26 1020.45 L447.42 1019.6 L447.56 1018.74 L447.66 1017.89 L447.74 1017.03 L447.78 1016.16 L447.8 1015.3" fill="none" stroke="#008000" stroke-width="2.59"/>
<text x="570.68 580.1 588.98 599.1" y="1108.8" transform="scale(0.9,1)" font-family='"Liberation Sans", sans-serif' font-size="16.4" fill="#000">40.0</text>
<text x="426.38 444.67 454.79" y="1020.28" transform="scale(0.9,1)" font-family='"Liberation Sans", sans-serif' font-size="16.4" fill="#000">4.0</text>
<path d="M393.97 1012.08 L396.68 1008.97 L396.68 1020.28" fill="none" stroke="#000" stroke-width="1.31" stroke-linejoin="round"/>
<text x="430.3 439.71 448.59 458.71" y="1019.72" transform="scale(0.9,1)" font-family='"Liberation Sans", sans-serif' font-size="16.4" fill="#000">42.0</text>
<text x="429.93 439.43 448.23 458.35" y="1030.69" transform="scale(0.9,1)" font-family='"Liberation Sans", sans-serif' font-size="16.4" fill="#000">43.0</text>
<text x="434.41 443.91 452.7 462.82" y="1022.79" transform="scale(0.9,1)" font-family='"Liberation Sans", sans-serif' font-size="16.4" fill="#000">44.0</text>
<text x="430.27 439.77 448.57 458.69" y="1016.2" transform="scale(0.9,1)" font-family='"Liberation Sans", sans-serif' font-size="16.4" fill="#000">45.0</text>
<text x="429.38 438.8 447.68 457.8" y="1023.88" transform="scale(0.9,1)" font-family='"Liberation Sans", sans-serif' font-size="16.4" fill="#000">46.0</text>
<text x="430.23 439.65 448.53 458.65" y="1018.87" transform="scale(0.9,1)" font-family='"Liberation Sans", sans-serif' font-size="16.4" fill="#000">47.0</text>
<text x="445.02 454.52 463.31 473.43" y="1025.52" transform="scale(0.9,1)" font-family='"Liberation Sans", sans-serif' font-size="16.4" fill="#000">48.0</text>
<text x="445.04 454.46 463.34 473.46" y="1029.65" transform="scale(0.9,1)" font-family='"Liberation Sans", sans-serif' font-size="16.4" fill="#000">49.0</text>
<text x="444.26 453.67 462.55 472.67" y="1023.67" transform="scale(0.9,1)" font-family='"Liberation Sans", sans-serif' font-size="16.4" fill="#000">50.0</text>
<text x="440.75 459.05 469.17" y="1013.18" transform="scale(0.9,1)" font-family='"Liberation Sans", sans-serif' font-size="16.4" fill="#000">5.0</text>
<path d="M406.91 1004.98 L409.61 1001.87 L409.61 1013.18" fill="none" stroke="#000" stroke-width="1.31" stroke-linejoin="round"/>
<text x="427.68 437.1 445.98 456.1" y="1024.6" transform="scale(0.9,1)" font-family='"Liberation Sans", sans-serif' font-size="16.4" fill="#000">52.0</text>
<text x="442.63 452.13 460.93 471.05" y="1027.4" transform="scale(0.9,1)" font-family='"Liberation Sans", sans-serif' font-size="16.4" fill="#000">53.0</text>
<text x="445.99 455.49 464.29 474.41" y="1024.14" transform="scale(0.9,1)" font-family='"Liberation Sans", sans-serif' font-size="16.4" fill="#000">54.0</text>
<text x="439.02 448.52 457.32 467.44" y="1021.81" transform="scale(0.9,1)" font-family='"Liberation Sans", sans-serif' font-size="16.4" fill="#000">55.0</text>
<text x="429.73 439.14 448.03 458.14" y="1033.56" transform="scale(0.9,1)" font-family='"Liberation Sans", sans-serif' font-size="16.4" fill="#000">56.0</text>
<text x="430.63 440.05 448.93 459.05" y="1023.73" transform="scale(0.9,1)" font-family='"Liberation Sans", sans-serif' font-size="16.4" fill="#000">57.0</text>
<text x="444.28 453.78 462.58 472.7" y="1011.62" transform="scale(0.9,1)" font-family='"Liberation Sans", sans-serif' font-size="16.4" fill="#000">58.0</text>
<text x="435.35 444.76 453.64 463.76" y="1028.94" transform="scale(0.9,1)" font-family='"Liberation Sans", sans-serif' font-size="16.4" fill="#000">59.0</text>
<text x="429.78 439.28 448.16 458.28" y="1037.18" transform="scale(0.9,1)" font-family='"Liberation Sans", sans-serif' font-size="16.4" fill="#000">60.0</text>
<text x="434.48 452.86 462.98" y="1027.76" transform="scale(0.9,1)" font-family='"Liberation Sans", sans-serif' font-size="16.4" fill="#000">6.0</text>
<path d="M401.34 1019.56 L404.04 1016.45 L404.04 1027.76" fill="none" stroke="#000" stroke-width="1.31" stroke-linejoin="round"/>
<text x="436.6 446.1 454.98 465.1" y="1029.53" transform="scale(0.9,1)" font-family='"Liberation Sans", sans-serif' font-size="16.4" fill="#000">62.0</text>
<text x="439.48 449.06 457.86 467.98" y="1024.33" transform="scale(0.9,1)" font-family='"Liberation Sans", sans-serif' font-size="16.4" fill="#000">63.0</text>
<text x="428.94 438.52 447.32 457.44" y="1028.4" transform="scale(0.9,1)" font-family='"Liberation Sans", sans-serif' font-size="16.4" fill="#000">64.0</text>
<text x="442.19 451.77 460.57 470.69" y="1011.74" transform="scale(0.9,1)" font-family='"Liberation Sans", sans-serif' font-size="16.4" fill="#000">65.0</text>
<text x="433.33 442.83 451.71 461.83" y="1014.35" transform="scale(0.9,1)" font-family='"Liberation Sans", sans-serif' font-size="16.4" fill="#000">66.0</text>
<text x="432.28 441.78 450.66 460.78" y="1017.66" transform="scale(0.9,1)" font-family='"Liberation Sans", sans-serif' font-size="16.4" fill="#000">67.0</text>
<text x="428.52 438.1 446.9 457.02" y="1030.11" transform="scale(0.9,1)" font-family='"Liberation Sans", sans-serif' font-size="16.4" fill="#000">68.0</text>
<text x="443.38 452.88 461.76 471.88" y="1016.01" transform="scale(0.9,1)" font-family='"Liberation Sans", sans-serif' font-size="16.4" fill="#000">69.0</text>
<text x="441.22 450.72 459.6 469.72" y="1020.24" transform="scale(0.9,1)" font-family='"Liberation Sans", sans-serif' font-size="16.4" fill="#000">70.0</text>
<text x="435.56 453.95 464.06" y="1027.19" transform="scale(0.9,1)" font-family='"Liberation Sans", sans-serif' font-size="16.4" fill="#000">7.0</text>
<path d="M402.31 1018.99 L405.02 1015.88 L405.02 1027.19" fill="none" stroke="#000" stroke-width="1.31" stroke-linejoin="round"/>
<text x="437.59 447.09 455.97 466.09" y="1016.37" transform="scale(0.9,1)" font-family='"Liberation Sans", sans-serif' font-size="16.4" fill="#000">72.0</text>
<text x="440.91 450.49 459.29 469.41" y="1028.08" transform="scale(0.9,1)" font-family='"Liberation Sans", sans-serif' font-size="16.4" fill="#000">73.0</text>
<text x="431.38 440.96 449.76 459.88" y="1034.04" transform="scale(0.9,1)" font-family='"Liberation Sans", sans-serif' font-size="16.4" fill="#000">74.0</text>
<text x="429.63 439.21 448.01 458.13" y="1024.65" transform="scale(0.9,1)" font-family='"Liberation Sans", sans-serif' font-size="16.4" fill="#000">75.0</text>
<text x="440.9 450.4 459.28 469.4" y="1022.95" transform="scale(0.9,1)" font-family='"Liberation Sans", sans-serif' font-size="16.4" fill="#000">76.0</text>
<text x="455.49 464.99 473.87 483.99" y="986.9" transform="scale(0.9,1)" font-family='"Liberation Sans", sans-serif' font-size="16.4" fill="#000">60.0</text>
<text x="461.27 470.85 479.65 489.77" y="987.5" transform="scale(0.9,1)" font-family='"Liberation Sans", sans-serif' font-size="16.4" fill="#000">65.0</text>
<text x="401.35 419.65 429.77" y="1006.5" transform="scale(0.9,1)" font-family='"Liberation Sans", sans-serif' font-size="16.4" fill="#000">4.0</text>
<path d="M371.45 998.3 L374.15 995.18 L374.15 1006.5" fill="none" stroke="#000" stroke-width="1.31" stroke-linejoin="round"/>
<text x="406.91 416.32 425.21 435.32" y="1016.5" transform="scale(0.9,1)" font-family='"Liberation Sans", sans-serif' font-size="16.4" fill="#000">56.0</text>
<text x="406.35 424.65 434.77" y="1025.5" transform="scale(0.9,1)" font-family='"Liberation Sans", sans-serif' font-size="16.4" fill="#000">5.0</text>
<path d="M375.95 1017.3 L378.65 1014.18 L378.65 1025.5" fill="none" stroke="#000" stroke-width="1.31" stroke-linejoin="round"/>
<text x="406.91 416.41 425.21 435.32" y="1035" transform="scale(0.9,1)" font-family='"Liberation Sans", sans-serif' font-size="16.4" fill="#000">53.0</text>
<text x="444.13 453.63 462.43 472.55" y="1046.1" transform="scale(0.9,1)" font-family='"Liberation Sans", sans-serif' font-size="16.4" fill="#000">84.0</text>
<text x="473.49 482.99 491.87 501.99" y="1005.1" transform="scale(0.9,1)" font-family='"Liberation Sans", sans-serif' font-size="16.4" fill="#000">70.0</text>
<text x="453.49 462.99 471.87 481.99" y="1036.5" transform="scale(0.9,1)" font-family='"Liberation Sans", sans-serif' font-size="16.4" fill="#000">62.0</text>
<text x="427.94 437.44 446.32 456.44" y="997.5" transform="scale(0.9,1)" font-family='"Liberation Sans", sans-serif' font-size="16.4" fill="#000">67.0</text>
<text x="437.94 447.44 456.32 466.44" y="998.5" transform="scale(0.9,1)" font-family='"Liberation Sans", sans-serif' font-size="16.4" fill="#000">76.0</text>
<text x="448.02 457.52 466.32 476.44" y="999.5" transform="scale(0.9,1)" font-family='"Liberation Sans", sans-serif' font-size="16.4" fill="#000">55.0</text>
<text x="441.27 450.85 459.65 469.77" y="1003.5" transform="scale(0.9,1)" font-family='"Liberation Sans", sans-serif' font-size="16.4" fill="#000">63.0</text>
<text x="432.38 441.88 450.76 460.88" y="1002.5" transform="scale(0.9,1)" font-family='"Liberation Sans", sans-serif' font-size="16.4" fill="#000">72.0</text>
<text x="371.87 381.99" y="1103.4" transform="scale(0.9,1)" font-family='"Liberation Sans", sans-serif' font-size="16.4" fill="#000">.0</text>
<path d="M328.44 1095.2 L331.15 1092.08 L331.15 1103.4" fill="none" stroke="#000" stroke-width="1.31" stroke-linejoin="round"/>
<text x="370.53 379.41 389.53" y="1097.56" transform="scale(0.9,1)" font-family='"Liberation Sans", sans-serif' font-size="16.4" fill="#000">2.0</text>
<text x="374.1 382.9 393.02" y="1101.79" transform="scale(0.9,1)" font-family='"Liberation Sans", sans-serif' font-size="16.4" fill="#000">3.0</text>
<text x="370.6 379.39 389.51" y="1093.9" transform="scale(0.9,1)" font-family='"Liberation Sans", sans-serif' font-size="16.4" fill="#000">4.0</text>
<text x="361.22 370.02 380.14" y="1099.41" transform="scale(0.9,1)" font-family='"Liberation Sans", sans-serif' font-size="16.4" fill="#000">5.0</text>
<text x="379.44 388.32 398.44" y="1094.3" transform="scale(0.9,1)" font-family='"Liberation Sans", sans-serif' font-size="16.4" fill="#000">6.0</text>
<text x="380.34 389.22 399.34" y="1093.18" transform="scale(0.9,1)" font-family='"Liberation Sans", sans-serif' font-size="16.4" fill="#000">7.0</text>
<text x="363.49 372.29 382.41" y="1094.56" transform="scale(0.9,1)" font-family='"Liberation Sans", sans-serif' font-size="16.4" fill="#000">8.0</text>
<text x="367.85 376.73 386.85" y="1101.14" transform="scale(0.9,1)" font-family='"Liberation Sans", sans-serif' font-size="16.4" fill="#000">9.0</text>
<text x="383.13 392.01 402.13" y="1100.32" transform="scale(0.9,1)" font-family='"Liberation Sans", sans-serif' font-size="16.4" fill="#000">0.0</text>
<path d="M338.02 1092.12 L340.73 1089 L340.73 1100.32" fill="none" stroke="#000" stroke-width="1.31" stroke-linejoin="round"/>
<text x="390.89 401.01" y="1096.25" transform="scale(0.9,1)" font-family='"Liberation Sans", sans-serif' font-size="16.4" fill="#000">.0</text>
<path d="M337.02 1088.05 L339.72 1084.93 L339.72 1096.25M345.57 1088.05 L348.27 1084.93 L348.27 1096.25" fill="none" stroke="#000" stroke-width="1.31" stroke-linejoin="round"/>
<text x="379.74 388.62 398.74" y="1093.16" transform="scale(0.9,1)" font-family='"Liberation Sans", sans-serif' font-size="16.4" fill="#000">2.0</text>
<path d="M334.97 1084.96 L337.68 1081.85 L337.68 1093.16" fill="none" stroke="#000" stroke-width="1.31" stroke-linejoin="round"/>
<text x="380.41 389.21 399.33" y="1099.02" transform="scale(0.9,1)" font-family='"Liberation Sans", sans-serif' font-size="16.4" fill="#000">3.0</text>
<path d="M335.5 1090.82 L338.21 1087.71 L338.21 1099.02" fill="none" stroke="#000" stroke-width="1.31" stroke-linejoin="round"/>
<text x="374.38 383.18 393.3" y="1093.71" transform="scale(0.9,1)" font-family='"Liberation Sans", sans-serif' font-size="16.4" fill="#000">4.0</text>
<path d="M330.08 1085.51 L332.78 1082.39 L332.78 1093.71" fill="none" stroke="#000" stroke-width="1.31" stroke-linejoin="round"/>
<text x="375.9 384.7 394.82" y="1093.42" transform="scale(0.9,1)" font-family='"Liberation Sans", sans-serif' font-size="16.4" fill="#000">5.0</text>
<path d="M331.44 1085.22 L334.15 1082.11 L334.15 1093.42" fill="none" stroke="#000" stroke-width="1.31" stroke-linejoin="round"/>
<text x="372.84 381.72 391.84" y="1102.42" transform="scale(0.9,1)" font-family='"Liberation Sans", sans-serif' font-size="16.4" fill="#000">6.0</text>
<path d="M328.76 1094.22 L331.47 1091.11 L331.47 1102.42" fill="none" stroke="#000" stroke-width="1.31" stroke-linejoin="round"/>
<text x="382.6 391.49 401.6" y="1098.62" transform="scale(0.9,1)" font-family='"Liberation Sans", sans-serif' font-size="16.4" fill="#000">7.0</text>
<path d="M337.55 1090.42 L340.26 1087.31 L340.26 1098.62" fill="none" stroke="#000" stroke-width="1.31" stroke-linejoin="round"/>
<text x="379.82 388.62 398.74" y="1096.59" transform="scale(0.9,1)" font-family='"Liberation Sans", sans-serif' font-size="16.4" fill="#000">8.0</text>
<path d="M334.97 1088.39 L337.67 1085.28 L337.67 1096.59" fill="none" stroke="#000" stroke-width="1.31" stroke-linejoin="round"/>
<text x="385.3 394.18 404.3" y="1100.31" transform="scale(0.9,1)" font-family='"Liberation Sans", sans-serif' font-size="16.4" fill="#000">9.0</text>
<path d="M339.97 1092.11 L342.68 1088.99 L342.68 1100.31" fill="none" stroke="#000" stroke-width="1.31" stroke-linejoin="round"/>
<text x="373.52 383.02 391.9 402.02" y="1092.46" transform="scale(0.9,1)" font-family='"Liberation Sans", sans-serif' font-size="16.4" fill="#000">20.0</text>
<text x="366.26 384.64 394.76" y="1102.97" transform="scale(0.9,1)" font-family='"Liberation Sans", sans-serif' font-size="16.4" fill="#000">2.0</text>
<path d="M339.94 1094.77 L342.65 1091.65 L342.65 1102.97" fill="none" stroke="#000" stroke-width="1.31" stroke-linejoin="round"/>
<text x="374.75 384.25 393.13 403.25" y="1095.57" transform="scale(0.9,1)" font-family='"Liberation Sans", sans-serif' font-size="16.4" fill="#000">22.0</text>
<text x="380.84 390.42 399.22 409.34" y="1092.8" transform="scale(0.9,1)" font-family='"Liberation Sans", sans-serif' font-size="16.4" fill="#000">23.0</text>
<text x="367.92 377.5 386.3 396.42" y="1094.4" transform="scale(0.9,1)" font-family='"Liberation Sans", sans-serif' font-size="16.4" fill="#000">24.0</text>
<text x="330.24 339.04 349.16" y="1075.8" transform="scale(0.9,1)" font-family='"Liberation Sans", sans-serif' font-size="16.4" fill="#000">4.0</text>
<text x="363.02 372.44 381.32 391.44" y="1071.2" transform="scale(0.9,1)" font-family='"Liberation Sans", sans-serif' font-size="16.4" fill="#000">30.0</text>
<text x="384.1 392.98 403.1" y="1066.5" transform="scale(0.9,1)" font-family='"Liberation Sans", sans-serif' font-size="16.4" fill="#000">9.0</text>
<path d="M338.9 1058.3 L341.6 1055.18 L341.6 1066.5" fill="none" stroke="#000" stroke-width="1.31" stroke-linejoin="round"/>
<text x="329.05 337.93 348.05" y="1089.5" transform="scale(0.9,1)" font-family='"Liberation Sans", sans-serif' font-size="16.4" fill="#000">6.0</text>
<text x="329.05 337.93 348.05" y="1100.8" transform="scale(0.9,1)" font-family='"Liberation Sans", sans-serif' font-size="16.4" fill="#000">2.0</text>
<text x="431.26 441.38" y="1092.8" transform="scale(0.9,1)" font-family='"Liberation Sans", sans-serif' font-size="16.4" fill="#000">.0</text>
<path d="M381.9 1084.6 L384.6 1081.48 L384.6 1092.8" fill="none" stroke="#000" stroke-width="1.31" stroke-linejoin="round"/>
<text x="407.46 416.96 425.76 435.88" y="1105.5" transform="scale(0.9,1)" font-family='"Liberation Sans", sans-serif' font-size="16.4" fill="#000">38.0</text>
<text x="387.16 396.04 406.16" y="1121.3" transform="scale(0.9,1)" font-family='"Liberation Sans", sans-serif' font-size="16.4" fill="#000">7.0</text>
<text x="419.74 428.54 438.66" y="1119" transform="scale(0.9,1)" font-family='"Liberation Sans", sans-serif' font-size="16.4" fill="#000">8.0</text>
<path d="M370.9 1110.8 L373.6 1107.68 L373.6 1119" fill="none" stroke="#000" stroke-width="1.31" stroke-linejoin="round"/>
<text x="414.1 422.98 433.1" y="1135" transform="scale(0.9,1)" font-family='"Liberation Sans", sans-serif' font-size="16.4" fill="#000">2.0</text>
<path d="M365.9 1126.8 L368.6 1123.68 L368.6 1135" fill="none" stroke="#000" stroke-width="1.31" stroke-linejoin="round"/>
<text x="358.63 367.43 377.55" y="1114.5" transform="scale(0.9,1)" font-family='"Liberation Sans", sans-serif' font-size="16.4" fill="#000">3.0</text>
<path d="M315.9 1106.3 L318.6 1103.18 L318.6 1114.5" fill="none" stroke="#000" stroke-width="1.31" stroke-linejoin="round"/>
<text x="358.02 367.44 376.32 386.44" y="1114.5" transform="scale(0.9,1)" font-family='"Liberation Sans", sans-serif' font-size="16.4" fill="#000">36.0</text>
<text x="374.6 384.1 392.98 403.1" y="1114.5" transform="scale(0.9,1)" font-family='"Liberation Sans", sans-serif' font-size="16.4" fill="#000">20.0</text>
<text x="346.8 356.21 365.09 375.21" y="1098.5" transform="scale(0.9,1)" font-family='"Liberation Sans", sans-serif' font-size="16.4" fill="#000">32.0</text>
<text x="355.49 373.87 383.99" y="1113.3" transform="scale(0.9,1)" font-family='"Liberation Sans", sans-serif' font-size="16.4" fill="#000">2.0</text>
<path d="M330.25 1105.1 L332.95 1101.98 L332.95 1113.3" fill="none" stroke="#000" stroke-width="1.31" stroke-linejoin="round"/>
<text x="401.13 410.63 419.43 429.55" y="1117.9" transform="scale(0.9,1)" font-family='"Liberation Sans", sans-serif' font-size="16.4" fill="#000">33.0</text>
<text x="362.46 371.26 381.38" y="1084" transform="scale(0.9,1)" font-family='"Liberation Sans", sans-serif' font-size="16.4" fill="#000">5.0</text>
<text x="382.38 391.88 400.76 410.88" y="1084.5" transform="scale(0.9,1)" font-family='"Liberation Sans", sans-serif' font-size="16.4" fill="#000">27.0</text>
<text x="393.57 402.99 411.87 421.99" y="1087.5" transform="scale(0.9,1)" font-family='"Liberation Sans", sans-serif' font-size="16.4" fill="#000">37.0</text>
<text x="414.1 422.98 433.1" y="1086.5" transform="scale(0.9,1)" font-family='"Liberation Sans", sans-serif' font-size="16.4" fill="#000">0.0</text>
<path d="M365.9 1078.3 L368.6 1075.18 L368.6 1086.5" fill="none" stroke="#000" stroke-width="1.31" stroke-linejoin="round"/>
<text x="386.32 395.21 405.32" y="1091.5" transform="scale(0.9,1)" font-family='"Liberation Sans", sans-serif' font-size="16.4" fill="#000">7.0</text>
<path d="M340.9 1083.3 L343.6 1080.18 L343.6 1091.5" fill="none" stroke="#000" stroke-width="1.31" stroke-linejoin="round"/>
<text x="396.82 406.32 415.21 425.32" y="1095.5" transform="scale(0.9,1)" font-family='"Liberation Sans", sans-serif' font-size="16.4" fill="#000">26.0</text>
</g>
<rect x="176.5" y="767.6" width="494.8" height="496.9" fill="none" stroke="#000" stroke-width="1.4"/>
<line x1="225.59" y1="1264.5" x2="225.59" y2="1270.55" stroke="#000" stroke-width="1.4"/>
<text x="246.31 256.14" y="1289.1" transform="scale(0.88,1)" font-family='"Liberation Sans", sans-serif' font-size="16.8" fill="#000">−4</text>
<line x1="170.45" y1="1214.6" x2="176.5" y2="1214.6" stroke="#000" stroke-width="1.4"/>
<text x="166.15 175.98" y="1220.8" transform="scale(0.88,1)" font-family='"Liberation Sans", sans-serif' font-size="16.8" fill="#000">−4</text>
<line x1="324.57" y1="1264.5" x2="324.57" y2="1270.55" stroke="#000" stroke-width="1.4"/>
<text x="358.79 368.53" y="1289.1" transform="scale(0.88,1)" font-family='"Liberation Sans", sans-serif' font-size="16.8" fill="#000">−2</text>
<line x1="170.45" y1="1115.2" x2="176.5" y2="1115.2" stroke="#000" stroke-width="1.4"/>
<text x="166.15 175.89" y="1121.4" transform="scale(0.88,1)" font-family='"Liberation Sans", sans-serif' font-size="16.8" fill="#000">−2</text>
<line x1="423.55" y1="1264.5" x2="423.55" y2="1270.55" stroke="#000" stroke-width="1.4"/>
<text x="476.26" y="1289.1" transform="scale(0.88,1)" font-family='"Liberation Sans", sans-serif' font-size="16.8" fill="#000">0</text>
<line x1="170.45" y1="1015.8" x2="176.5" y2="1015.8" stroke="#000" stroke-width="1.4"/>
<text x="175.89" y="1022" transform="scale(0.88,1)" font-family='"Liberation Sans", sans-serif' font-size="16.8" fill="#000">0</text>
<line x1="522.53" y1="1264.5" x2="522.53" y2="1270.55" stroke="#000" stroke-width="1.4"/>
<text x="588.74" y="1289.1" transform="scale(0.88,1)" font-family='"Liberation Sans", sans-serif' font-size="16.8" fill="#000">2</text>
<line x1="170.45" y1="916.4" x2="176.5" y2="916.4" stroke="#000" stroke-width="1.4"/>
<text x="175.89" y="922.6" transform="scale(0.88,1)" font-family='"Liberation Sans", sans-serif' font-size="16.8" fill="#000">2</text>
<line x1="621.51" y1="1264.5" x2="621.51" y2="1270.55" stroke="#000" stroke-width="1.4"/>
<text x="701.3" y="1289.1" transform="scale(0.88,1)" font-family='"Liberation Sans", sans-serif' font-size="16.8" fill="#000">4</text>
<line x1="170.45" y1="817" x2="176.5" y2="817" stroke="#000" stroke-width="1.4"/>
<text x="175.98" y="823.2" transform="scale(0.88,1)" font-family='"Liberation Sans", sans-serif' font-size="16.8" fill="#000">4</text>
<text x="355.57 382.83 394.38 432.44 451.05 460.46 497.13 515.74 525.15 576.36 591.55 602.56 615.71" y="756.3" transform="scale(0.8,1)" font-family='"Liberation Sans", sans-serif' font-size="21.4" fill="#000">.8.DieDieark3</text>
<text x="721.69" y="756.3" transform="scale(0.624,1)" font-family='"Liberation Sans", sans-serif' font-size="21.4" fill="#000">M</text>
<path d="M266.47 745.6 L270 741.53 L270 756.3M276.82 745.6 L280.35 741.53 L280.35 756.3M297.52 745.6 L301.05 741.53 L301.05 756.3M328.57 745.6 L332.1 741.53 L332.1 756.3M380.32 745.6 L383.85 741.53 L383.85 756.3M432.07 745.6 L435.6 741.53 L435.6 756.3" fill="none" stroke="#000" stroke-width="1.71" stroke-linejoin="round"/>
<line x1="336" y1="748.4" x2="346.6" y2="748.4" stroke="#000" stroke-width="1.5"/>
<text x="514.3" y="756.3" transform="scale(1,1)" font-family='"Liberation Sans", sans-serif' font-size="21.4" fill="#000">3</text>
<text x="526.9" y="756.3" transform="scale(1,1)" font-family='"Liberation Sans", sans-serif' font-size="21.4" font-style="italic" fill="#000">σ</text>
<g transform="translate(0,596.4)" fill="none" stroke="#000" stroke-width="1.6" stroke-linecap="round" stroke-linejoin="round">
<path d="M549.1 144.1 Q546.5 148.6 543.1 152.1"/>
<path d="M553.2 143.4 Q555.2 148.2 560.0 151.1"/>
<path d="M546.3 151.6 L556.6 151.6 L556.3 159.4 Q556 160.8 552.5 160.4"/>
<path d="M549.7 152.5 Q549.2 158.6 543.8 161.3"/>
<path d="M562.2 146.6 L580.7 146.6"/>
<path d="M571.0 143.1 Q567.8 150.5 562.5 154.4"/>
<path d="M566.9 151.6 L566.9 159.4"/>
<path d="M566.9 151.6 L578.5 151.6 L578.5 158.2 Q578 159.2 575.4 158.8"/>
<path d="M572.4 148.1 L572.4 161.3"/>
</g>
<rect x="523.65" y="775.5" width="138.7" height="158" rx="3.5" ry="3.5" fill="#fff" fill-opacity="0.8" stroke="#cccccc" stroke-opacity="0.8" stroke-width="1.73"/>
<line x1="530.75" y1="791.6" x2="565.35" y2="791.6" stroke="#ff0000" stroke-width="2.59" stroke-linecap="square"/>
<line x1="530.75" y1="816.8" x2="565.35" y2="816.8" stroke="#0000ff" stroke-width="2.59" stroke-linecap="square"/>
<line x1="530.75" y1="841.6" x2="565.35" y2="841.6" stroke="#008000" stroke-width="2.59" stroke-linecap="square"/>
<path d="M530.75 872.4 L565.35 872.4 L565.35 861.2 L530.75 861.2 Z" fill="none" stroke="#a52a2a" stroke-width="2.59"/>
<path d="M530.75 898.4 L565.35 898.4 L565.35 887.2 L530.75 887.2 Z" fill="none" stroke="#ff00ff" stroke-width="3.46" stroke-dasharray="12.79 5.53"/>
<path d="M530.75 924.15 L565.35 924.15 L565.35 912.95 L530.75 912.95 Z" fill="none" stroke="#ffa500" stroke-width="3.46" stroke-dasharray="22.13 5.53 3.46 5.53"/>
<text x="580.65" y="797.1" transform="scale(1,1)" font-family='"Liberation Sans", sans-serif' font-size="18" fill="#000">3</text>
<text x="591.65" y="797.1" transform="scale(1,1)" font-family='"Liberation Sans", sans-serif' font-size="18" font-style="italic" fill="#000">σ</text>
<text x="687.71" y="797.1" transform="scale(0.9,1)" font-family='"Liberation Sans", sans-serif' font-size="17" fill="#000">u</text>
<text x="849.19" y="797.1" transform="scale(0.738,1)" font-family='"Liberation Sans", sans-serif' font-size="17" fill="#000">m</text>
<path d="M612.01 788.6 L614.82 785.37 L614.82 797.1" fill="none" stroke="#000" stroke-width="1.36" stroke-linejoin="round"/>
<text x="580.65" y="822.3" transform="scale(1,1)" font-family='"Liberation Sans", sans-serif' font-size="18" fill="#000">2</text>
<text x="591.65" y="822.3" transform="scale(1,1)" font-family='"Liberation Sans", sans-serif' font-size="18" font-style="italic" fill="#000">σ</text>
<text x="677.99 687.07 697.52 707.16" y="822.3" transform="scale(0.9,1)" font-family='"Liberation Sans", sans-serif' font-size="17" fill="#000">0.8u</text>
<text x="872.91" y="822.3" transform="scale(0.738,1)" font-family='"Liberation Sans", sans-serif' font-size="17" fill="#000">m</text>
<text x="580.65" y="847.1" transform="scale(1,1)" font-family='"Liberation Sans", sans-serif' font-size="18" fill="#000">1</text>
<text x="591.65" y="847.1" transform="scale(1,1)" font-family='"Liberation Sans", sans-serif' font-size="18" font-style="italic" fill="#000">σ</text>
<text x="677.99 687.07 697.52 707.16" y="847.1" transform="scale(0.9,1)" font-family='"Liberation Sans", sans-serif' font-size="17" fill="#000">0.5u</text>
<text x="872.91" y="847.1" transform="scale(0.738,1)" font-family='"Liberation Sans", sans-serif' font-size="17" fill="#000">m</text>
<text x="580.65" y="872.3" transform="scale(1,1)" font-family='"Liberation Sans", sans-serif' font-size="18" fill="#000">1</text>
<text x="591.65" y="872.3" transform="scale(1,1)" font-family='"Liberation Sans", sans-serif' font-size="18" font-style="italic" fill="#000">σ</text>
<text x="580.65" y="898.3" transform="scale(1,1)" font-family='"Liberation Sans", sans-serif' font-size="18" fill="#000">2</text>
<text x="591.65" y="898.3" transform="scale(1,1)" font-family='"Liberation Sans", sans-serif' font-size="18" font-style="italic" fill="#000">σ</text>
<text x="580.65" y="924.05" transform="scale(1,1)" font-family='"Liberation Sans", sans-serif' font-size="18" fill="#000">3</text>
<text x="591.65" y="924.05" transform="scale(1,1)" font-family='"Liberation Sans", sans-serif' font-size="18" font-style="italic" fill="#000">σ</text>
<g clip-path="url(#c3)">
<path d="M1027.6 1014.09 L1027.58 1013.5 L1027.52 1012.91 L1027.42 1012.32 L1027.27 1011.74 L1027.07 1011.15 L1026.83 1010.57 L1026.55 1010 L1026.22 1009.42 L1025.84 1008.85 L1025.42 1008.29 L1024.96 1007.73 L1024.46 1007.19 L1023.92 1006.64 L1023.33 1006.11 L1022.7 1005.59 L1022.04 1005.07 L1021.33 1004.57 L1020.59 1004.07 L1019.81 1003.59 L1018.99 1003.12 L1018.14 1002.66 L1017.26 1002.22 L1016.34 1001.79 L1015.39 1001.37 L1014.4 1000.97 L1013.39 1000.59 L1012.35 1000.22 L1011.29 999.86 L1010.19 999.52 L1009.08 999.2 L1007.94 998.9 L1006.77 998.62 L1005.59 998.35 L1004.39 998.1 L1003.17 997.87 L1001.94 997.66 L1000.69 997.47 L999.43 997.3 L998.15 997.14 L996.87 997.01 L995.58 996.9 L994.28 996.81 L992.98 996.73 L991.67 996.68 L990.36 996.65 L989.06 996.64 L987.75 996.65 L986.44 996.68 L985.14 996.73 L983.85 996.81 L982.56 996.9 L981.29 997.01 L980.02 997.14 L978.77 997.29 L977.52 997.47 L976.3 997.66 L975.09 997.87 L973.9 998.1 L972.73 998.35 L971.58 998.61 L970.45 998.9 L969.35 999.2 L968.27 999.52 L967.22 999.86 L966.2 1000.22 L965.21 1000.59 L964.24 1000.97 L963.31 1001.37 L962.41 1001.79 L961.55 1002.22 L960.72 1002.66 L959.92 1003.12 L959.16 1003.59 L958.44 1004.07 L957.76 1004.57 L957.12 1005.07 L956.52 1005.58 L955.95 1006.11 L955.43 1006.64 L954.96 1007.18 L954.52 1007.73 L954.13 1008.29 L953.78 1008.85 L953.48 1009.42 L953.22 1009.99 L953.01 1010.57 L952.84 1011.15 L952.71 1011.74 L952.64 1012.32 L952.6 1012.91 L952.62 1013.5 L952.68 1014.09 L952.78 1014.68 L952.93 1015.26 L953.13 1015.85 L953.37 1016.43 L953.65 1017 L953.98 1017.58 L954.36 1018.15 L954.78 1018.71 L955.24 1019.27 L955.74 1019.81 L956.28 1020.36 L956.87 1020.89 L957.5 1021.41 L958.16 1021.93 L958.87 1022.43 L959.61 1022.93 L960.39 1023.41 L961.21 1023.88 L962.06 1024.34 L962.94 1024.78 L963.86 1025.21 L964.81 1025.63 L965.8 1026.03 L966.81 1026.41 L967.85 1026.78 L968.91 1027.14 L970.01 1027.48 L971.12 1027.8 L972.26 1028.1 L973.43 1028.38 L974.61 1028.65 L975.81 1028.9 L977.03 1029.13 L978.26 1029.34 L979.51 1029.53 L980.77 1029.7 L982.05 1029.86 L983.33 1029.99 L984.62 1030.1 L985.92 1030.19 L987.22 1030.27 L988.53 1030.32 L989.84 1030.35 L991.14 1030.36 L992.45 1030.35 L993.76 1030.32 L995.06 1030.27 L996.35 1030.19 L997.64 1030.1 L998.91 1029.99 L1000.18 1029.86 L1001.43 1029.71 L1002.68 1029.53 L1003.9 1029.34 L1005.11 1029.13 L1006.3 1028.9 L1007.47 1028.65 L1008.62 1028.39 L1009.75 1028.1 L1010.85 1027.8 L1011.93 1027.48 L1012.98 1027.14 L1014 1026.78 L1014.99 1026.41 L1015.96 1026.03 L1016.89 1025.63 L1017.79 1025.21 L1018.65 1024.78 L1019.48 1024.34 L1020.28 1023.88 L1021.04 1023.41 L1021.76 1022.93 L1022.44 1022.43 L1023.08 1021.93 L1023.68 1021.42 L1024.25 1020.89 L1024.77 1020.36 L1025.24 1019.82 L1025.68 1019.27 L1026.07 1018.71 L1026.42 1018.15 L1026.72 1017.58 L1026.98 1017.01 L1027.19 1016.43 L1027.36 1015.85 L1027.49 1015.26 L1027.56 1014.68 L1027.6 1014.09Z" fill="none" stroke="#a52a2a" stroke-width="2.59"/>
<path d="M1065.09 1014.68 L1065.06 1013.5 L1064.94 1012.32 L1064.74 1011.15 L1064.43 1009.98 L1064.04 1008.81 L1063.56 1007.65 L1062.99 1006.49 L1062.33 1005.34 L1061.58 1004.21 L1060.75 1003.08 L1059.83 1001.97 L1058.82 1000.87 L1057.73 999.79 L1056.56 998.72 L1055.31 997.67 L1053.98 996.64 L1052.57 995.63 L1051.08 994.65 L1049.52 993.68 L1047.89 992.74 L1046.18 991.83 L1044.41 990.94 L1042.57 990.08 L1040.67 989.25 L1038.71 988.44 L1036.69 987.67 L1034.61 986.93 L1032.47 986.22 L1030.29 985.55 L1028.05 984.91 L1025.77 984.3 L1023.45 983.73 L1021.09 983.2 L1018.68 982.7 L1016.25 982.24 L1013.78 981.82 L1011.28 981.43 L1008.76 981.09 L1006.21 980.79 L1003.64 980.52 L1001.06 980.3 L998.47 980.11 L995.86 979.97 L993.25 979.87 L990.63 979.8 L988.01 979.78 L985.4 979.8 L982.79 979.87 L980.19 979.97 L977.6 980.11 L975.03 980.3 L972.47 980.52 L969.94 980.78 L967.43 981.09 L964.95 981.43 L962.5 981.82 L960.08 982.24 L957.7 982.7 L955.36 983.2 L953.06 983.73 L950.81 984.3 L948.6 984.91 L946.45 985.55 L944.35 986.22 L942.3 986.93 L940.31 987.67 L938.39 988.44 L936.52 989.25 L934.73 990.08 L932.99 990.94 L931.33 991.83 L929.74 992.74 L928.23 993.68 L926.78 994.64 L925.42 995.63 L924.14 996.64 L922.93 997.67 L921.81 998.72 L920.77 999.79 L919.81 1000.87 L918.94 1001.97 L918.16 1003.08 L917.46 1004.21 L916.86 1005.34 L916.34 1006.49 L915.91 1007.64 L915.58 1008.81 L915.33 1009.97 L915.17 1011.15 L915.11 1012.32 L915.14 1013.5 L915.26 1014.68 L915.46 1015.85 L915.77 1017.02 L916.16 1018.19 L916.64 1019.35 L917.21 1020.51 L917.87 1021.66 L918.62 1022.79 L919.45 1023.92 L920.37 1025.03 L921.38 1026.13 L922.47 1027.21 L923.64 1028.28 L924.89 1029.33 L926.22 1030.36 L927.63 1031.37 L929.12 1032.35 L930.68 1033.32 L932.31 1034.26 L934.02 1035.17 L935.79 1036.06 L937.63 1036.92 L939.53 1037.75 L941.49 1038.56 L943.51 1039.33 L945.59 1040.07 L947.73 1040.78 L949.91 1041.45 L952.15 1042.09 L954.43 1042.7 L956.75 1043.27 L959.11 1043.8 L961.52 1044.3 L963.95 1044.76 L966.42 1045.18 L968.92 1045.57 L971.44 1045.91 L973.99 1046.21 L976.56 1046.48 L979.14 1046.7 L981.73 1046.89 L984.34 1047.03 L986.95 1047.13 L989.57 1047.2 L992.19 1047.22 L994.8 1047.2 L997.41 1047.13 L1000.01 1047.03 L1002.6 1046.89 L1005.17 1046.7 L1007.73 1046.48 L1010.26 1046.22 L1012.77 1045.91 L1015.25 1045.57 L1017.7 1045.18 L1020.12 1044.76 L1022.5 1044.3 L1024.84 1043.8 L1027.14 1043.27 L1029.39 1042.7 L1031.6 1042.09 L1033.75 1041.45 L1035.85 1040.78 L1037.9 1040.07 L1039.89 1039.33 L1041.81 1038.56 L1043.68 1037.75 L1045.47 1036.92 L1047.21 1036.06 L1048.87 1035.17 L1050.46 1034.26 L1051.97 1033.32 L1053.42 1032.36 L1054.78 1031.37 L1056.06 1030.36 L1057.27 1029.33 L1058.39 1028.28 L1059.43 1027.21 L1060.39 1026.13 L1061.26 1025.03 L1062.04 1023.92 L1062.74 1022.79 L1063.34 1021.66 L1063.86 1020.51 L1064.29 1019.36 L1064.62 1018.19 L1064.87 1017.03 L1065.03 1015.85 L1065.09 1014.68Z" fill="none" stroke="#ff00ff" stroke-width="3.46" stroke-dasharray="12.79 5.53"/>
<path d="M1102.59 1015.27 L1102.55 1013.5 L1102.37 1011.74 L1102.05 1009.97 L1101.6 1008.22 L1101.02 1006.46 L1100.29 1004.72 L1099.44 1002.99 L1098.45 1001.27 L1097.33 999.56 L1096.07 997.87 L1094.69 996.2 L1093.18 994.56 L1091.55 992.93 L1089.79 991.33 L1087.91 989.76 L1085.91 988.21 L1083.8 986.7 L1081.57 985.22 L1079.23 983.77 L1076.78 982.36 L1074.22 980.99 L1071.57 979.66 L1068.81 978.37 L1065.96 977.12 L1063.01 975.92 L1059.98 974.76 L1056.86 973.65 L1053.66 972.59 L1050.38 971.57 L1047.03 970.61 L1043.61 969.7 L1040.12 968.85 L1036.58 968.04 L1032.97 967.3 L1029.32 966.61 L1025.62 965.98 L1021.87 965.4 L1018.08 964.89 L1014.26 964.43 L1010.41 964.03 L1006.54 963.69 L1002.65 963.42 L998.74 963.2 L994.82 963.05 L990.89 962.96 L986.97 962.93 L983.05 962.96 L979.13 963.05 L975.23 963.2 L971.35 963.42 L967.49 963.69 L963.66 964.03 L959.86 964.43 L956.1 964.88 L952.37 965.4 L948.7 965.97 L945.07 966.61 L941.5 967.3 L937.99 968.04 L934.54 968.84 L931.16 969.7 L927.86 970.61 L924.62 971.57 L921.47 972.58 L918.4 973.65 L915.42 974.76 L912.53 975.91 L909.74 977.12 L907.04 978.37 L904.44 979.66 L901.95 980.99 L899.56 982.36 L897.29 983.77 L895.13 985.22 L893.08 986.7 L891.15 988.21 L889.35 989.75 L887.66 991.33 L886.1 992.93 L884.67 994.55 L883.36 996.2 L882.19 997.87 L881.15 999.56 L880.24 1001.26 L879.46 1002.98 L878.82 1004.72 L878.31 1006.46 L877.94 1008.21 L877.71 1009.97 L877.61 1011.73 L877.65 1013.5 L877.83 1015.26 L878.15 1017.03 L878.6 1018.78 L879.18 1020.54 L879.91 1022.28 L880.76 1024.01 L881.75 1025.73 L882.87 1027.44 L884.13 1029.13 L885.51 1030.8 L887.02 1032.44 L888.65 1034.07 L890.41 1035.67 L892.29 1037.24 L894.29 1038.79 L896.4 1040.3 L898.63 1041.78 L900.97 1043.23 L903.42 1044.64 L905.98 1046.01 L908.63 1047.34 L911.39 1048.63 L914.24 1049.88 L917.19 1051.08 L920.22 1052.24 L923.34 1053.35 L926.54 1054.41 L929.82 1055.43 L933.17 1056.39 L936.59 1057.3 L940.08 1058.15 L943.62 1058.96 L947.23 1059.7 L950.88 1060.39 L954.58 1061.02 L958.33 1061.6 L962.12 1062.11 L965.94 1062.57 L969.79 1062.97 L973.66 1063.31 L977.55 1063.58 L981.46 1063.8 L985.38 1063.95 L989.31 1064.04 L993.23 1064.07 L997.15 1064.04 L1001.07 1063.95 L1004.97 1063.8 L1008.85 1063.58 L1012.71 1063.31 L1016.54 1062.97 L1020.34 1062.57 L1024.1 1062.12 L1027.83 1061.6 L1031.5 1061.03 L1035.13 1060.39 L1038.7 1059.7 L1042.21 1058.96 L1045.66 1058.16 L1049.04 1057.3 L1052.34 1056.39 L1055.58 1055.43 L1058.73 1054.42 L1061.8 1053.35 L1064.78 1052.24 L1067.67 1051.09 L1070.46 1049.88 L1073.16 1048.63 L1075.76 1047.34 L1078.25 1046.01 L1080.64 1044.64 L1082.91 1043.23 L1085.07 1041.78 L1087.12 1040.3 L1089.05 1038.79 L1090.85 1037.25 L1092.54 1035.67 L1094.1 1034.07 L1095.53 1032.45 L1096.84 1030.8 L1098.01 1029.13 L1099.05 1027.44 L1099.96 1025.74 L1100.74 1024.02 L1101.38 1022.28 L1101.89 1020.54 L1102.26 1018.79 L1102.49 1017.03 L1102.59 1015.27Z" fill="none" stroke="#ffa500" stroke-width="3.46" stroke-dasharray="22.13 5.53 3.46 5.53"/>
<circle cx="1128.4" cy="966.3" r="2.45" fill="#1f77b4"/>
<circle cx="1016.04" cy="1031.17" r="2.45" fill="#1f77b4"/>
<circle cx="1017.95" cy="1019.49" r="2.45" fill="#1f77b4"/>
<circle cx="1018.66" cy="1024.94" r="2.45" fill="#1f77b4"/>
<circle cx="1021.26" cy="1016.96" r="2.45" fill="#1f77b4"/>
<circle cx="1021.27" cy="1026.69" r="2.45" fill="#1f77b4"/>
<circle cx="1011.84" cy="1029.3" r="2.45" fill="#1f77b4"/>
<circle cx="1022.34" cy="1029.07" r="2.45" fill="#1f77b4"/>
<circle cx="1012.33" cy="1029.9" r="2.45" fill="#1f77b4"/>
<circle cx="1020.35" cy="1019.67" r="2.45" fill="#1f77b4"/>
<circle cx="1018.47" cy="1029.5" r="2.45" fill="#1f77b4"/>
<circle cx="1021.79" cy="1026.66" r="2.45" fill="#1f77b4"/>
<circle cx="1015.57" cy="1019.91" r="2.45" fill="#1f77b4"/>
<circle cx="1012.16" cy="1028.1" r="2.45" fill="#1f77b4"/>
<circle cx="1016.48" cy="1028.35" r="2.45" fill="#1f77b4"/>
<circle cx="1019.23" cy="1015.77" r="2.45" fill="#1f77b4"/>
<circle cx="1013.1" cy="1025.67" r="2.45" fill="#1f77b4"/>
<circle cx="1012.09" cy="1029.47" r="2.45" fill="#1f77b4"/>
<circle cx="1019.52" cy="1019.89" r="2.45" fill="#1f77b4"/>
<circle cx="1022.9" cy="1021.66" r="2.45" fill="#1f77b4"/>
<circle cx="1020.01" cy="1020.98" r="2.45" fill="#1f77b4"/>
<circle cx="1023.44" cy="1027.17" r="2.45" fill="#1f77b4"/>
<circle cx="1015.45" cy="1030" r="2.45" fill="#1f77b4"/>
<circle cx="1017.44" cy="1025.85" r="2.45" fill="#1f77b4"/>
<circle cx="1013.94" cy="1017.51" r="2.45" fill="#1f77b4"/>
<circle cx="1020.48" cy="1024.55" r="2.45" fill="#1f77b4"/>
<circle cx="1012.61" cy="1026.93" r="2.45" fill="#1f77b4"/>
<circle cx="1014.16" cy="1026.81" r="2.45" fill="#1f77b4"/>
<circle cx="1015" cy="1030.13" r="2.45" fill="#1f77b4"/>
<circle cx="1023.26" cy="1031.25" r="2.45" fill="#1f77b4"/>
<circle cx="1017.57" cy="1017.04" r="2.45" fill="#1f77b4"/>
<circle cx="1020.56" cy="1022.72" r="2.45" fill="#1f77b4"/>
<circle cx="1017.65" cy="1032.05" r="2.45" fill="#1f77b4"/>
<circle cx="1015.2" cy="968" r="2.45" fill="#1f77b4"/>
<circle cx="1025" cy="983" r="2.45" fill="#1f77b4"/>
<circle cx="1039" cy="997.8" r="2.45" fill="#1f77b4"/>
<circle cx="1039" cy="1009.8" r="2.45" fill="#1f77b4"/>
<circle cx="1013.5" cy="1050.5" r="2.45" fill="#1f77b4"/>
<circle cx="993" cy="1032" r="2.45" fill="#1f77b4"/>
<circle cx="988" cy="1035.4" r="2.45" fill="#1f77b4"/>
<circle cx="993" cy="1040.5" r="2.45" fill="#1f77b4"/>
<circle cx="1008.4" cy="1016.6" r="2.45" fill="#1f77b4"/>
<circle cx="1022" cy="1004.7" r="2.45" fill="#1f77b4"/>
<circle cx="1034" cy="1000" r="2.45" fill="#1f77b4"/>
<circle cx="962.46" cy="998.39" r="2.45" fill="#1f77b4"/>
<circle cx="962.13" cy="993.38" r="2.45" fill="#1f77b4"/>
<circle cx="958.42" cy="1003.76" r="2.45" fill="#1f77b4"/>
<circle cx="951.03" cy="1006" r="2.45" fill="#1f77b4"/>
<circle cx="952.12" cy="992.96" r="2.45" fill="#1f77b4"/>
<circle cx="964.15" cy="995.92" r="2.45" fill="#1f77b4"/>
<circle cx="966.96" cy="996.29" r="2.45" fill="#1f77b4"/>
<circle cx="963.52" cy="1006.54" r="2.45" fill="#1f77b4"/>
<circle cx="960.81" cy="1004.29" r="2.45" fill="#1f77b4"/>
<circle cx="963.17" cy="1003.35" r="2.45" fill="#1f77b4"/>
<circle cx="963.51" cy="999.74" r="2.45" fill="#1f77b4"/>
<circle cx="951.5" cy="999.83" r="2.45" fill="#1f77b4"/>
<circle cx="960.68" cy="998.85" r="2.45" fill="#1f77b4"/>
<circle cx="956.4" cy="1004.9" r="2.45" fill="#1f77b4"/>
<circle cx="952.99" cy="1000.5" r="2.45" fill="#1f77b4"/>
<circle cx="966.84" cy="1005.83" r="2.45" fill="#1f77b4"/>
<circle cx="965.31" cy="993.76" r="2.45" fill="#1f77b4"/>
<circle cx="955.59" cy="1012.74" r="2.45" fill="#1f77b4"/>
<circle cx="965.08" cy="1003.13" r="2.45" fill="#1f77b4"/>
<circle cx="965.55" cy="998.93" r="2.45" fill="#1f77b4"/>
<circle cx="959.98" cy="1012.64" r="2.45" fill="#1f77b4"/>
<circle cx="957.99" cy="1007.76" r="2.45" fill="#1f77b4"/>
<circle cx="952.19" cy="1006.09" r="2.45" fill="#1f77b4"/>
<circle cx="963.87" cy="1001.46" r="2.45" fill="#1f77b4"/>
<circle cx="964.79" cy="1009.77" r="2.45" fill="#1f77b4"/>
<circle cx="949.87" cy="1002.42" r="2.45" fill="#1f77b4"/>
<circle cx="954.43" cy="1001.81" r="2.45" fill="#1f77b4"/>
<circle cx="960.52" cy="998.3" r="2.45" fill="#1f77b4"/>
<circle cx="952" cy="979.5" r="2.45" fill="#1f77b4"/>
<circle cx="943.5" cy="990" r="2.45" fill="#1f77b4"/>
<circle cx="938" cy="999.5" r="2.45" fill="#1f77b4"/>
<circle cx="932.3" cy="1009.8" r="2.45" fill="#1f77b4"/>
<circle cx="938" cy="1021.7" r="2.45" fill="#1f77b4"/>
<circle cx="929" cy="1035.4" r="2.45" fill="#1f77b4"/>
<circle cx="929.8" cy="1045.5" r="2.45" fill="#1f77b4"/>
<circle cx="938" cy="1028" r="2.45" fill="#1f77b4"/>
<circle cx="950" cy="1028" r="2.45" fill="#1f77b4"/>
<circle cx="994" cy="1011.7" r="2.45" fill="#1f77b4"/>
<circle cx="977.5" cy="1002.3" r="2.45" fill="#1f77b4"/>
<circle cx="986" cy="985.5" r="2.45" fill="#1f77b4"/>
<circle cx="980" cy="987" r="2.45" fill="#1f77b4"/>
<circle cx="955" cy="1030" r="2.45" fill="#1f77b4"/>
<circle cx="934.9" cy="999.5" r="2.45" fill="#1f77b4"/>
<circle cx="930.6" cy="1012.4" r="2.45" fill="#1f77b4"/>
<circle cx="936.6" cy="1026" r="2.45" fill="#1f77b4"/>
<line x1="770.4" y1="1015.3" x2="1264.6" y2="1015.3" stroke="#808080" stroke-width="1.8"/>
<line x1="1017.05" y1="767.6" x2="1017.05" y2="1264.5" stroke="#808080" stroke-width="1.8"/>
<path d="M1066.55 1015.3 L1066.52 1013.57 L1066.43 1011.85 L1066.28 1010.13 L1066.07 1008.41 L1065.8 1006.7 L1065.47 1005.01 L1065.08 1003.32 L1064.63 1001.66 L1064.13 1000 L1063.56 998.37 L1062.95 996.76 L1062.27 995.17 L1061.54 993.6 L1060.76 992.06 L1059.92 990.55 L1059.03 989.07 L1058.09 987.62 L1057.1 986.2 L1056.06 984.82 L1054.97 983.48 L1053.84 982.18 L1052.66 980.91 L1051.44 979.69 L1050.17 978.51 L1048.87 977.38 L1047.53 976.29 L1046.15 975.25 L1044.73 974.26 L1043.28 973.32 L1041.8 972.43 L1040.29 971.59 L1038.75 970.81 L1037.18 970.08 L1035.59 969.4 L1033.98 968.79 L1032.35 968.22 L1030.69 967.72 L1029.03 967.27 L1027.34 966.88 L1025.65 966.55 L1023.94 966.28 L1022.22 966.07 L1020.5 965.92 L1018.78 965.83 L1017.05 965.8 L1015.32 965.83 L1013.6 965.92 L1011.88 966.07 L1010.16 966.28 L1008.45 966.55 L1006.76 966.88 L1005.07 967.27 L1003.41 967.72 L1001.75 968.22 L1000.12 968.79 L998.51 969.4 L996.92 970.08 L995.35 970.81 L993.81 971.59 L992.3 972.43 L990.82 973.32 L989.37 974.26 L987.95 975.25 L986.57 976.29 L985.23 977.38 L983.93 978.51 L982.66 979.69 L981.44 980.91 L980.26 982.18 L979.13 983.48 L978.04 984.82 L977 986.2 L976.01 987.62 L975.07 989.07 L974.18 990.55 L973.34 992.06 L972.56 993.6 L971.83 995.17 L971.15 996.76 L970.54 998.37 L969.97 1000 L969.47 1001.66 L969.02 1003.32 L968.63 1005.01 L968.3 1006.7 L968.03 1008.41 L967.82 1010.13 L967.67 1011.85 L967.58 1013.57 L967.55 1015.3 L967.58 1017.03 L967.67 1018.75 L967.82 1020.47 L968.03 1022.19 L968.3 1023.9 L968.63 1025.59 L969.02 1027.28 L969.47 1028.94 L969.97 1030.6 L970.54 1032.23 L971.15 1033.84 L971.83 1035.43 L972.56 1037 L973.34 1038.54 L974.18 1040.05 L975.07 1041.53 L976.01 1042.98 L977 1044.4 L978.04 1045.78 L979.13 1047.12 L980.26 1048.42 L981.44 1049.69 L982.66 1050.91 L983.93 1052.09 L985.23 1053.22 L986.57 1054.31 L987.95 1055.35 L989.37 1056.34 L990.82 1057.28 L992.3 1058.17 L993.81 1059.01 L995.35 1059.79 L996.92 1060.52 L998.51 1061.2 L1000.12 1061.81 L1001.75 1062.38 L1003.41 1062.88 L1005.07 1063.33 L1006.76 1063.72 L1008.45 1064.05 L1010.16 1064.32 L1011.88 1064.53 L1013.6 1064.68 L1015.32 1064.77 L1017.05 1064.8 L1018.78 1064.77 L1020.5 1064.68 L1022.22 1064.53 L1023.94 1064.32 L1025.65 1064.05 L1027.34 1063.72 L1029.03 1063.33 L1030.69 1062.88 L1032.35 1062.38 L1033.98 1061.81 L1035.59 1061.2 L1037.18 1060.52 L1038.75 1059.79 L1040.29 1059.01 L1041.8 1058.17 L1043.28 1057.28 L1044.73 1056.34 L1046.15 1055.35 L1047.53 1054.31 L1048.87 1053.22 L1050.17 1052.09 L1051.44 1050.91 L1052.66 1049.69 L1053.84 1048.42 L1054.97 1047.12 L1056.06 1045.78 L1057.1 1044.4 L1058.09 1042.98 L1059.03 1041.53 L1059.92 1040.05 L1060.76 1038.54 L1061.54 1037 L1062.27 1035.43 L1062.95 1033.84 L1063.56 1032.23 L1064.13 1030.6 L1064.63 1028.94 L1065.08 1027.28 L1065.47 1025.59 L1065.8 1023.9 L1066.07 1022.19 L1066.28 1020.47 L1066.43 1018.75 L1066.52 1017.03 L1066.55 1015.3" fill="none" stroke="#ff0000" stroke-width="2.59"/>
<path d="M1056.65 1015.3 L1056.63 1013.92 L1056.55 1012.54 L1056.43 1011.16 L1056.26 1009.79 L1056.05 1008.42 L1055.78 1007.07 L1055.47 1005.72 L1055.12 1004.38 L1054.71 1003.06 L1054.26 1001.76 L1053.77 1000.47 L1053.23 999.19 L1052.64 997.94 L1052.01 996.71 L1051.34 995.5 L1050.63 994.32 L1049.88 993.16 L1049.09 992.02 L1048.26 990.92 L1047.39 989.85 L1046.48 988.8 L1045.54 987.79 L1044.56 986.81 L1043.55 985.87 L1042.5 984.96 L1041.43 984.09 L1040.33 983.26 L1039.19 982.47 L1038.03 981.72 L1036.85 981.01 L1035.64 980.34 L1034.41 979.71 L1033.16 979.12 L1031.88 978.58 L1030.59 978.09 L1029.29 977.64 L1027.97 977.23 L1026.63 976.88 L1025.28 976.57 L1023.93 976.3 L1022.56 976.09 L1021.19 975.92 L1019.81 975.8 L1018.43 975.72 L1017.05 975.7 L1015.67 975.72 L1014.29 975.8 L1012.91 975.92 L1011.54 976.09 L1010.17 976.3 L1008.82 976.57 L1007.47 976.88 L1006.13 977.23 L1004.81 977.64 L1003.51 978.09 L1002.22 978.58 L1000.94 979.12 L999.69 979.71 L998.46 980.34 L997.25 981.01 L996.07 981.72 L994.91 982.47 L993.77 983.26 L992.67 984.09 L991.6 984.96 L990.55 985.87 L989.54 986.81 L988.56 987.79 L987.62 988.8 L986.71 989.85 L985.84 990.92 L985.01 992.02 L984.22 993.16 L983.47 994.32 L982.76 995.5 L982.09 996.71 L981.46 997.94 L980.87 999.19 L980.33 1000.47 L979.84 1001.76 L979.39 1003.06 L978.98 1004.38 L978.63 1005.72 L978.32 1007.07 L978.05 1008.42 L977.84 1009.79 L977.67 1011.16 L977.55 1012.54 L977.47 1013.92 L977.45 1015.3 L977.47 1016.68 L977.55 1018.06 L977.67 1019.44 L977.84 1020.81 L978.05 1022.18 L978.32 1023.53 L978.63 1024.88 L978.98 1026.22 L979.39 1027.54 L979.84 1028.84 L980.33 1030.13 L980.87 1031.41 L981.46 1032.66 L982.09 1033.89 L982.76 1035.1 L983.47 1036.28 L984.22 1037.44 L985.01 1038.58 L985.84 1039.68 L986.71 1040.75 L987.62 1041.8 L988.56 1042.81 L989.54 1043.79 L990.55 1044.73 L991.6 1045.64 L992.67 1046.51 L993.77 1047.34 L994.91 1048.13 L996.07 1048.88 L997.25 1049.59 L998.46 1050.26 L999.69 1050.89 L1000.94 1051.48 L1002.22 1052.02 L1003.51 1052.51 L1004.81 1052.96 L1006.13 1053.37 L1007.47 1053.72 L1008.82 1054.03 L1010.17 1054.3 L1011.54 1054.51 L1012.91 1054.68 L1014.29 1054.8 L1015.67 1054.88 L1017.05 1054.9 L1018.43 1054.88 L1019.81 1054.8 L1021.19 1054.68 L1022.56 1054.51 L1023.93 1054.3 L1025.28 1054.03 L1026.63 1053.72 L1027.97 1053.37 L1029.29 1052.96 L1030.59 1052.51 L1031.88 1052.02 L1033.16 1051.48 L1034.41 1050.89 L1035.64 1050.26 L1036.85 1049.59 L1038.03 1048.88 L1039.19 1048.13 L1040.33 1047.34 L1041.43 1046.51 L1042.5 1045.64 L1043.55 1044.73 L1044.56 1043.79 L1045.54 1042.81 L1046.48 1041.8 L1047.39 1040.75 L1048.26 1039.68 L1049.09 1038.58 L1049.88 1037.44 L1050.63 1036.28 L1051.34 1035.1 L1052.01 1033.89 L1052.64 1032.66 L1053.23 1031.41 L1053.77 1030.13 L1054.26 1028.84 L1054.71 1027.54 L1055.12 1026.22 L1055.47 1024.88 L1055.78 1023.53 L1056.05 1022.18 L1056.26 1020.81 L1056.43 1019.44 L1056.55 1018.06 L1056.63 1016.68 L1056.65 1015.3" fill="none" stroke="#0000ff" stroke-width="2.59"/>
<path d="M1041.8 1015.3 L1041.78 1014.44 L1041.74 1013.57 L1041.66 1012.71 L1041.56 1011.86 L1041.42 1011 L1041.26 1010.15 L1041.06 1009.31 L1040.84 1008.48 L1040.59 1007.65 L1040.31 1006.84 L1040 1006.03 L1039.66 1005.23 L1039.3 1004.45 L1038.9 1003.68 L1038.48 1002.92 L1038.04 1002.18 L1037.57 1001.46 L1037.07 1000.75 L1036.55 1000.06 L1036.01 999.39 L1035.44 998.74 L1034.85 998.11 L1034.24 997.5 L1033.61 996.91 L1032.96 996.34 L1032.29 995.8 L1031.6 995.28 L1030.89 994.78 L1030.17 994.31 L1029.42 993.87 L1028.67 993.45 L1027.9 993.05 L1027.12 992.69 L1026.32 992.35 L1025.51 992.04 L1024.7 991.76 L1023.87 991.51 L1023.04 991.29 L1022.2 991.09 L1021.35 990.93 L1020.49 990.79 L1019.64 990.69 L1018.78 990.61 L1017.91 990.57 L1017.05 990.55 L1016.19 990.57 L1015.32 990.61 L1014.46 990.69 L1013.61 990.79 L1012.75 990.93 L1011.9 991.09 L1011.06 991.29 L1010.23 991.51 L1009.4 991.76 L1008.59 992.04 L1007.78 992.35 L1006.98 992.69 L1006.2 993.05 L1005.43 993.45 L1004.67 993.87 L1003.93 994.31 L1003.21 994.78 L1002.5 995.28 L1001.81 995.8 L1001.14 996.34 L1000.49 996.91 L999.86 997.5 L999.25 998.11 L998.66 998.74 L998.09 999.39 L997.55 1000.06 L997.03 1000.75 L996.53 1001.46 L996.06 1002.18 L995.62 1002.92 L995.2 1003.68 L994.8 1004.45 L994.44 1005.23 L994.1 1006.03 L993.79 1006.84 L993.51 1007.65 L993.26 1008.48 L993.04 1009.31 L992.84 1010.15 L992.68 1011 L992.54 1011.86 L992.44 1012.71 L992.36 1013.57 L992.32 1014.44 L992.3 1015.3 L992.32 1016.16 L992.36 1017.03 L992.44 1017.89 L992.54 1018.74 L992.68 1019.6 L992.84 1020.45 L993.04 1021.29 L993.26 1022.12 L993.51 1022.95 L993.79 1023.76 L994.1 1024.57 L994.44 1025.37 L994.8 1026.15 L995.2 1026.92 L995.62 1027.67 L996.06 1028.42 L996.53 1029.14 L997.03 1029.85 L997.55 1030.54 L998.09 1031.21 L998.66 1031.86 L999.25 1032.49 L999.86 1033.1 L1000.49 1033.69 L1001.14 1034.26 L1001.81 1034.8 L1002.5 1035.32 L1003.21 1035.82 L1003.93 1036.29 L1004.67 1036.73 L1005.43 1037.15 L1006.2 1037.55 L1006.98 1037.91 L1007.78 1038.25 L1008.59 1038.56 L1009.4 1038.84 L1010.23 1039.09 L1011.06 1039.31 L1011.9 1039.51 L1012.75 1039.67 L1013.61 1039.81 L1014.46 1039.91 L1015.32 1039.99 L1016.19 1040.03 L1017.05 1040.05 L1017.91 1040.03 L1018.78 1039.99 L1019.64 1039.91 L1020.49 1039.81 L1021.35 1039.67 L1022.2 1039.51 L1023.04 1039.31 L1023.87 1039.09 L1024.7 1038.84 L1025.51 1038.56 L1026.32 1038.25 L1027.12 1037.91 L1027.9 1037.55 L1028.67 1037.15 L1029.42 1036.73 L1030.17 1036.29 L1030.89 1035.82 L1031.6 1035.32 L1032.29 1034.8 L1032.96 1034.26 L1033.61 1033.69 L1034.24 1033.1 L1034.85 1032.49 L1035.44 1031.86 L1036.01 1031.21 L1036.55 1030.54 L1037.07 1029.85 L1037.57 1029.14 L1038.04 1028.42 L1038.48 1027.67 L1038.9 1026.92 L1039.3 1026.15 L1039.66 1025.37 L1040 1024.57 L1040.31 1023.76 L1040.59 1022.95 L1040.84 1022.12 L1041.06 1021.29 L1041.26 1020.45 L1041.42 1019.6 L1041.56 1018.74 L1041.66 1017.89 L1041.74 1017.03 L1041.78 1016.16 L1041.8 1015.3" fill="none" stroke="#008000" stroke-width="2.59"/>
<text x="1252.91 1262.32 1271.21 1281.32" y="965.8" transform="scale(0.9,1)" font-family='"Liberation Sans", sans-serif' font-size="16.4" fill="#000">40.0</text>
<text x="1128.06 1146.36 1156.48" y="1030.67" transform="scale(0.9,1)" font-family='"Liberation Sans", sans-serif' font-size="16.4" fill="#000">4.0</text>
<path d="M1025.49 1022.47 L1028.19 1019.35 L1028.19 1030.67" fill="none" stroke="#000" stroke-width="1.31" stroke-linejoin="round"/>
<text x="1130.19 1139.61 1148.49 1158.61" y="1018.99" transform="scale(0.9,1)" font-family='"Liberation Sans", sans-serif' font-size="16.4" fill="#000">42.0</text>
<text x="1130.97 1140.47 1149.27 1159.39" y="1024.44" transform="scale(0.9,1)" font-family='"Liberation Sans", sans-serif' font-size="16.4" fill="#000">43.0</text>
<text x="1133.87 1143.37 1152.17 1162.28" y="1016.46" transform="scale(0.9,1)" font-family='"Liberation Sans", sans-serif' font-size="16.4" fill="#000">44.0</text>
<text x="1133.87 1143.37 1152.17 1162.29" y="1026.19" transform="scale(0.9,1)" font-family='"Liberation Sans", sans-serif' font-size="16.4" fill="#000">45.0</text>
<text x="1123.4 1132.81 1141.69 1151.81" y="1028.8" transform="scale(0.9,1)" font-family='"Liberation Sans", sans-serif' font-size="16.4" fill="#000">46.0</text>
<text x="1135.07 1144.49 1153.37 1163.49" y="1028.57" transform="scale(0.9,1)" font-family='"Liberation Sans", sans-serif' font-size="16.4" fill="#000">47.0</text>
<text x="1123.94 1133.44 1142.24 1152.36" y="1029.4" transform="scale(0.9,1)" font-family='"Liberation Sans", sans-serif' font-size="16.4" fill="#000">48.0</text>
<text x="1132.85 1142.27 1151.15 1161.27" y="1019.17" transform="scale(0.9,1)" font-family='"Liberation Sans", sans-serif' font-size="16.4" fill="#000">49.0</text>
<text x="1130.76 1140.18 1149.06 1159.18" y="1029" transform="scale(0.9,1)" font-family='"Liberation Sans", sans-serif' font-size="16.4" fill="#000">50.0</text>
<text x="1134.45 1152.75 1162.87" y="1026.16" transform="scale(0.9,1)" font-family='"Liberation Sans", sans-serif' font-size="16.4" fill="#000">5.0</text>
<path d="M1031.24 1017.96 L1033.94 1014.84 L1033.94 1026.16" fill="none" stroke="#000" stroke-width="1.31" stroke-linejoin="round"/>
<text x="1127.54 1136.96 1145.84 1155.96" y="1019.41" transform="scale(0.9,1)" font-family='"Liberation Sans", sans-serif' font-size="16.4" fill="#000">52.0</text>
<text x="1123.75 1133.25 1142.05 1152.17" y="1027.6" transform="scale(0.9,1)" font-family='"Liberation Sans", sans-serif' font-size="16.4" fill="#000">53.0</text>
<text x="1128.55 1138.05 1146.85 1156.97" y="1027.85" transform="scale(0.9,1)" font-family='"Liberation Sans", sans-serif' font-size="16.4" fill="#000">54.0</text>
<text x="1131.61 1141.11 1149.91 1160.02" y="1015.27" transform="scale(0.9,1)" font-family='"Liberation Sans", sans-serif' font-size="16.4" fill="#000">55.0</text>
<text x="1124.8 1134.22 1143.1 1153.22" y="1025.17" transform="scale(0.9,1)" font-family='"Liberation Sans", sans-serif' font-size="16.4" fill="#000">56.0</text>
<text x="1123.67 1133.09 1141.97 1152.09" y="1028.97" transform="scale(0.9,1)" font-family='"Liberation Sans", sans-serif' font-size="16.4" fill="#000">57.0</text>
<text x="1131.93 1141.43 1150.22 1160.34" y="1019.39" transform="scale(0.9,1)" font-family='"Liberation Sans", sans-serif' font-size="16.4" fill="#000">58.0</text>
<text x="1135.68 1145.1 1153.98 1164.1" y="1021.16" transform="scale(0.9,1)" font-family='"Liberation Sans", sans-serif' font-size="16.4" fill="#000">59.0</text>
<text x="1132.39 1141.89 1150.77 1160.89" y="1020.48" transform="scale(0.9,1)" font-family='"Liberation Sans", sans-serif' font-size="16.4" fill="#000">60.0</text>
<text x="1136.21 1154.59 1164.71" y="1026.67" transform="scale(0.9,1)" font-family='"Liberation Sans", sans-serif' font-size="16.4" fill="#000">6.0</text>
<path d="M1032.89 1018.47 L1035.6 1015.35 L1035.6 1026.67" fill="none" stroke="#000" stroke-width="1.31" stroke-linejoin="round"/>
<text x="1127.33 1136.83 1145.71 1155.83" y="1029.5" transform="scale(0.9,1)" font-family='"Liberation Sans", sans-serif' font-size="16.4" fill="#000">62.0</text>
<text x="1129.54 1139.12 1147.92 1158.04" y="1025.35" transform="scale(0.9,1)" font-family='"Liberation Sans", sans-serif' font-size="16.4" fill="#000">63.0</text>
<text x="1125.65 1135.23 1144.03 1154.15" y="1017.01" transform="scale(0.9,1)" font-family='"Liberation Sans", sans-serif' font-size="16.4" fill="#000">64.0</text>
<text x="1132.91 1142.49 1151.29 1161.41" y="1024.05" transform="scale(0.9,1)" font-family='"Liberation Sans", sans-serif' font-size="16.4" fill="#000">65.0</text>
<text x="1124.16 1133.66 1142.54 1152.66" y="1026.43" transform="scale(0.9,1)" font-family='"Liberation Sans", sans-serif' font-size="16.4" fill="#000">66.0</text>
<text x="1125.89 1135.39 1144.27 1154.39" y="1026.31" transform="scale(0.9,1)" font-family='"Liberation Sans", sans-serif' font-size="16.4" fill="#000">67.0</text>
<text x="1126.82 1136.4 1145.2 1155.32" y="1029.63" transform="scale(0.9,1)" font-family='"Liberation Sans", sans-serif' font-size="16.4" fill="#000">68.0</text>
<text x="1136 1145.5 1154.38 1164.5" y="1030.75" transform="scale(0.9,1)" font-family='"Liberation Sans", sans-serif' font-size="16.4" fill="#000">69.0</text>
<text x="1129.68 1139.18 1148.06 1158.18" y="1016.54" transform="scale(0.9,1)" font-family='"Liberation Sans", sans-serif' font-size="16.4" fill="#000">70.0</text>
<text x="1133 1151.38 1161.5" y="1022.22" transform="scale(0.9,1)" font-family='"Liberation Sans", sans-serif' font-size="16.4" fill="#000">7.0</text>
<path d="M1030 1014.02 L1032.71 1010.91 L1032.71 1022.22" fill="none" stroke="#000" stroke-width="1.31" stroke-linejoin="round"/>
<text x="1129.77 1139.27 1148.15 1158.27" y="1031.55" transform="scale(0.9,1)" font-family='"Liberation Sans", sans-serif' font-size="16.4" fill="#000">72.0</text>
<text x="1135.93 1146.05" y="967.5" transform="scale(0.9,1)" font-family='"Liberation Sans", sans-serif' font-size="16.4" fill="#000">.0</text>
<path d="M1016.1 959.3 L1018.8 956.18 L1018.8 967.5" fill="none" stroke="#000" stroke-width="1.31" stroke-linejoin="round"/>
<text x="1137.94 1147.44 1156.32 1166.44" y="982.5" transform="scale(0.9,1)" font-family='"Liberation Sans", sans-serif' font-size="16.4" fill="#000">60.0</text>
<text x="1153.49 1163.07 1171.87 1181.99" y="997.3" transform="scale(0.9,1)" font-family='"Liberation Sans", sans-serif' font-size="16.4" fill="#000">75.0</text>
<text x="1153.49 1162.99 1171.87 1181.99" y="1009.3" transform="scale(0.9,1)" font-family='"Liberation Sans", sans-serif' font-size="16.4" fill="#000">70.0</text>
<text x="1125.24 1134.74 1143.54 1153.66" y="1050" transform="scale(0.9,1)" font-family='"Liberation Sans", sans-serif' font-size="16.4" fill="#000">84.0</text>
<text x="1102.46 1120.76 1130.88" y="1031.5" transform="scale(0.9,1)" font-family='"Liberation Sans", sans-serif' font-size="16.4" fill="#000">5.0</text>
<path d="M1002.45 1023.3 L1005.15 1020.18 L1005.15 1031.5" fill="none" stroke="#000" stroke-width="1.31" stroke-linejoin="round"/>
<text x="1096.91 1106.41 1115.21 1125.32" y="1034.9" transform="scale(0.9,1)" font-family='"Liberation Sans", sans-serif' font-size="16.4" fill="#000">45.0</text>
<text x="1102.46 1111.96 1120.76 1130.88" y="1040" transform="scale(0.9,1)" font-family='"Liberation Sans", sans-serif' font-size="16.4" fill="#000">53.0</text>
<text x="1119.57 1128.99 1137.87 1147.99" y="1016.1" transform="scale(0.9,1)" font-family='"Liberation Sans", sans-serif' font-size="16.4" fill="#000">47.0</text>
<text x="1134.68 1144.1 1152.98 1163.1" y="1004.2" transform="scale(0.9,1)" font-family='"Liberation Sans", sans-serif' font-size="16.4" fill="#000">80.0</text>
<text x="1148.02 1157.44 1166.32 1176.44" y="999.5" transform="scale(0.9,1)" font-family='"Liberation Sans", sans-serif' font-size="16.4" fill="#000">56.0</text>
<text x="1068.45 1077.33 1087.45" y="997.89" transform="scale(0.9,1)" font-family='"Liberation Sans", sans-serif' font-size="16.4" fill="#000">2.0</text>
<text x="1068.16 1076.96 1087.08" y="992.88" transform="scale(0.9,1)" font-family='"Liberation Sans", sans-serif' font-size="16.4" fill="#000">3.0</text>
<text x="1064.04 1072.84 1082.96" y="1003.26" transform="scale(0.9,1)" font-family='"Liberation Sans", sans-serif' font-size="16.4" fill="#000">4.0</text>
<text x="1055.83 1064.62 1074.74" y="1005.5" transform="scale(0.9,1)" font-family='"Liberation Sans", sans-serif' font-size="16.4" fill="#000">5.0</text>
<text x="1056.96 1065.84 1075.96" y="992.46" transform="scale(0.9,1)" font-family='"Liberation Sans", sans-serif' font-size="16.4" fill="#000">6.0</text>
<text x="1070.33 1079.21 1089.33" y="995.42" transform="scale(0.9,1)" font-family='"Liberation Sans", sans-serif' font-size="16.4" fill="#000">7.0</text>
<text x="1073.52 1082.32 1092.44" y="995.79" transform="scale(0.9,1)" font-family='"Liberation Sans", sans-serif' font-size="16.4" fill="#000">8.0</text>
<text x="1069.63 1078.51 1088.63" y="1006.04" transform="scale(0.9,1)" font-family='"Liberation Sans", sans-serif' font-size="16.4" fill="#000">9.0</text>
<text x="1076.11 1084.99 1095.11" y="1003.79" transform="scale(0.9,1)" font-family='"Liberation Sans", sans-serif' font-size="16.4" fill="#000">0.0</text>
<path d="M961.7 995.59 L964.41 992.48 L964.41 1003.79" fill="none" stroke="#000" stroke-width="1.31" stroke-linejoin="round"/>
<text x="1087.62 1097.74" y="1002.85" transform="scale(0.9,1)" font-family='"Liberation Sans", sans-serif' font-size="16.4" fill="#000">.0</text>
<path d="M964.07 994.65 L966.78 991.54 L966.78 1002.85M972.62 994.65 L975.33 991.54 L975.33 1002.85" fill="none" stroke="#000" stroke-width="1.31" stroke-linejoin="round"/>
<text x="1079.11 1087.99 1098.11" y="999.24" transform="scale(0.9,1)" font-family='"Liberation Sans", sans-serif' font-size="16.4" fill="#000">2.0</text>
<path d="M964.41 991.04 L967.11 987.93 L967.11 999.24" fill="none" stroke="#000" stroke-width="1.31" stroke-linejoin="round"/>
<text x="1065.85 1074.65 1084.76" y="999.33" transform="scale(0.9,1)" font-family='"Liberation Sans", sans-serif' font-size="16.4" fill="#000">3.0</text>
<path d="M952.39 991.13 L955.1 988.02 L955.1 999.33" fill="none" stroke="#000" stroke-width="1.31" stroke-linejoin="round"/>
<text x="1076.05 1084.85 1094.97" y="998.35" transform="scale(0.9,1)" font-family='"Liberation Sans", sans-serif' font-size="16.4" fill="#000">4.0</text>
<path d="M961.58 990.15 L964.28 987.03 L964.28 998.35" fill="none" stroke="#000" stroke-width="1.31" stroke-linejoin="round"/>
<text x="1071.3 1080.1 1090.22" y="1004.4" transform="scale(0.9,1)" font-family='"Liberation Sans", sans-serif' font-size="16.4" fill="#000">5.0</text>
<path d="M957.3 996.2 L960.01 993.09 L960.01 1004.4" fill="none" stroke="#000" stroke-width="1.31" stroke-linejoin="round"/>
<text x="1067.42 1076.3 1086.42" y="1000" transform="scale(0.9,1)" font-family='"Liberation Sans", sans-serif' font-size="16.4" fill="#000">6.0</text>
<path d="M953.88 991.8 L956.59 988.68 L956.59 1000" fill="none" stroke="#000" stroke-width="1.31" stroke-linejoin="round"/>
<text x="1082.81 1091.69 1101.81" y="1005.33" transform="scale(0.9,1)" font-family='"Liberation Sans", sans-serif' font-size="16.4" fill="#000">7.0</text>
<path d="M967.73 997.13 L970.44 994.01 L970.44 1005.33" fill="none" stroke="#000" stroke-width="1.31" stroke-linejoin="round"/>
<text x="1081.2 1090 1100.12" y="993.26" transform="scale(0.9,1)" font-family='"Liberation Sans", sans-serif' font-size="16.4" fill="#000">8.0</text>
<path d="M966.21 985.06 L968.92 981.94 L968.92 993.26" fill="none" stroke="#000" stroke-width="1.31" stroke-linejoin="round"/>
<text x="1070.31 1079.19 1089.31" y="1012.24" transform="scale(0.9,1)" font-family='"Liberation Sans", sans-serif' font-size="16.4" fill="#000">9.0</text>
<path d="M956.48 1004.04 L959.19 1000.92 L959.19 1012.24" fill="none" stroke="#000" stroke-width="1.31" stroke-linejoin="round"/>
<text x="1071.36 1080.86 1089.74 1099.86" y="1002.63" transform="scale(0.9,1)" font-family='"Liberation Sans", sans-serif' font-size="16.4" fill="#000">20.0</text>
<text x="1071.88 1090.26 1100.38" y="998.43" transform="scale(0.9,1)" font-family='"Liberation Sans", sans-serif' font-size="16.4" fill="#000">2.0</text>
<path d="M975 990.23 L977.7 987.11 L977.7 998.43" fill="none" stroke="#000" stroke-width="1.31" stroke-linejoin="round"/>
<text x="1065.69 1075.19 1084.07 1094.19" y="1012.14" transform="scale(0.9,1)" font-family='"Liberation Sans", sans-serif' font-size="16.4" fill="#000">22.0</text>
<text x="1063.48 1073.06 1081.86 1091.98" y="1007.26" transform="scale(0.9,1)" font-family='"Liberation Sans", sans-serif' font-size="16.4" fill="#000">23.0</text>
<text x="1057.04 1066.62 1075.42 1085.54" y="1005.59" transform="scale(0.9,1)" font-family='"Liberation Sans", sans-serif' font-size="16.4" fill="#000">24.0</text>
<text x="1070.02 1079.6 1088.4 1098.52" y="1000.96" transform="scale(0.9,1)" font-family='"Liberation Sans", sans-serif' font-size="16.4" fill="#000">25.0</text>
<text x="1071.03 1080.53 1089.42 1099.53" y="1009.27" transform="scale(0.9,1)" font-family='"Liberation Sans", sans-serif' font-size="16.4" fill="#000">26.0</text>
<text x="1054.46 1063.96 1072.84 1082.96" y="1001.92" transform="scale(0.9,1)" font-family='"Liberation Sans", sans-serif' font-size="16.4" fill="#000">27.0</text>
<text x="1059.53 1069.11 1077.91 1088.03" y="1001.31" transform="scale(0.9,1)" font-family='"Liberation Sans", sans-serif' font-size="16.4" fill="#000">28.0</text>
<text x="1066.29 1075.79 1084.67 1094.79" y="997.8" transform="scale(0.9,1)" font-family='"Liberation Sans", sans-serif' font-size="16.4" fill="#000">29.0</text>
<text x="1066.32 1075.21 1085.32" y="979" transform="scale(0.9,1)" font-family='"Liberation Sans", sans-serif' font-size="16.4" fill="#000">9.0</text>
<path d="M952.9 970.8 L955.6 967.68 L955.6 979" fill="none" stroke="#000" stroke-width="1.31" stroke-linejoin="round"/>
<text x="1047.46 1056.88 1065.76 1075.88" y="989.5" transform="scale(0.9,1)" font-family='"Liberation Sans", sans-serif' font-size="16.4" fill="#000">32.0</text>
<text x="1041.27 1050.77 1059.65 1069.77" y="999" transform="scale(0.9,1)" font-family='"Liberation Sans", sans-serif' font-size="16.4" fill="#000">29.0</text>
<text x="1035.02 1044.52 1053.32 1063.44" y="1009.3" transform="scale(0.9,1)" font-family='"Liberation Sans", sans-serif' font-size="16.4" fill="#000">43.0</text>
<text x="1041.35 1050.77 1059.65 1069.77" y="1021.2" transform="scale(0.9,1)" font-family='"Liberation Sans", sans-serif' font-size="16.4" fill="#000">36.0</text>
<text x="1031.27 1049.65 1059.77" y="1034.9" transform="scale(0.9,1)" font-family='"Liberation Sans", sans-serif' font-size="16.4" fill="#000">2.0</text>
<path d="M938.45 1026.7 L941.15 1023.58 L941.15 1034.9" fill="none" stroke="#000" stroke-width="1.31" stroke-linejoin="round"/>
<text x="1032.16 1041.04 1051.16" y="1045" transform="scale(0.9,1)" font-family='"Liberation Sans", sans-serif' font-size="16.4" fill="#000">6.0</text>
<text x="1041.35 1050.15 1060.27" y="1027.5" transform="scale(0.9,1)" font-family='"Liberation Sans", sans-serif' font-size="16.4" fill="#000">3.0</text>
<text x="1054.6 1064.1 1072.98 1083.1" y="1027.5" transform="scale(0.9,1)" font-family='"Liberation Sans", sans-serif' font-size="16.4" fill="#000">20.0</text>
<text x="1103.57 1112.99 1121.87 1131.99" y="1011.2" transform="scale(0.9,1)" font-family='"Liberation Sans", sans-serif' font-size="16.4" fill="#000">50.0</text>
<text x="1085.16 1094.66 1103.54 1113.66" y="1001.8" transform="scale(0.9,1)" font-family='"Liberation Sans", sans-serif' font-size="16.4" fill="#000">70.0</text>
<text x="1094.68 1104.18 1112.98 1123.1" y="985" transform="scale(0.9,1)" font-family='"Liberation Sans", sans-serif' font-size="16.4" fill="#000">38.0</text>
<text x="1087.94 1097.52 1106.32 1116.44" y="986.5" transform="scale(0.9,1)" font-family='"Liberation Sans", sans-serif' font-size="16.4" fill="#000">28.0</text>
<text x="1060.16 1069.66 1078.54 1088.66" y="1029.5" transform="scale(0.9,1)" font-family='"Liberation Sans", sans-serif' font-size="16.4" fill="#000">20.0</text>
<text x="1037.82 1047.32 1056.21 1066.32" y="999" transform="scale(0.9,1)" font-family='"Liberation Sans", sans-serif' font-size="16.4" fill="#000">27.0</text>
<text x="1033.13 1051.43 1061.55" y="1011.9" transform="scale(0.9,1)" font-family='"Liberation Sans", sans-serif' font-size="16.4" fill="#000">3.0</text>
<path d="M940.05 1003.7 L942.75 1000.58 L942.75 1011.9" fill="none" stroke="#000" stroke-width="1.31" stroke-linejoin="round"/>
<text x="1049.21 1058.09 1068.21" y="1025.5" transform="scale(0.9,1)" font-family='"Liberation Sans", sans-serif' font-size="16.4" fill="#000">6.0</text>
<path d="M937.5 1017.3 L940.2 1014.18 L940.2 1025.5" fill="none" stroke="#000" stroke-width="1.31" stroke-linejoin="round"/>
</g>
<rect x="770.4" y="767.6" width="494.2" height="496.9" fill="none" stroke="#000" stroke-width="1.4"/>
<line x1="819.59" y1="1264.5" x2="819.59" y2="1270.55" stroke="#000" stroke-width="1.4"/>
<text x="921.31 931.14" y="1289.1" transform="scale(0.88,1)" font-family='"Liberation Sans", sans-serif' font-size="16.8" fill="#000">−4</text>
<line x1="764.35" y1="1214.6" x2="770.4" y2="1214.6" stroke="#000" stroke-width="1.4"/>
<text x="841.04 850.86" y="1220.8" transform="scale(0.88,1)" font-family='"Liberation Sans", sans-serif' font-size="16.8" fill="#000">−4</text>
<line x1="918.57" y1="1264.5" x2="918.57" y2="1270.55" stroke="#000" stroke-width="1.4"/>
<text x="1033.79 1043.53" y="1289.1" transform="scale(0.88,1)" font-family='"Liberation Sans", sans-serif' font-size="16.8" fill="#000">−2</text>
<line x1="764.35" y1="1115.2" x2="770.4" y2="1115.2" stroke="#000" stroke-width="1.4"/>
<text x="841.04 850.78" y="1121.4" transform="scale(0.88,1)" font-family='"Liberation Sans", sans-serif' font-size="16.8" fill="#000">−2</text>
<line x1="1017.55" y1="1264.5" x2="1017.55" y2="1270.55" stroke="#000" stroke-width="1.4"/>
<text x="1151.26" y="1289.1" transform="scale(0.88,1)" font-family='"Liberation Sans", sans-serif' font-size="16.8" fill="#000">0</text>
<line x1="764.35" y1="1015.8" x2="770.4" y2="1015.8" stroke="#000" stroke-width="1.4"/>
<text x="850.78" y="1022" transform="scale(0.88,1)" font-family='"Liberation Sans", sans-serif' font-size="16.8" fill="#000">0</text>
<line x1="1116.53" y1="1264.5" x2="1116.53" y2="1270.55" stroke="#000" stroke-width="1.4"/>
<text x="1263.74" y="1289.1" transform="scale(0.88,1)" font-family='"Liberation Sans", sans-serif' font-size="16.8" fill="#000">2</text>
<line x1="764.35" y1="916.4" x2="770.4" y2="916.4" stroke="#000" stroke-width="1.4"/>
<text x="850.78" y="922.6" transform="scale(0.88,1)" font-family='"Liberation Sans", sans-serif' font-size="16.8" fill="#000">2</text>
<line x1="1215.51" y1="1264.5" x2="1215.51" y2="1270.55" stroke="#000" stroke-width="1.4"/>
<text x="1376.3" y="1289.1" transform="scale(0.88,1)" font-family='"Liberation Sans", sans-serif' font-size="16.8" fill="#000">4</text>
<line x1="764.35" y1="817" x2="770.4" y2="817" stroke="#000" stroke-width="1.4"/>
<text x="850.86" y="823.2" transform="scale(0.88,1)" font-family='"Liberation Sans", sans-serif' font-size="16.8" fill="#000">4</text>
<text x="1098.07 1125.33 1136.88 1174.94 1193.55 1202.96 1239.63 1258.24 1267.65 1318.86 1334.05 1345.06" y="756.3" transform="scale(0.8,1)" font-family='"Liberation Sans", sans-serif' font-size="21.4" fill="#000">.8.DieDieark</text>
<text x="1673.61" y="756.3" transform="scale(0.624,1)" font-family='"Liberation Sans", sans-serif' font-size="21.4" fill="#000">M</text>
<path d="M860.47 745.6 L864 741.53 L864 756.3M870.82 745.6 L874.35 741.53 L874.35 756.3M891.52 745.6 L895.05 741.53 L895.05 756.3M922.57 745.6 L926.1 741.53 L926.1 756.3M974.32 745.6 L977.85 741.53 L977.85 756.3M1026.07 745.6 L1029.6 741.53 L1029.6 756.3M1088.17 745.6 L1091.7 741.53 L1091.7 756.3" fill="none" stroke="#000" stroke-width="1.71" stroke-linejoin="round"/>
<line x1="930" y1="748.4" x2="940.6" y2="748.4" stroke="#000" stroke-width="1.5"/>
<text x="1108.3" y="756.3" transform="scale(1,1)" font-family='"Liberation Sans", sans-serif' font-size="21.4" fill="#000">3</text>
<text x="1120.9" y="756.3" transform="scale(1,1)" font-family='"Liberation Sans", sans-serif' font-size="21.4" font-style="italic" fill="#000">σ</text>
<g transform="translate(594,596.4)" fill="none" stroke="#000" stroke-width="1.6" stroke-linecap="round" stroke-linejoin="round">
<path d="M549.1 144.1 Q546.5 148.6 543.1 152.1"/>
<path d="M553.2 143.4 Q555.2 148.2 560.0 151.1"/>
<path d="M546.3 151.6 L556.6 151.6 L556.3 159.4 Q556 160.8 552.5 160.4"/>
<path d="M549.7 152.5 Q549.2 158.6 543.8 161.3"/>
<path d="M562.2 146.6 L580.7 146.6"/>
<path d="M571.0 143.1 Q567.8 150.5 562.5 154.4"/>
<path d="M566.9 151.6 L566.9 159.4"/>
<path d="M566.9 151.6 L578.5 151.6 L578.5 158.2 Q578 159.2 575.4 158.8"/>
<path d="M572.4 148.1 L572.4 161.3"/>
</g>
<rect x="1116.95" y="775.5" width="138.7" height="158" rx="3.5" ry="3.5" fill="#fff" fill-opacity="0.8" stroke="#cccccc" stroke-opacity="0.8" stroke-width="1.73"/>
<line x1="1124.05" y1="791.6" x2="1158.65" y2="791.6" stroke="#ff0000" stroke-width="2.59" stroke-linecap="square"/>
<line x1="1124.05" y1="816.8" x2="1158.65" y2="816.8" stroke="#0000ff" stroke-width="2.59" stroke-linecap="square"/>
<line x1="1124.05" y1="841.6" x2="1158.65" y2="841.6" stroke="#008000" stroke-width="2.59" stroke-linecap="square"/>
<path d="M1124.05 872.4 L1158.65 872.4 L1158.65 861.2 L1124.05 861.2 Z" fill="none" stroke="#a52a2a" stroke-width="2.59"/>
<path d="M1124.05 898.4 L1158.65 898.4 L1158.65 887.2 L1124.05 887.2 Z" fill="none" stroke="#ff00ff" stroke-width="3.46" stroke-dasharray="12.79 5.53"/>
<path d="M1124.05 924.15 L1158.65 924.15 L1158.65 912.95 L1124.05 912.95 Z" fill="none" stroke="#ffa500" stroke-width="3.46" stroke-dasharray="22.13 5.53 3.46 5.53"/>
<text x="1173.95" y="797.1" transform="scale(1,1)" font-family='"Liberation Sans", sans-serif' font-size="18" fill="#000">3</text>
<text x="1184.95" y="797.1" transform="scale(1,1)" font-family='"Liberation Sans", sans-serif' font-size="18" font-style="italic" fill="#000">σ</text>
<text x="1346.93" y="797.1" transform="scale(0.9,1)" font-family='"Liberation Sans", sans-serif' font-size="17" fill="#000">u</text>
<text x="1653.12" y="797.1" transform="scale(0.738,1)" font-family='"Liberation Sans", sans-serif' font-size="17" fill="#000">m</text>
<path d="M1205.31 788.6 L1208.11 785.37 L1208.11 797.1" fill="none" stroke="#000" stroke-width="1.36" stroke-linejoin="round"/>
<text x="1173.95" y="822.3" transform="scale(1,1)" font-family='"Liberation Sans", sans-serif' font-size="18" fill="#000">2</text>
<text x="1184.95" y="822.3" transform="scale(1,1)" font-family='"Liberation Sans", sans-serif' font-size="18" font-style="italic" fill="#000">σ</text>
<text x="1337.21 1346.29 1356.74 1366.38" y="822.3" transform="scale(0.9,1)" font-family='"Liberation Sans", sans-serif' font-size="17" fill="#000">0.8u</text>
<text x="1676.84" y="822.3" transform="scale(0.738,1)" font-family='"Liberation Sans", sans-serif' font-size="17" fill="#000">m</text>
<text x="1173.95" y="847.1" transform="scale(1,1)" font-family='"Liberation Sans", sans-serif' font-size="18" fill="#000">1</text>
<text x="1184.95" y="847.1" transform="scale(1,1)" font-family='"Liberation Sans", sans-serif' font-size="18" font-style="italic" fill="#000">σ</text>
<text x="1337.21 1346.29 1356.74 1366.38" y="847.1" transform="scale(0.9,1)" font-family='"Liberation Sans", sans-serif' font-size="17" fill="#000">0.5u</text>
<text x="1676.84" y="847.1" transform="scale(0.738,1)" font-family='"Liberation Sans", sans-serif' font-size="17" fill="#000">m</text>
<text x="1173.95" y="872.3" transform="scale(1,1)" font-family='"Liberation Sans", sans-serif' font-size="18" fill="#000">1</text>
<text x="1184.95" y="872.3" transform="scale(1,1)" font-family='"Liberation Sans", sans-serif' font-size="18" font-style="italic" fill="#000">σ</text>
<text x="1173.95" y="898.3" transform="scale(1,1)" font-family='"Liberation Sans", sans-serif' font-size="18" fill="#000">2</text>
<text x="1184.95" y="898.3" transform="scale(1,1)" font-family='"Liberation Sans", sans-serif' font-size="18" font-style="italic" fill="#000">σ</text>
<text x="1173.95" y="924.05" transform="scale(1,1)" font-family='"Liberation Sans", sans-serif' font-size="18" fill="#000">3</text>
<text x="1184.95" y="924.05" transform="scale(1,1)" font-family='"Liberation Sans", sans-serif' font-size="18" font-style="italic" fill="#000">σ</text>
</svg></body></html>
